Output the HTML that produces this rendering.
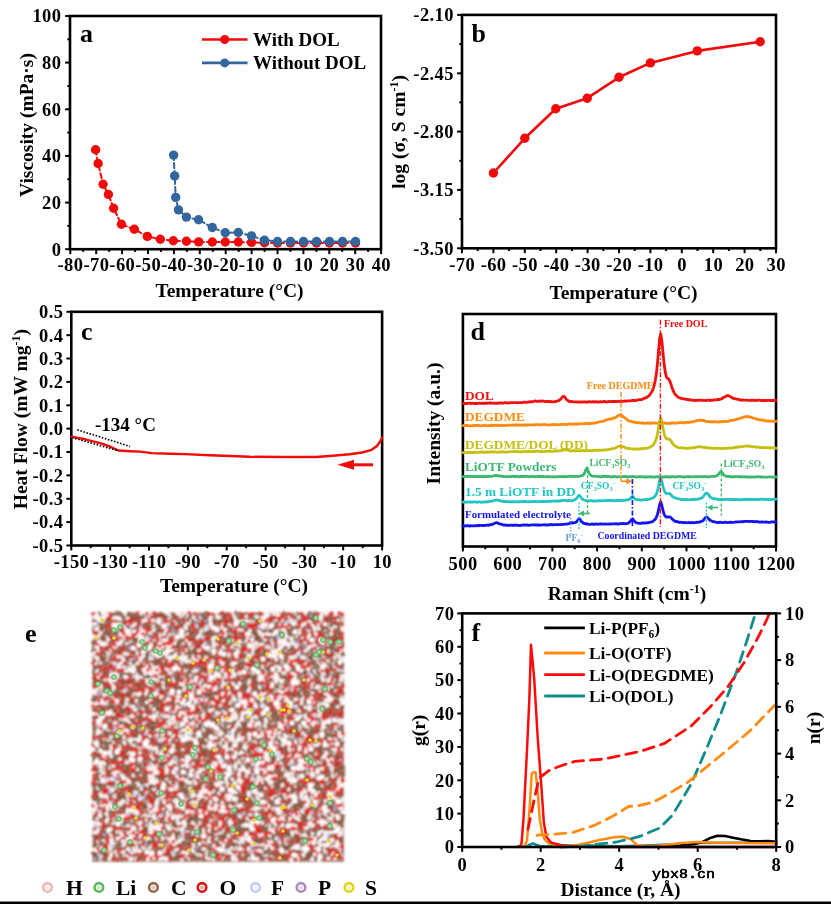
<!DOCTYPE html>
<html><head><meta charset="utf-8"><style>
html,body{margin:0;padding:0;background:#fff;}
svg{display:block;filter:blur(0.45px);}
svg text{font-family:"Liberation Serif",serif;font-weight:bold;}
</style></head><body>
<svg width="831" height="904" viewBox="0 0 831 904">
<defs><filter id="eblur" x="-5%" y="-5%" width="110%" height="110%"><feGaussianBlur stdDeviation="0.9"/></filter><radialGradient id="gsph"><stop offset="0" stop-color="#c0e8c0"/><stop offset="0.5" stop-color="#88cc88"/><stop offset="1" stop-color="#60b060"/></radialGradient><filter id="eblur2"><feGaussianBlur stdDeviation="0.4"/></filter></defs>
<rect width="831" height="904" fill="#fff"/>
<rect x="70" y="16" width="311" height="233.2" fill="none" stroke="#000" stroke-width="2.6"/>
<line x1="70.3" y1="249.2" x2="70.3" y2="254.1" stroke="#000" stroke-width="2" />
<line x1="83.2" y1="249.2" x2="83.2" y2="251.9" stroke="#000" stroke-width="2" />
<line x1="96.2" y1="249.2" x2="96.2" y2="254.1" stroke="#000" stroke-width="2" />
<line x1="109.2" y1="249.2" x2="109.2" y2="251.9" stroke="#000" stroke-width="2" />
<line x1="122.1" y1="249.2" x2="122.1" y2="254.1" stroke="#000" stroke-width="2" />
<line x1="135.1" y1="249.2" x2="135.1" y2="251.9" stroke="#000" stroke-width="2" />
<line x1="148" y1="249.2" x2="148" y2="254.1" stroke="#000" stroke-width="2" />
<line x1="160.9" y1="249.2" x2="160.9" y2="251.9" stroke="#000" stroke-width="2" />
<line x1="173.9" y1="249.2" x2="173.9" y2="254.1" stroke="#000" stroke-width="2" />
<line x1="186.9" y1="249.2" x2="186.9" y2="251.9" stroke="#000" stroke-width="2" />
<line x1="199.8" y1="249.2" x2="199.8" y2="254.1" stroke="#000" stroke-width="2" />
<line x1="212.8" y1="249.2" x2="212.8" y2="251.9" stroke="#000" stroke-width="2" />
<line x1="225.7" y1="249.2" x2="225.7" y2="254.1" stroke="#000" stroke-width="2" />
<line x1="238.7" y1="249.2" x2="238.7" y2="251.9" stroke="#000" stroke-width="2" />
<line x1="251.6" y1="249.2" x2="251.6" y2="254.1" stroke="#000" stroke-width="2" />
<line x1="264.6" y1="249.2" x2="264.6" y2="251.9" stroke="#000" stroke-width="2" />
<line x1="277.5" y1="249.2" x2="277.5" y2="254.1" stroke="#000" stroke-width="2" />
<line x1="290.4" y1="249.2" x2="290.4" y2="251.9" stroke="#000" stroke-width="2" />
<line x1="303.4" y1="249.2" x2="303.4" y2="254.1" stroke="#000" stroke-width="2" />
<line x1="316.4" y1="249.2" x2="316.4" y2="251.9" stroke="#000" stroke-width="2" />
<line x1="329.3" y1="249.2" x2="329.3" y2="254.1" stroke="#000" stroke-width="2" />
<line x1="342.2" y1="249.2" x2="342.2" y2="251.9" stroke="#000" stroke-width="2" />
<line x1="355.2" y1="249.2" x2="355.2" y2="254.1" stroke="#000" stroke-width="2" />
<line x1="368.1" y1="249.2" x2="368.1" y2="251.9" stroke="#000" stroke-width="2" />
<line x1="381.1" y1="249.2" x2="381.1" y2="254.1" stroke="#000" stroke-width="2" />
<text x="70.5" y="271.3" font-size="18.5" text-anchor="middle" fill="#000"  letter-spacing="0.4">-80</text>
<text x="96.4" y="271.3" font-size="18.5" text-anchor="middle" fill="#000"  letter-spacing="0.4">-70</text>
<text x="122.3" y="271.3" font-size="18.5" text-anchor="middle" fill="#000"  letter-spacing="0.4">-60</text>
<text x="148.2" y="271.3" font-size="18.5" text-anchor="middle" fill="#000"  letter-spacing="0.4">-50</text>
<text x="174.1" y="271.3" font-size="18.5" text-anchor="middle" fill="#000"  letter-spacing="0.4">-40</text>
<text x="200" y="271.3" font-size="18.5" text-anchor="middle" fill="#000"  letter-spacing="0.4">-30</text>
<text x="225.9" y="271.3" font-size="18.5" text-anchor="middle" fill="#000"  letter-spacing="0.4">-20</text>
<text x="251.8" y="271.3" font-size="18.5" text-anchor="middle" fill="#000"  letter-spacing="0.4">-10</text>
<text x="277.7" y="271.3" font-size="18.5" text-anchor="middle" fill="#000"  letter-spacing="0.4">0</text>
<text x="303.6" y="271.3" font-size="18.5" text-anchor="middle" fill="#000"  letter-spacing="0.4">10</text>
<text x="329.5" y="271.3" font-size="18.5" text-anchor="middle" fill="#000"  letter-spacing="0.4">20</text>
<text x="355.4" y="271.3" font-size="18.5" text-anchor="middle" fill="#000"  letter-spacing="0.4">30</text>
<text x="381.3" y="271.3" font-size="18.5" text-anchor="middle" fill="#000"  letter-spacing="0.4">40</text>
<line x1="65.1" y1="249.2" x2="70" y2="249.2" stroke="#000" stroke-width="2" />
<line x1="67.3" y1="225.9" x2="70" y2="225.9" stroke="#000" stroke-width="2" />
<line x1="65.1" y1="202.6" x2="70" y2="202.6" stroke="#000" stroke-width="2" />
<line x1="67.3" y1="179.2" x2="70" y2="179.2" stroke="#000" stroke-width="2" />
<line x1="65.1" y1="155.9" x2="70" y2="155.9" stroke="#000" stroke-width="2" />
<line x1="67.3" y1="132.6" x2="70" y2="132.6" stroke="#000" stroke-width="2" />
<line x1="65.1" y1="109.3" x2="70" y2="109.3" stroke="#000" stroke-width="2" />
<line x1="67.3" y1="86" x2="70" y2="86" stroke="#000" stroke-width="2" />
<line x1="65.1" y1="62.6" x2="70" y2="62.6" stroke="#000" stroke-width="2" />
<line x1="67.3" y1="39.3" x2="70" y2="39.3" stroke="#000" stroke-width="2" />
<line x1="65.1" y1="16" x2="70" y2="16" stroke="#000" stroke-width="2" />
<text x="61.4" y="255.5" font-size="18.5" text-anchor="end" fill="#000"  letter-spacing="0.4">0</text>
<text x="61.4" y="208.9" font-size="18.5" text-anchor="end" fill="#000"  letter-spacing="0.4">20</text>
<text x="61.4" y="162.2" font-size="18.5" text-anchor="end" fill="#000"  letter-spacing="0.4">40</text>
<text x="61.4" y="115.6" font-size="18.5" text-anchor="end" fill="#000"  letter-spacing="0.4">60</text>
<text x="61.4" y="68.9" font-size="18.5" text-anchor="end" fill="#000"  letter-spacing="0.4">80</text>
<text x="61.4" y="22.3" font-size="18.5" text-anchor="end" fill="#000"  letter-spacing="0.4">100</text>
<text transform="translate(33,125) rotate(-90)" font-size="19.5" text-anchor="middle" fill="#000">Viscosity (mPa·s)</text>
<text x="229.5" y="297" font-size="19.5" text-anchor="middle" fill="#000" >Temperature (°C)</text>
<text x="80" y="41.5" font-size="26" text-anchor="start" fill="#000" >a</text>
<path d="M95.6 149.8 L98.1 163.5 L103.1 184.2 L108.4 194.5 L113.6 208.3 L121.4 224.2 L134.3 229.3 L147.3 236.4 L160.3 239.3 L173.3 240.8 L186.4 241.3 L198.7 241.9 L212.3 242 L225.3 242 L238.3 242 L251.5 242.4 L264.5 242.8 L277.5 243 L290.5 243 L303.5 243 L316.5 243 L329.5 243 L342.5 243 L355.5 243" fill="none" stroke="#f00a0a" stroke-width="2" stroke-linejoin="round" stroke-linecap="round" stroke-dasharray="5 3"/>
<circle cx="95.6" cy="149.8" r="4.7" fill="#f00a0a"/>
<circle cx="98.1" cy="163.5" r="4.7" fill="#f00a0a"/>
<circle cx="103.1" cy="184.2" r="4.7" fill="#f00a0a"/>
<circle cx="108.4" cy="194.5" r="4.7" fill="#f00a0a"/>
<circle cx="113.6" cy="208.3" r="4.7" fill="#f00a0a"/>
<circle cx="121.4" cy="224.2" r="4.7" fill="#f00a0a"/>
<circle cx="134.3" cy="229.3" r="4.7" fill="#f00a0a"/>
<circle cx="147.3" cy="236.4" r="4.7" fill="#f00a0a"/>
<circle cx="160.3" cy="239.3" r="4.7" fill="#f00a0a"/>
<circle cx="173.3" cy="240.8" r="4.7" fill="#f00a0a"/>
<circle cx="186.4" cy="241.3" r="4.7" fill="#f00a0a"/>
<circle cx="198.7" cy="241.9" r="4.7" fill="#f00a0a"/>
<circle cx="212.3" cy="242" r="4.7" fill="#f00a0a"/>
<circle cx="225.3" cy="242" r="4.7" fill="#f00a0a"/>
<circle cx="238.3" cy="242" r="4.7" fill="#f00a0a"/>
<circle cx="251.5" cy="242.4" r="4.7" fill="#f00a0a"/>
<circle cx="264.5" cy="242.8" r="4.7" fill="#f00a0a"/>
<circle cx="277.5" cy="243" r="4.7" fill="#f00a0a"/>
<circle cx="290.5" cy="243" r="4.7" fill="#f00a0a"/>
<circle cx="303.5" cy="243" r="4.7" fill="#f00a0a"/>
<circle cx="316.5" cy="243" r="4.7" fill="#f00a0a"/>
<circle cx="329.5" cy="243" r="4.7" fill="#f00a0a"/>
<circle cx="342.5" cy="243" r="4.7" fill="#f00a0a"/>
<circle cx="355.5" cy="243" r="4.7" fill="#f00a0a"/>
<path d="M173.6 155.1 L174.7 175.9 L175.7 197.4 L178.5 209.9 L186.4 217.1 L198.6 219.8 L212.3 227.5 L225.3 232.7 L238.3 232.5 L251.5 235.9 L264.5 240.2 L277.5 241.5 L290.5 241.5 L303.5 241.5 L316.5 241.5 L329.5 241.5 L342.5 241.5 L355.5 241.5" fill="none" stroke="#33659e" stroke-width="2" stroke-linejoin="round" stroke-linecap="round" stroke-dasharray="5 3"/>
<circle cx="173.6" cy="155.1" r="4.7" fill="#33659e"/>
<circle cx="174.7" cy="175.9" r="4.7" fill="#33659e"/>
<circle cx="175.7" cy="197.4" r="4.7" fill="#33659e"/>
<circle cx="178.5" cy="209.9" r="4.7" fill="#33659e"/>
<circle cx="186.4" cy="217.1" r="4.7" fill="#33659e"/>
<circle cx="198.6" cy="219.8" r="4.7" fill="#33659e"/>
<circle cx="212.3" cy="227.5" r="4.7" fill="#33659e"/>
<circle cx="225.3" cy="232.7" r="4.7" fill="#33659e"/>
<circle cx="238.3" cy="232.5" r="4.7" fill="#33659e"/>
<circle cx="251.5" cy="235.9" r="4.7" fill="#33659e"/>
<circle cx="264.5" cy="240.2" r="4.7" fill="#33659e"/>
<circle cx="277.5" cy="241.5" r="4.7" fill="#33659e"/>
<circle cx="290.5" cy="241.5" r="4.7" fill="#33659e"/>
<circle cx="303.5" cy="241.5" r="4.7" fill="#33659e"/>
<circle cx="316.5" cy="241.5" r="4.7" fill="#33659e"/>
<circle cx="329.5" cy="241.5" r="4.7" fill="#33659e"/>
<circle cx="342.5" cy="241.5" r="4.7" fill="#33659e"/>
<circle cx="355.5" cy="241.5" r="4.7" fill="#33659e"/>
<line x1="202" y1="39.5" x2="247.5" y2="39.5" stroke="#f00a0a" stroke-width="2.6" />
<circle cx="224.7" cy="39.5" r="4.5" fill="#f00a0a"/>
<line x1="202" y1="62.9" x2="247.5" y2="62.9" stroke="#33659e" stroke-width="2.6" />
<circle cx="224.7" cy="62.9" r="4.5" fill="#33659e"/>
<text x="253" y="45.6" font-size="19" text-anchor="start" fill="#000" >With DOL</text>
<text x="253" y="69" font-size="19" text-anchor="start" fill="#000" >Without DOL</text>
<rect x="462" y="14.9" width="314" height="233.4" fill="none" stroke="#000" stroke-width="2.6"/>
<line x1="462" y1="248.3" x2="462" y2="253.2" stroke="#000" stroke-width="2" />
<line x1="477.7" y1="248.3" x2="477.7" y2="251" stroke="#000" stroke-width="2" />
<line x1="493.4" y1="248.3" x2="493.4" y2="253.2" stroke="#000" stroke-width="2" />
<line x1="509.1" y1="248.3" x2="509.1" y2="251" stroke="#000" stroke-width="2" />
<line x1="524.8" y1="248.3" x2="524.8" y2="253.2" stroke="#000" stroke-width="2" />
<line x1="540.5" y1="248.3" x2="540.5" y2="251" stroke="#000" stroke-width="2" />
<line x1="556.2" y1="248.3" x2="556.2" y2="253.2" stroke="#000" stroke-width="2" />
<line x1="571.9" y1="248.3" x2="571.9" y2="251" stroke="#000" stroke-width="2" />
<line x1="587.6" y1="248.3" x2="587.6" y2="253.2" stroke="#000" stroke-width="2" />
<line x1="603.3" y1="248.3" x2="603.3" y2="251" stroke="#000" stroke-width="2" />
<line x1="619" y1="248.3" x2="619" y2="253.2" stroke="#000" stroke-width="2" />
<line x1="634.7" y1="248.3" x2="634.7" y2="251" stroke="#000" stroke-width="2" />
<line x1="650.4" y1="248.3" x2="650.4" y2="253.2" stroke="#000" stroke-width="2" />
<line x1="666.1" y1="248.3" x2="666.1" y2="251" stroke="#000" stroke-width="2" />
<line x1="681.8" y1="248.3" x2="681.8" y2="253.2" stroke="#000" stroke-width="2" />
<line x1="697.5" y1="248.3" x2="697.5" y2="251" stroke="#000" stroke-width="2" />
<line x1="713.2" y1="248.3" x2="713.2" y2="253.2" stroke="#000" stroke-width="2" />
<line x1="728.9" y1="248.3" x2="728.9" y2="251" stroke="#000" stroke-width="2" />
<line x1="744.6" y1="248.3" x2="744.6" y2="253.2" stroke="#000" stroke-width="2" />
<line x1="760.3" y1="248.3" x2="760.3" y2="251" stroke="#000" stroke-width="2" />
<line x1="776" y1="248.3" x2="776" y2="253.2" stroke="#000" stroke-width="2" />
<text x="462.2" y="271.3" font-size="18.5" text-anchor="middle" fill="#000"  letter-spacing="0.4">-70</text>
<text x="493.6" y="271.3" font-size="18.5" text-anchor="middle" fill="#000"  letter-spacing="0.4">-60</text>
<text x="525" y="271.3" font-size="18.5" text-anchor="middle" fill="#000"  letter-spacing="0.4">-50</text>
<text x="556.4" y="271.3" font-size="18.5" text-anchor="middle" fill="#000"  letter-spacing="0.4">-40</text>
<text x="587.8" y="271.3" font-size="18.5" text-anchor="middle" fill="#000"  letter-spacing="0.4">-30</text>
<text x="619.2" y="271.3" font-size="18.5" text-anchor="middle" fill="#000"  letter-spacing="0.4">-20</text>
<text x="650.6" y="271.3" font-size="18.5" text-anchor="middle" fill="#000"  letter-spacing="0.4">-10</text>
<text x="682" y="271.3" font-size="18.5" text-anchor="middle" fill="#000"  letter-spacing="0.4">0</text>
<text x="713.4" y="271.3" font-size="18.5" text-anchor="middle" fill="#000"  letter-spacing="0.4">10</text>
<text x="744.8" y="271.3" font-size="18.5" text-anchor="middle" fill="#000"  letter-spacing="0.4">20</text>
<text x="776.2" y="271.3" font-size="18.5" text-anchor="middle" fill="#000"  letter-spacing="0.4">30</text>
<line x1="457.1" y1="14.9" x2="462" y2="14.9" stroke="#000" stroke-width="2" />
<line x1="459.3" y1="44.1" x2="462" y2="44.1" stroke="#000" stroke-width="2" />
<line x1="457.1" y1="73.3" x2="462" y2="73.3" stroke="#000" stroke-width="2" />
<line x1="459.3" y1="102.4" x2="462" y2="102.4" stroke="#000" stroke-width="2" />
<line x1="457.1" y1="131.6" x2="462" y2="131.6" stroke="#000" stroke-width="2" />
<line x1="459.3" y1="160.8" x2="462" y2="160.8" stroke="#000" stroke-width="2" />
<line x1="457.1" y1="189.9" x2="462" y2="189.9" stroke="#000" stroke-width="2" />
<line x1="459.3" y1="219.1" x2="462" y2="219.1" stroke="#000" stroke-width="2" />
<line x1="457.1" y1="248.3" x2="462" y2="248.3" stroke="#000" stroke-width="2" />
<text x="453.9" y="21.2" font-size="18.5" text-anchor="end" fill="#000"  letter-spacing="0.4">-2.10</text>
<text x="453.9" y="79.6" font-size="18.5" text-anchor="end" fill="#000"  letter-spacing="0.4">-2.45</text>
<text x="453.9" y="137.9" font-size="18.5" text-anchor="end" fill="#000"  letter-spacing="0.4">-2.80</text>
<text x="453.9" y="196.2" font-size="18.5" text-anchor="end" fill="#000"  letter-spacing="0.4">-3.15</text>
<text x="453.9" y="254.6" font-size="18.5" text-anchor="end" fill="#000"  letter-spacing="0.4">-3.50</text>
<text transform="translate(405.2,188.8) rotate(-90)" font-size="19.5" text-anchor="start">log (σ, S cm<tspan font-size="12" dy="-7">-1</tspan><tspan dy="7">)</tspan></text>
<text x="623.5" y="299" font-size="19.5" text-anchor="middle" fill="#000" >Temperature (°C)</text>
<text x="471.5" y="42.2" font-size="26" text-anchor="start" fill="#000" >b</text>
<path d="M493.4 173 L524.8 138.3 L555.8 108.7 L587.2 98.2 L619 77.3 L650.4 62.9 L697.3 50.9 L760.2 41.8" fill="none" stroke="#f00a0a" stroke-width="2.6" stroke-linejoin="round" stroke-linecap="round" />
<circle cx="493.4" cy="173" r="4.7" fill="#f00a0a"/>
<circle cx="524.8" cy="138.3" r="4.7" fill="#f00a0a"/>
<circle cx="555.8" cy="108.7" r="4.7" fill="#f00a0a"/>
<circle cx="587.2" cy="98.2" r="4.7" fill="#f00a0a"/>
<circle cx="619" cy="77.3" r="4.7" fill="#f00a0a"/>
<circle cx="650.4" cy="62.9" r="4.7" fill="#f00a0a"/>
<circle cx="697.3" cy="50.9" r="4.7" fill="#f00a0a"/>
<circle cx="760.2" cy="41.8" r="4.7" fill="#f00a0a"/>
<rect x="71.3" y="311.8" width="310.8" height="233.7" fill="none" stroke="#000" stroke-width="2.6"/>
<line x1="71.3" y1="545.5" x2="71.3" y2="550.4" stroke="#000" stroke-width="2" />
<line x1="90.7" y1="545.5" x2="90.7" y2="548.2" stroke="#000" stroke-width="2" />
<line x1="110.2" y1="545.5" x2="110.2" y2="550.4" stroke="#000" stroke-width="2" />
<line x1="129.6" y1="545.5" x2="129.6" y2="548.2" stroke="#000" stroke-width="2" />
<line x1="149" y1="545.5" x2="149" y2="550.4" stroke="#000" stroke-width="2" />
<line x1="168.4" y1="545.5" x2="168.4" y2="548.2" stroke="#000" stroke-width="2" />
<line x1="187.8" y1="545.5" x2="187.8" y2="550.4" stroke="#000" stroke-width="2" />
<line x1="207.3" y1="545.5" x2="207.3" y2="548.2" stroke="#000" stroke-width="2" />
<line x1="226.7" y1="545.5" x2="226.7" y2="550.4" stroke="#000" stroke-width="2" />
<line x1="246.1" y1="545.5" x2="246.1" y2="548.2" stroke="#000" stroke-width="2" />
<line x1="265.6" y1="545.5" x2="265.6" y2="550.4" stroke="#000" stroke-width="2" />
<line x1="285" y1="545.5" x2="285" y2="548.2" stroke="#000" stroke-width="2" />
<line x1="304.4" y1="545.5" x2="304.4" y2="550.4" stroke="#000" stroke-width="2" />
<line x1="323.8" y1="545.5" x2="323.8" y2="548.2" stroke="#000" stroke-width="2" />
<line x1="343.2" y1="545.5" x2="343.2" y2="550.4" stroke="#000" stroke-width="2" />
<line x1="362.7" y1="545.5" x2="362.7" y2="548.2" stroke="#000" stroke-width="2" />
<line x1="382.1" y1="545.5" x2="382.1" y2="550.4" stroke="#000" stroke-width="2" />
<text x="71.5" y="567.6" font-size="18.5" text-anchor="middle" fill="#000"  letter-spacing="0.4">-150</text>
<text x="110.4" y="567.6" font-size="18.5" text-anchor="middle" fill="#000"  letter-spacing="0.4">-130</text>
<text x="149.2" y="567.6" font-size="18.5" text-anchor="middle" fill="#000"  letter-spacing="0.4">-110</text>
<text x="188" y="567.6" font-size="18.5" text-anchor="middle" fill="#000"  letter-spacing="0.4">-90</text>
<text x="226.9" y="567.6" font-size="18.5" text-anchor="middle" fill="#000"  letter-spacing="0.4">-70</text>
<text x="265.8" y="567.6" font-size="18.5" text-anchor="middle" fill="#000"  letter-spacing="0.4">-50</text>
<text x="304.6" y="567.6" font-size="18.5" text-anchor="middle" fill="#000"  letter-spacing="0.4">-30</text>
<text x="343.4" y="567.6" font-size="18.5" text-anchor="middle" fill="#000"  letter-spacing="0.4">-10</text>
<text x="382.3" y="567.6" font-size="18.5" text-anchor="middle" fill="#000"  letter-spacing="0.4">10</text>
<line x1="66.4" y1="311.8" x2="71.3" y2="311.8" stroke="#000" stroke-width="2" />
<text x="63.4" y="318.1" font-size="18.5" text-anchor="end" fill="#000"  letter-spacing="0.4">0.5</text>
<line x1="66.4" y1="335.2" x2="71.3" y2="335.2" stroke="#000" stroke-width="2" />
<text x="63.4" y="341.5" font-size="18.5" text-anchor="end" fill="#000"  letter-spacing="0.4">0.4</text>
<line x1="66.4" y1="358.5" x2="71.3" y2="358.5" stroke="#000" stroke-width="2" />
<text x="63.4" y="364.8" font-size="18.5" text-anchor="end" fill="#000"  letter-spacing="0.4">0.3</text>
<line x1="66.4" y1="381.9" x2="71.3" y2="381.9" stroke="#000" stroke-width="2" />
<text x="63.4" y="388.2" font-size="18.5" text-anchor="end" fill="#000"  letter-spacing="0.4">0.2</text>
<line x1="66.4" y1="405.3" x2="71.3" y2="405.3" stroke="#000" stroke-width="2" />
<text x="63.4" y="411.6" font-size="18.5" text-anchor="end" fill="#000"  letter-spacing="0.4">0.1</text>
<line x1="66.4" y1="428.6" x2="71.3" y2="428.6" stroke="#000" stroke-width="2" />
<text x="63.4" y="434.9" font-size="18.5" text-anchor="end" fill="#000"  letter-spacing="0.4">0.0</text>
<line x1="66.4" y1="452" x2="71.3" y2="452" stroke="#000" stroke-width="2" />
<text x="63.4" y="458.3" font-size="18.5" text-anchor="end" fill="#000"  letter-spacing="0.4">-0.1</text>
<line x1="66.4" y1="475.4" x2="71.3" y2="475.4" stroke="#000" stroke-width="2" />
<text x="63.4" y="481.7" font-size="18.5" text-anchor="end" fill="#000"  letter-spacing="0.4">-0.2</text>
<line x1="66.4" y1="498.8" x2="71.3" y2="498.8" stroke="#000" stroke-width="2" />
<text x="63.4" y="505.1" font-size="18.5" text-anchor="end" fill="#000"  letter-spacing="0.4">-0.3</text>
<line x1="66.4" y1="522.1" x2="71.3" y2="522.1" stroke="#000" stroke-width="2" />
<text x="63.4" y="528.4" font-size="18.5" text-anchor="end" fill="#000"  letter-spacing="0.4">-0.4</text>
<line x1="66.4" y1="545.5" x2="71.3" y2="545.5" stroke="#000" stroke-width="2" />
<text x="63.4" y="551.8" font-size="18.5" text-anchor="end" fill="#000"  letter-spacing="0.4">-0.5</text>
<text transform="translate(26.5,509.2) rotate(-90)" font-size="19.5" text-anchor="start">Heat Flow (mW mg<tspan font-size="12" dy="-7">-1</tspan><tspan dy="7">)</tspan></text>
<text x="234" y="592" font-size="19.5" text-anchor="middle" fill="#000" >Temperature (°C)</text>
<text x="81" y="340" font-size="26" text-anchor="start" fill="#000" >c</text>
<path d="M71.3 436.6 L85 439.3 L101.1 443.3 L110 446.5 L118.4 450.5 L130 451.2 L140 451.6 L151.6 453.1 L170 453.8 L185 454.1 L210 455.3 L250 456.8 L283 457 L316 457 L330 456 L349.6 454.2 L362 452.5 L371.7 449.8 L377 446 L380.5 441 L382 437.5" fill="none" stroke="#f00a0a" stroke-width="2.4" stroke-linejoin="round" stroke-linecap="round" />
<line x1="77.3" y1="429.8" x2="130" y2="446.4" stroke="#000" stroke-width="1.6" stroke-dasharray="1.6 1.6"/>
<line x1="72" y1="437.6" x2="118.4" y2="450.8" stroke="#000" stroke-width="1.6" stroke-dasharray="1.6 1.6"/>
<text x="95" y="431" font-size="19" text-anchor="start" fill="#000" >-134 °C</text>
<line x1="352" y1="464.8" x2="373" y2="464.8" stroke="#f00a0a" stroke-width="3" />
<path d="M337.4 464.8 L354 459.8 L354 469.8 Z" fill="#f00a0a"/>
<rect x="462.9" y="314" width="313.1" height="232.5" fill="none" stroke="#000" stroke-width="2.6"/>
<line x1="462.9" y1="546.5" x2="462.9" y2="551.4" stroke="#000" stroke-width="2" />
<line x1="485.3" y1="546.5" x2="485.3" y2="549.2" stroke="#000" stroke-width="2" />
<line x1="507.6" y1="546.5" x2="507.6" y2="551.4" stroke="#000" stroke-width="2" />
<line x1="530" y1="546.5" x2="530" y2="549.2" stroke="#000" stroke-width="2" />
<line x1="552.4" y1="546.5" x2="552.4" y2="551.4" stroke="#000" stroke-width="2" />
<line x1="574.7" y1="546.5" x2="574.7" y2="549.2" stroke="#000" stroke-width="2" />
<line x1="597.1" y1="546.5" x2="597.1" y2="551.4" stroke="#000" stroke-width="2" />
<line x1="619.5" y1="546.5" x2="619.5" y2="549.2" stroke="#000" stroke-width="2" />
<line x1="641.8" y1="546.5" x2="641.8" y2="551.4" stroke="#000" stroke-width="2" />
<line x1="664.2" y1="546.5" x2="664.2" y2="549.2" stroke="#000" stroke-width="2" />
<line x1="686.5" y1="546.5" x2="686.5" y2="551.4" stroke="#000" stroke-width="2" />
<line x1="708.9" y1="546.5" x2="708.9" y2="549.2" stroke="#000" stroke-width="2" />
<line x1="731.3" y1="546.5" x2="731.3" y2="551.4" stroke="#000" stroke-width="2" />
<line x1="753.6" y1="546.5" x2="753.6" y2="549.2" stroke="#000" stroke-width="2" />
<line x1="776" y1="546.5" x2="776" y2="551.4" stroke="#000" stroke-width="2" />
<text x="463.1" y="569.8" font-size="18.5" text-anchor="middle" fill="#000"  letter-spacing="0.4">500</text>
<text x="507.8" y="569.8" font-size="18.5" text-anchor="middle" fill="#000"  letter-spacing="0.4">600</text>
<text x="552.6" y="569.8" font-size="18.5" text-anchor="middle" fill="#000"  letter-spacing="0.4">700</text>
<text x="597.3" y="569.8" font-size="18.5" text-anchor="middle" fill="#000"  letter-spacing="0.4">800</text>
<text x="642" y="569.8" font-size="18.5" text-anchor="middle" fill="#000"  letter-spacing="0.4">900</text>
<text x="686.7" y="569.8" font-size="18.5" text-anchor="middle" fill="#000"  letter-spacing="0.4">1000</text>
<text x="731.5" y="569.8" font-size="18.5" text-anchor="middle" fill="#000"  letter-spacing="0.4">1100</text>
<text x="776.2" y="569.8" font-size="18.5" text-anchor="middle" fill="#000"  letter-spacing="0.4">1200</text>
<text transform="translate(440,423.5) rotate(-90)" font-size="19.5" text-anchor="middle" fill="#000">Intensity (a.u.)</text>
<text x="627" y="599.5" font-size="19.5" text-anchor="middle">Raman Shift (cm<tspan font-size="12" dy="-7">-1</tspan><tspan dy="7">)</tspan></text>
<text x="470.5" y="340.2" font-size="26" text-anchor="start" fill="#000" >d</text>
<path d="M462.9 403.3 L464 403.5 L465.1 403.3 L466.3 403.5 L467.4 403.5 L468.5 403.1 L469.6 403.1 L470.7 403.6 L471.8 403.2 L473 403.2 L474.1 403.6 L475.2 403.3 L476.3 403.5 L477.4 403.3 L478.6 403.3 L479.7 403 L480.8 403.3 L481.9 403.4 L483 403.2 L484.1 403.3 L485.3 403.3 L486.4 402.9 L487.5 403.3 L488.6 403.2 L489.7 403 L490.9 402.8 L492 403.3 L493.1 403.1 L494.2 403.2 L495.3 403.3 L496.4 403.2 L497.6 403.3 L498.7 402.9 L499.8 403.2 L500.9 402.9 L502 403.2 L503.2 403.2 L504.3 402.7 L505.4 402.7 L506.5 402.7 L507.6 403.1 L508.7 402.8 L509.9 402.9 L511 402.6 L512.1 402.7 L513.2 402.6 L514.3 402.6 L515.5 402.7 L516.6 402.7 L517.7 402.8 L518.8 402.6 L519.9 402.7 L521 402.6 L522.2 402.7 L523.3 402.4 L524.4 402 L525.5 402.4 L526.6 402.4 L527.8 402.2 L528.9 402 L530 401.9 L531.1 401.5 L532.2 401.8 L533.3 401.5 L534.5 401.2 L535.6 401 L536.7 401.4 L537.8 401.4 L538.9 400.9 L540.1 401.3 L541.2 401.1 L542.3 401 L543.4 401.2 L544.5 401.5 L545.6 401.7 L546.8 401.2 L547.9 401.6 L549 401.3 L550.1 401.8 L551.2 401.5 L552.4 401.9 L553.5 401.9 L554.6 401.5 L555.7 401.7 L556.8 401.2 L557.9 400.7 L559.1 400.6 L560.2 399.5 L561.3 398.4 L562.4 397 L563.5 396.2 L564.7 396.9 L565.8 398.4 L566.9 400.1 L568 400.5 L569.1 401.3 L570.2 401.6 L571.4 401.5 L572.5 401.7 L573.6 401.8 L574.7 401.9 L575.8 401.9 L577 402 L578.1 402 L579.2 402.2 L580.3 402 L581.4 401.9 L582.5 402.1 L583.7 401.8 L584.8 401.9 L585.9 402.3 L587 402 L588.1 402 L589.3 401.7 L590.4 401.9 L591.5 402 L592.6 401.6 L593.7 402 L594.8 402 L596 401.6 L597.1 402 L598.2 401.8 L599.3 402 L600.4 401.7 L601.6 401.9 L602.7 401.9 L603.8 401.5 L604.9 401.5 L606 401.8 L607.1 402 L608.3 401.5 L609.4 401.6 L610.5 401.7 L611.6 401.5 L612.7 401.5 L613.9 401.4 L615 401.5 L616.1 401.6 L617.2 401.3 L618.3 401.4 L619.5 401.6 L620.6 401.1 L621.7 401.3 L622.8 401.4 L623.9 401.1 L625 401 L626.2 401.3 L627.3 400.9 L628.4 400.8 L629.5 400.9 L630.6 400.9 L631.8 400.5 L632.9 400.5 L634 400.4 L635.1 400.6 L636.2 400.2 L637.3 400.3 L638.5 399.7 L639.6 399.6 L640.7 399.6 L641.8 399.5 L642.9 398.9 L644.1 398.4 L645.2 397.9 L646.3 397.6 L647.4 396.7 L648.5 396.2 L649.6 395.1 L650.8 393.3 L651.9 391.5 L653 389.3 L654.1 385.7 L655.2 380.8 L656.4 373.3 L657.5 363 L658.6 350.2 L659.7 338.2 L660.8 333.9 L661.9 341.4 L663.1 353.9 L664.2 364.8 L665.3 372.2 L666.4 376.8 L667.5 378.3 L668.7 379 L669.8 381.1 L670.9 384 L672 387.7 L673.1 390.4 L674.2 393 L675.4 394.7 L676.5 395.5 L677.6 396.7 L678.7 397.5 L679.8 397.9 L681 398.3 L682.1 398.5 L683.2 398.8 L684.3 399 L685.4 399.1 L686.5 399.6 L687.7 399.5 L688.8 400 L689.9 399.6 L691 400.2 L692.1 400.2 L693.3 400.4 L694.4 400.4 L695.5 400.5 L696.6 400.3 L697.7 400 L698.8 400.5 L700 400.1 L701.1 400.2 L702.2 400.5 L703.3 400.4 L704.4 400.3 L705.6 400.6 L706.7 400.4 L707.8 400.2 L708.9 400.1 L710 400.5 L711.1 400.2 L712.3 400.3 L713.4 400 L714.5 399.8 L715.6 399.9 L716.7 399.9 L717.9 399.4 L719 399.5 L720.1 399.3 L721.2 398.9 L722.3 398.4 L723.4 397.4 L724.6 397.1 L725.7 396.6 L726.8 395.6 L727.9 395.6 L729 395.9 L730.2 396.6 L731.3 397.2 L732.4 397.9 L733.5 398.6 L734.6 398.5 L735.7 398.9 L736.9 399.2 L738 399.4 L739.1 399.5 L740.2 400.2 L741.3 400.2 L742.5 399.8 L743.6 400.1 L744.7 400.1 L745.8 400.1 L746.9 400.2 L748 400.4 L749.2 400.4 L750.3 400.3 L751.4 400.2 L752.5 400.3 L753.6 400.2 L754.8 400.4 L755.9 400.5 L757 400.3 L758.1 400.2 L759.2 400.2 L760.3 400.3 L761.5 400.5 L762.6 400.6 L763.7 400.3 L764.8 400.6 L765.9 400.5 L767.1 400.4 L768.2 400.3 L769.3 400.4 L770.4 400.5 L771.5 400.3 L772.6 400.5 L773.8 400.3 L774.9 400.2 L776 400.4" fill="none" stroke="#f01010" stroke-width="2.8" stroke-linejoin="round" stroke-linecap="round" />
<path d="M462.9 425.6 L464 425.5 L465.1 425.7 L466.3 425.5 L467.4 425.5 L468.5 425.6 L469.6 425.9 L470.7 425.9 L471.8 425.8 L473 425.5 L474.1 425.7 L475.2 425.5 L476.3 425.4 L477.4 425.4 L478.6 425.4 L479.7 425.8 L480.8 425.8 L481.9 425.7 L483 425.7 L484.1 425.3 L485.3 425.4 L486.4 425.6 L487.5 425.6 L488.6 425.7 L489.7 425.7 L490.9 425.2 L492 425.5 L493.1 425.5 L494.2 425.4 L495.3 425.2 L496.4 425.4 L497.6 425.1 L498.7 425.6 L499.8 425.5 L500.9 425.3 L502 425.2 L503.2 425.5 L504.3 425.3 L505.4 425.5 L506.5 425.5 L507.6 425.2 L508.7 425.2 L509.9 425.3 L511 425.2 L512.1 425 L513.2 425.1 L514.3 425.3 L515.5 424.9 L516.6 424.9 L517.7 425.2 L518.8 425 L519.9 425.1 L521 425.1 L522.2 425 L523.3 425.3 L524.4 424.8 L525.5 425 L526.6 424.8 L527.8 425.1 L528.9 424.8 L530 424.9 L531.1 425.1 L532.2 424.8 L533.3 424.9 L534.5 425.1 L535.6 424.6 L536.7 424.6 L537.8 424.7 L538.9 425 L540.1 424.9 L541.2 424.6 L542.3 424.7 L543.4 424.6 L544.5 424.7 L545.6 424.5 L546.8 424.8 L547.9 424.9 L549 425 L550.1 424.8 L551.2 424.9 L552.4 424.3 L553.5 424.5 L554.6 424.9 L555.7 424.7 L556.8 424.5 L557.9 424.8 L559.1 424.6 L560.2 424.7 L561.3 424.4 L562.4 424.3 L563.5 424.4 L564.7 424.2 L565.8 424.3 L566.9 424.6 L568 424.2 L569.1 424 L570.2 424 L571.4 424.1 L572.5 424.4 L573.6 424.1 L574.7 424 L575.8 423.9 L577 424.4 L578.1 424 L579.2 423.8 L580.3 423.7 L581.4 423.7 L582.5 423.7 L583.7 423.9 L584.8 423.6 L585.9 423.4 L587 423.6 L588.1 423.4 L589.3 423.8 L590.4 423.2 L591.5 423.3 L592.6 423.3 L593.7 423 L594.8 423.2 L596 422.7 L597.1 422.4 L598.2 422.3 L599.3 421.8 L600.4 421.7 L601.6 421.3 L602.7 421.4 L603.8 421 L604.9 420.4 L606 419.8 L607.1 419.6 L608.3 419.3 L609.4 419 L610.5 418.8 L611.6 419 L612.7 418.2 L613.9 417.8 L615 417.8 L616.1 416.9 L617.2 416.4 L618.3 415.4 L619.5 415.2 L620.6 415 L621.7 415.6 L622.8 416.3 L623.9 417.2 L625 417.9 L626.2 418.8 L627.3 420 L628.4 420.6 L629.5 421.1 L630.6 421.2 L631.8 421.7 L632.9 422 L634 422.2 L635.1 422.5 L636.2 422.4 L637.3 422.6 L638.5 422.8 L639.6 422.6 L640.7 423.1 L641.8 423.1 L642.9 422.7 L644.1 423.3 L645.2 423.3 L646.3 423.1 L647.4 422.8 L648.5 423.3 L649.6 422.9 L650.8 423.4 L651.9 423.2 L653 422.9 L654.1 422.9 L655.2 423.2 L656.4 423.2 L657.5 423.3 L658.6 423.4 L659.7 423 L660.8 422.8 L661.9 423.4 L663.1 422.8 L664.2 423.3 L665.3 422.9 L666.4 423.3 L667.5 423.3 L668.7 423.3 L669.8 423.1 L670.9 423.3 L672 422.8 L673.1 423.1 L674.2 422.9 L675.4 423.2 L676.5 423.1 L677.6 422.9 L678.7 422.9 L679.8 422.5 L681 422.5 L682.1 422.8 L683.2 422.7 L684.3 422.9 L685.4 422.6 L686.5 422.3 L687.7 422.3 L688.8 422.5 L689.9 422.2 L691 421.7 L692.1 422 L693.3 421.8 L694.4 421.1 L695.5 421.1 L696.6 420.7 L697.7 420.7 L698.8 420.2 L700 420.1 L701.1 420.3 L702.2 420.7 L703.3 420.4 L704.4 420.7 L705.6 421.2 L706.7 421.6 L707.8 421.5 L708.9 421.6 L710 421.9 L711.1 421.9 L712.3 421.6 L713.4 422.1 L714.5 421.7 L715.6 421.7 L716.7 422 L717.9 421.8 L719 422 L720.1 421.5 L721.2 421.9 L722.3 421.4 L723.4 421.3 L724.6 421.5 L725.7 421.3 L726.8 421.3 L727.9 421.4 L729 421.1 L730.2 420.5 L731.3 420.5 L732.4 420.4 L733.5 420.2 L734.6 420 L735.7 419.6 L736.9 419.1 L738 418.8 L739.1 418.8 L740.2 418.1 L741.3 417.9 L742.5 417.7 L743.6 417.1 L744.7 416.9 L745.8 416.7 L746.9 416.4 L748 416.8 L749.2 416.7 L750.3 417.3 L751.4 417.2 L752.5 417.9 L753.6 418.2 L754.8 418.5 L755.9 418.8 L757 418.9 L758.1 419.6 L759.2 419.6 L760.3 420.1 L761.5 420 L762.6 420.1 L763.7 420.3 L764.8 420.9 L765.9 420.6 L767.1 421.2 L768.2 421 L769.3 421.2 L770.4 421.1 L771.5 421.4 L772.6 421.1 L773.8 421.3 L774.9 421.7 L776 421.3" fill="none" stroke="#ff8a10" stroke-width="2.8" stroke-linejoin="round" stroke-linecap="round" />
<path d="M462.9 452.6 L464 452.6 L465.1 452.6 L466.3 452.7 L467.4 452.6 L468.5 452.7 L469.6 452.1 L470.7 452.3 L471.8 452.6 L473 452.4 L474.1 452.6 L475.2 452.1 L476.3 452.3 L477.4 452.1 L478.6 452.3 L479.7 452.3 L480.8 451.9 L481.9 452 L483 452.1 L484.1 452.4 L485.3 452.3 L486.4 452 L487.5 452.3 L488.6 451.9 L489.7 452.2 L490.9 451.9 L492 451.8 L493.1 452.3 L494.2 451.9 L495.3 451.9 L496.4 452.3 L497.6 452.2 L498.7 451.9 L499.8 452.2 L500.9 452 L502 452 L503.2 451.7 L504.3 452.2 L505.4 452 L506.5 452.2 L507.6 452.1 L508.7 451.7 L509.9 451.7 L511 451.6 L512.1 451.6 L513.2 451.5 L514.3 451.6 L515.5 451.8 L516.6 451.4 L517.7 451.8 L518.8 451.6 L519.9 451.6 L521 451.9 L522.2 451.6 L523.3 451.5 L524.4 451.6 L525.5 451.7 L526.6 451.3 L527.8 451.9 L528.9 451.3 L530 451.7 L531.1 451.7 L532.2 451.2 L533.3 451.7 L534.5 451.4 L535.6 451.5 L536.7 451.1 L537.8 451.1 L538.9 451.2 L540.1 451.7 L541.2 451.2 L542.3 451.5 L543.4 451.6 L544.5 451.6 L545.6 451.2 L546.8 451.2 L547.9 451.3 L549 451.4 L550.1 451 L551.2 451.3 L552.4 451.3 L553.5 451.3 L554.6 450.8 L555.7 451.3 L556.8 450.7 L557.9 450.8 L559.1 450.9 L560.2 450.9 L561.3 450.4 L562.4 450.4 L563.5 449.7 L564.7 449.4 L565.8 449.7 L566.9 450 L568 450.2 L569.1 450.4 L570.2 450.8 L571.4 451 L572.5 450.5 L573.6 450.5 L574.7 451.1 L575.8 450.8 L577 450.7 L578.1 450.6 L579.2 450.8 L580.3 450.9 L581.4 450.7 L582.5 450.6 L583.7 450.4 L584.8 450.9 L585.9 450.3 L587 450.6 L588.1 450.8 L589.3 450.3 L590.4 450.6 L591.5 450.8 L592.6 450.5 L593.7 450.6 L594.8 450.1 L596 450.3 L597.1 450.1 L598.2 450.5 L599.3 450.1 L600.4 450.1 L601.6 450.4 L602.7 450.2 L603.8 450.2 L604.9 449.9 L606 449.8 L607.1 449.8 L608.3 449.5 L609.4 449.3 L610.5 449.1 L611.6 448.7 L612.7 448.6 L613.9 448.6 L615 448.2 L616.1 447.6 L617.2 447 L618.3 446.5 L619.5 446 L620.6 446 L621.7 446.4 L622.8 446.8 L623.9 446.9 L625 447.6 L626.2 448 L627.3 448.3 L628.4 448.5 L629.5 448.7 L630.6 448.6 L631.8 449 L632.9 448.8 L634 449 L635.1 449.2 L636.2 449.1 L637.3 448.9 L638.5 449.2 L639.6 449 L640.7 448.9 L641.8 448.5 L642.9 448.7 L644.1 448.4 L645.2 448.5 L646.3 448.2 L647.4 448.1 L648.5 447.7 L649.6 447.4 L650.8 446.6 L651.9 446 L653 445.1 L654.1 443.7 L655.2 441.3 L656.4 438.5 L657.5 433.8 L658.6 427.2 L659.7 420.5 L660.8 418.1 L661.9 422.2 L663.1 428.8 L664.2 433.8 L665.3 437.3 L666.4 438.9 L667.5 439 L668.7 439 L669.8 439.4 L670.9 440.9 L672 442.4 L673.1 444.3 L674.2 445.4 L675.4 446.2 L676.5 446.7 L677.6 447.2 L678.7 447.7 L679.8 447.8 L681 448 L682.1 447.7 L683.2 447.9 L684.3 448.1 L685.4 448.3 L686.5 448.1 L687.7 448.3 L688.8 448.3 L689.9 447.9 L691 448.1 L692.1 447.8 L693.3 447.6 L694.4 447.5 L695.5 447.4 L696.6 447.1 L697.7 446.9 L698.8 446.6 L700 446.8 L701.1 446.8 L702.2 447.1 L703.3 447.3 L704.4 447.3 L705.6 447.9 L706.7 447.5 L707.8 447.9 L708.9 447.9 L710 448.1 L711.1 448 L712.3 448.5 L713.4 448.2 L714.5 448.1 L715.6 448.4 L716.7 448.1 L717.9 448.4 L719 448.3 L720.1 448.4 L721.2 448.6 L722.3 448.5 L723.4 448.2 L724.6 448.4 L725.7 448.3 L726.8 448.1 L727.9 447.9 L729 448.1 L730.2 448 L731.3 448.1 L732.4 448.1 L733.5 447.7 L734.6 447.5 L735.7 447.7 L736.9 447 L738 446.9 L739.1 447 L740.2 446.9 L741.3 446.4 L742.5 446.6 L743.6 446.6 L744.7 446.1 L745.8 446.1 L746.9 445.9 L748 446 L749.2 446.4 L750.3 446.2 L751.4 446.7 L752.5 446.8 L753.6 446.7 L754.8 446.7 L755.9 447.3 L757 447.1 L758.1 447.2 L759.2 447.2 L760.3 447.7 L761.5 447.5 L762.6 447.4 L763.7 447.6 L764.8 447.5 L765.9 447.8 L767.1 447.7 L768.2 447.7 L769.3 448 L770.4 448 L771.5 447.6 L772.6 447.9 L773.8 447.8 L774.9 448.2 L776 448.1" fill="none" stroke="#c4c010" stroke-width="2.8" stroke-linejoin="round" stroke-linecap="round" />
<path d="M462.9 476.7 L464 476.7 L465.1 476.5 L466.3 476.3 L467.4 476.2 L468.5 476.6 L469.6 476.5 L470.7 476.6 L471.8 476.4 L473 476.7 L474.1 476.4 L475.2 476.7 L476.3 476.6 L477.4 476.4 L478.6 476.5 L479.7 476.6 L480.8 476.3 L481.9 476.5 L483 476.6 L484.1 476.3 L485.3 476.6 L486.4 476.5 L487.5 476.6 L488.6 476.3 L489.7 476.1 L490.9 476.4 L492 476.3 L493.1 476 L494.2 475.6 L495.3 475.5 L496.4 475.6 L497.6 475.5 L498.7 476.1 L499.8 476.1 L500.9 476 L502 476.4 L503.2 476.3 L504.3 476.6 L505.4 476.7 L506.5 476.5 L507.6 476.6 L508.7 476.6 L509.9 476.7 L511 476.8 L512.1 476.2 L513.2 476.4 L514.3 476.6 L515.5 476.4 L516.6 476.6 L517.7 476.3 L518.8 476.8 L519.9 476.6 L521 476.3 L522.2 476.7 L523.3 476.5 L524.4 476.4 L525.5 476.6 L526.6 476.4 L527.8 476.4 L528.9 476.8 L530 476.7 L531.1 476.3 L532.2 476.8 L533.3 476.3 L534.5 476.5 L535.6 476.8 L536.7 476.7 L537.8 476.5 L538.9 476.5 L540.1 476.5 L541.2 476.4 L542.3 476.9 L543.4 476.3 L544.5 476.6 L545.6 476.8 L546.8 476.5 L547.9 476.9 L549 476.5 L550.1 476.9 L551.2 476.8 L552.4 476.7 L553.5 476.8 L554.6 476.6 L555.7 476.8 L556.8 476.8 L557.9 476.6 L559.1 476.6 L560.2 476.7 L561.3 476.6 L562.4 476.4 L563.5 476.8 L564.7 476.5 L565.8 476.6 L566.9 476.8 L568 476.4 L569.1 476.3 L570.2 476.3 L571.4 476.6 L572.5 476.4 L573.6 476.4 L574.7 476.5 L575.8 476.7 L577 476.2 L578.1 476.3 L579.2 476.4 L580.3 476.1 L581.4 475.6 L582.5 475.3 L583.7 474.5 L584.8 472.5 L585.9 469.4 L587 467.7 L588.1 471.1 L589.3 473.5 L590.4 475 L591.5 475.8 L592.6 476.2 L593.7 476.1 L594.8 476.3 L596 476.3 L597.1 476.4 L598.2 476.5 L599.3 476.7 L600.4 476.8 L601.6 476.5 L602.7 476.3 L603.8 476.6 L604.9 476.4 L606 476.4 L607.1 476.8 L608.3 476.4 L609.4 476.8 L610.5 476.6 L611.6 477 L612.7 476.9 L613.9 476.4 L615 476.5 L616.1 477 L617.2 476.8 L618.3 476.7 L619.5 476.9 L620.6 476.9 L621.7 476.7 L622.8 476.7 L623.9 476.5 L625 476.7 L626.2 476.5 L627.3 476.8 L628.4 476.8 L629.5 476.5 L630.6 476.8 L631.8 476.5 L632.9 476.5 L634 476.8 L635.1 476.7 L636.2 477 L637.3 476.8 L638.5 476.9 L639.6 476.5 L640.7 477 L641.8 476.5 L642.9 476.8 L644.1 477 L645.2 477 L646.3 477 L647.4 476.8 L648.5 476.9 L649.6 477 L650.8 476.6 L651.9 477.1 L653 477 L654.1 476.8 L655.2 477 L656.4 476.8 L657.5 476.7 L658.6 476.9 L659.7 476.5 L660.8 477 L661.9 477.1 L663.1 476.7 L664.2 477.1 L665.3 476.6 L666.4 477 L667.5 476.7 L668.7 477.1 L669.8 476.8 L670.9 477.1 L672 476.5 L673.1 476.6 L674.2 477 L675.4 476.9 L676.5 476.8 L677.6 476.5 L678.7 476.6 L679.8 476.7 L681 476.6 L682.1 477.1 L683.2 477 L684.3 477.1 L685.4 477 L686.5 476.7 L687.7 476.6 L688.8 477 L689.9 476.6 L691 476.9 L692.1 476.8 L693.3 476.8 L694.4 476.6 L695.5 476.6 L696.6 476.8 L697.7 476.5 L698.8 476.8 L700 476.6 L701.1 476.7 L702.2 476.6 L703.3 476.8 L704.4 476.7 L705.6 476.6 L706.7 476.6 L707.8 476.8 L708.9 477 L710 476.6 L711.1 476.4 L712.3 476.4 L713.4 476.3 L714.5 476.4 L715.6 476.3 L716.7 475.8 L717.9 474.9 L719 473.8 L720.1 472.1 L721.2 471.4 L722.3 472.8 L723.4 474.7 L724.6 475.4 L725.7 476 L726.8 476.3 L727.9 476.5 L729 476.7 L730.2 476.5 L731.3 476.8 L732.4 477 L733.5 476.6 L734.6 476.9 L735.7 476.7 L736.9 476.6 L738 476.6 L739.1 477 L740.2 476.6 L741.3 477 L742.5 476.6 L743.6 476.8 L744.7 476.6 L745.8 476.9 L746.9 477.1 L748 476.8 L749.2 477 L750.3 477.2 L751.4 476.8 L752.5 476.9 L753.6 477.1 L754.8 477.2 L755.9 476.7 L757 477 L758.1 476.7 L759.2 476.7 L760.3 477.2 L761.5 476.7 L762.6 477.2 L763.7 477.1 L764.8 477.1 L765.9 477.1 L767.1 477.1 L768.2 476.8 L769.3 476.9 L770.4 476.8 L771.5 477.2 L772.6 477.2 L773.8 477.2 L774.9 476.8 L776 477" fill="none" stroke="#3cb870" stroke-width="2.8" stroke-linejoin="round" stroke-linecap="round" />
<path d="M462.9 502.2 L464 502 L465.1 502.3 L466.3 502 L467.4 502.2 L468.5 502.1 L469.6 501.9 L470.7 502.2 L471.8 501.9 L473 502.1 L474.1 501.9 L475.2 501.9 L476.3 502.1 L477.4 502.3 L478.6 501.8 L479.7 501.9 L480.8 502.1 L481.9 502.3 L483 502 L484.1 501.9 L485.3 502.2 L486.4 501.6 L487.5 502 L488.6 501.6 L489.7 501.4 L490.9 501.2 L492 501.1 L493.1 501.1 L494.2 500.4 L495.3 500.2 L496.4 500 L497.6 500.1 L498.7 500.5 L499.8 500.6 L500.9 500.9 L502 501.1 L503.2 501.6 L504.3 501.5 L505.4 501.5 L506.5 501.7 L507.6 501.6 L508.7 501.6 L509.9 501.9 L511 501.8 L512.1 501.6 L513.2 501.8 L514.3 501.7 L515.5 501.9 L516.6 501.8 L517.7 501.6 L518.8 502 L519.9 501.5 L521 501.6 L522.2 501.8 L523.3 501.4 L524.4 501.6 L525.5 501.4 L526.6 501.7 L527.8 501.8 L528.9 501.7 L530 501.8 L531.1 501.5 L532.2 501.7 L533.3 501.6 L534.5 501.6 L535.6 501.5 L536.7 501.7 L537.8 501.8 L538.9 501.5 L540.1 501.6 L541.2 501.2 L542.3 501.6 L543.4 501.5 L544.5 501.7 L545.6 501.6 L546.8 501.3 L547.9 501.3 L549 501.5 L550.1 501.1 L551.2 501.3 L552.4 501.1 L553.5 501.1 L554.6 501 L555.7 501.4 L556.8 501 L557.9 501 L559.1 501 L560.2 501.2 L561.3 500.6 L562.4 500.5 L563.5 500.3 L564.7 500.4 L565.8 500.5 L566.9 500.8 L568 500.5 L569.1 500.7 L570.2 500.6 L571.4 500.9 L572.5 500.8 L573.6 500.1 L574.7 499.7 L575.8 499.1 L577 498 L578.1 496.3 L579.2 495.2 L580.3 496.2 L581.4 497.8 L582.5 499.2 L583.7 499.8 L584.8 500.3 L585.9 500.7 L587 500.7 L588.1 500.7 L589.3 500.8 L590.4 500.9 L591.5 500.5 L592.6 501.1 L593.7 501 L594.8 501.1 L596 501 L597.1 500.8 L598.2 500.8 L599.3 500.6 L600.4 500.9 L601.6 500.6 L602.7 500.6 L603.8 500.6 L604.9 500.6 L606 500.7 L607.1 500.5 L608.3 500.5 L609.4 500.5 L610.5 500.5 L611.6 500.6 L612.7 500.4 L613.9 500.9 L615 500.7 L616.1 500.4 L617.2 500.5 L618.3 500.5 L619.5 500.5 L620.6 500.3 L621.7 500.7 L622.8 500.8 L623.9 500.4 L625 500.3 L626.2 500 L627.3 499.9 L628.4 499.7 L629.5 499.2 L630.6 498.6 L631.8 496.7 L632.9 496.3 L634 498.4 L635.1 499.1 L636.2 499.4 L637.3 499.8 L638.5 499.6 L639.6 499.9 L640.7 500.2 L641.8 500.1 L642.9 500 L644.1 499.6 L645.2 499.6 L646.3 499.4 L647.4 499.6 L648.5 499.3 L649.6 499.2 L650.8 498.6 L651.9 498.2 L653 497.9 L654.1 497.2 L655.2 495.9 L656.4 494 L657.5 490.9 L658.6 486 L659.7 479.8 L660.8 477.8 L661.9 481.7 L663.1 486.9 L664.2 490.6 L665.3 492.7 L666.4 493.5 L667.5 493.7 L668.7 493.6 L669.8 493.5 L670.9 494.7 L672 496 L673.1 497 L674.2 497.5 L675.4 497.9 L676.5 498.3 L677.6 498.6 L678.7 498.8 L679.8 499.2 L681 499.5 L682.1 499.6 L683.2 499.4 L684.3 499.6 L685.4 499.7 L686.5 499.3 L687.7 499.6 L688.8 499.8 L689.9 499.7 L691 499.7 L692.1 499.5 L693.3 499.3 L694.4 499.6 L695.5 499.2 L696.6 499.4 L697.7 499.4 L698.8 498.8 L700 498.5 L701.1 498.4 L702.2 497.7 L703.3 496.4 L704.4 495 L705.6 493.4 L706.7 493.1 L707.8 493.8 L708.9 495 L710 496.8 L711.1 497.8 L712.3 498.2 L713.4 498.5 L714.5 498.9 L715.6 498.8 L716.7 498.9 L717.9 499.6 L719 499.4 L720.1 499.4 L721.2 499.7 L722.3 499.4 L723.4 499.7 L724.6 499.7 L725.7 499.4 L726.8 499.4 L727.9 499.4 L729 499.4 L730.2 499.6 L731.3 499.4 L732.4 499.5 L733.5 499.3 L734.6 499.8 L735.7 499.5 L736.9 499.5 L738 499.6 L739.1 499.8 L740.2 499.5 L741.3 499.8 L742.5 499.5 L743.6 499.5 L744.7 499.5 L745.8 499.2 L746.9 499.5 L748 499.3 L749.2 499.2 L750.3 499.7 L751.4 499.3 L752.5 499.4 L753.6 499.6 L754.8 499.5 L755.9 499.3 L757 499.4 L758.1 499.5 L759.2 499.6 L760.3 499.2 L761.5 499.4 L762.6 499.2 L763.7 499.2 L764.8 499.5 L765.9 499.4 L767.1 499.4 L768.2 499.5 L769.3 499.6 L770.4 499.3 L771.5 499.4 L772.6 499.3 L773.8 499.3 L774.9 499.4 L776 499.2" fill="none" stroke="#22c4c4" stroke-width="2.8" stroke-linejoin="round" stroke-linecap="round" />
<path d="M462.9 525.8 L464 526.2 L465.1 525.7 L466.3 526 L467.4 525.6 L468.5 525.7 L469.6 526.2 L470.7 525.7 L471.8 525.9 L473 525.8 L474.1 525.7 L475.2 525.8 L476.3 525.5 L477.4 525.9 L478.6 525.4 L479.7 525.5 L480.8 525.3 L481.9 525.4 L483 525.5 L484.1 525.7 L485.3 525.4 L486.4 525.1 L487.5 525.1 L488.6 525.4 L489.7 524.7 L490.9 524.8 L492 524.4 L493.1 524.1 L494.2 523.3 L495.3 523 L496.4 522.6 L497.6 522.9 L498.7 523.6 L499.8 524 L500.9 524.1 L502 524.4 L503.2 525.1 L504.3 525 L505.4 524.9 L506.5 525.4 L507.6 525.2 L508.7 525.3 L509.9 525.4 L511 525.1 L512.1 525.1 L513.2 525.5 L514.3 525 L515.5 525.4 L516.6 525 L517.7 525.3 L518.8 525.3 L519.9 525.5 L521 525.4 L522.2 525.2 L523.3 525 L524.4 525 L525.5 525.2 L526.6 525.2 L527.8 524.9 L528.9 525.4 L530 525.1 L531.1 525.2 L532.2 524.9 L533.3 524.9 L534.5 524.8 L535.6 525 L536.7 524.9 L537.8 525 L538.9 524.9 L540.1 525.2 L541.2 525.2 L542.3 524.8 L543.4 524.9 L544.5 524.7 L545.6 525 L546.8 525.2 L547.9 524.7 L549 525 L550.1 524.7 L551.2 524.5 L552.4 525 L553.5 524.7 L554.6 524.6 L555.7 524.7 L556.8 524.6 L557.9 524.7 L559.1 524.6 L560.2 524.6 L561.3 524.7 L562.4 524.4 L563.5 524.3 L564.7 524.2 L565.8 524.1 L566.9 524.2 L568 523.9 L569.1 523.7 L570.2 522.7 L571.4 522.3 L572.5 523 L573.6 522.8 L574.7 522.7 L575.8 522.3 L577 521.3 L578.1 519.7 L579.2 518.6 L580.3 519.6 L581.4 521.7 L582.5 522.3 L583.7 523.4 L584.8 523.4 L585.9 524 L587 523.7 L588.1 524.3 L589.3 524.3 L590.4 524.4 L591.5 524.2 L592.6 524 L593.7 524.5 L594.8 524.2 L596 523.9 L597.1 524.3 L598.2 524.2 L599.3 524.2 L600.4 524 L601.6 523.9 L602.7 524.2 L603.8 524.1 L604.9 523.9 L606 524.1 L607.1 524.2 L608.3 524.2 L609.4 524 L610.5 524 L611.6 523.9 L612.7 523.8 L613.9 523.8 L615 523.9 L616.1 523.7 L617.2 524 L618.3 524 L619.5 523.9 L620.6 523.5 L621.7 523.7 L622.8 523.7 L623.9 523.4 L625 523.8 L626.2 523.6 L627.3 523.3 L628.4 523.1 L629.5 522.2 L630.6 521.1 L631.8 519.3 L632.9 519.1 L634 520.9 L635.1 521.8 L636.2 522.7 L637.3 523.2 L638.5 523.2 L639.6 523.4 L640.7 523.4 L641.8 522.9 L642.9 523 L644.1 523 L645.2 523.2 L646.3 522.7 L647.4 523 L648.5 522.7 L649.6 522.3 L650.8 522.1 L651.9 521.9 L653 521.2 L654.1 520.2 L655.2 519.3 L656.4 517.1 L657.5 514.2 L658.6 509.9 L659.7 504.3 L660.8 501.8 L661.9 505.7 L663.1 511 L664.2 514.6 L665.3 516.3 L666.4 517.2 L667.5 517 L668.7 516.8 L669.8 516.8 L670.9 517.6 L672 518.8 L673.1 519.9 L674.2 520.7 L675.4 521.5 L676.5 521.5 L677.6 521.7 L678.7 522.3 L679.8 522.2 L681 522.4 L682.1 522.3 L683.2 522.8 L684.3 522.5 L685.4 522.5 L686.5 522.8 L687.7 522.7 L688.8 522.5 L689.9 522.9 L691 522.6 L692.1 522.5 L693.3 522.9 L694.4 522.7 L695.5 522.6 L696.6 522.2 L697.7 522.4 L698.8 522.1 L700 522 L701.1 521.4 L702.2 521.1 L703.3 520.3 L704.4 518.8 L705.6 517.6 L706.7 517 L707.8 517.8 L708.9 519.1 L710 520.2 L711.1 520.6 L712.3 521.4 L713.4 521.8 L714.5 521.7 L715.6 522.1 L716.7 522.4 L717.9 522.5 L719 522.6 L720.1 522.1 L721.2 522.4 L722.3 522.6 L723.4 522.5 L724.6 522.3 L725.7 522.1 L726.8 522.6 L727.9 522.6 L729 522.4 L730.2 522.2 L731.3 522.5 L732.4 522.4 L733.5 522.3 L734.6 522.2 L735.7 522 L736.9 521.9 L738 521.9 L739.1 521.8 L740.2 521.8 L741.3 521.5 L742.5 521.8 L743.6 521.5 L744.7 521.3 L745.8 521.4 L746.9 521.4 L748 521.4 L749.2 521.7 L750.3 521.3 L751.4 521.4 L752.5 521.5 L753.6 521.5 L754.8 521.9 L755.9 521.5 L757 521.6 L758.1 521.9 L759.2 522 L760.3 522.1 L761.5 522 L762.6 521.9 L763.7 522.2 L764.8 522.2 L765.9 522 L767.1 522.1 L768.2 522.3 L769.3 522.3 L770.4 522.3 L771.5 521.8 L772.6 521.9 L773.8 522 L774.9 521.8 L776 522.2" fill="none" stroke="#1414f0" stroke-width="2.8" stroke-linejoin="round" stroke-linecap="round" />
<line x1="660.4" y1="319.7" x2="660.4" y2="527" stroke="#f01010" stroke-width="1.4" stroke-dasharray="5 2 1.5 2"/>
<text x="663.9" y="327.3" font-size="10" text-anchor="start" fill="#f01010" >Free DOL</text>
<line x1="621" y1="392" x2="621" y2="481.3" stroke="#ff8a10" stroke-width="1.4" stroke-dasharray="5 2 1.5 2"/>
<line x1="621" y1="481.3" x2="628" y2="481.3" stroke="#ff8a10" stroke-width="1.6" />
<path d="M632 481.3 L626.5 478 L626.5 484.6 Z" fill="#ff8a10"/>
<text x="586.8" y="388.5" font-size="10" text-anchor="start" fill="#ff8a10" >Free DEGDME</text>
<line x1="632.4" y1="479" x2="632.4" y2="528" stroke="#1414f0" stroke-width="1.6" stroke-dasharray="5 2 1.5 2"/>
<line x1="587.5" y1="470" x2="587.5" y2="514.6" stroke="#3cb870" stroke-width="1.3" stroke-dasharray="3 2"/>
<line x1="721.3" y1="463.4" x2="721.3" y2="515.8" stroke="#3cb870" stroke-width="1.3" stroke-dasharray="3 2"/>
<line x1="579" y1="502.4" x2="579" y2="530" stroke="#22c4c4" stroke-width="1.3" stroke-dasharray="2 1.5"/>
<line x1="706.4" y1="502.4" x2="706.4" y2="528" stroke="#22c4c4" stroke-width="1.3" stroke-dasharray="2 1.5"/>
<line x1="583" y1="513.5" x2="590" y2="513.5" stroke="#3cb870" stroke-width="1.6" />
<path d="M578.5 513.5 L584 510.5 L584 516.5 Z" fill="#3cb870"/>
<line x1="711" y1="507.5" x2="718" y2="507.5" stroke="#3cb870" stroke-width="1.6" />
<path d="M706.9 507.5 L712.5 504.5 L712.5 510.5 Z" fill="#3cb870"/>
<text x="589.5" y="466" font-size="9.5" fill="#3cb870">LiCF<tspan font-size="6.5" dy="2">3</tspan><tspan dy="-2">SO</tspan><tspan font-size="6.5" dy="2">3</tspan></text>
<text x="723.6" y="466.8" font-size="9.5" fill="#3cb870">LiCF<tspan font-size="6.5" dy="2">3</tspan><tspan dy="-2">SO</tspan><tspan font-size="6.5" dy="2">3</tspan></text>
<text x="580.8" y="489" font-size="9.5" fill="#22c4c4">CF<tspan font-size="6.5" dy="2">3</tspan><tspan dy="-2">SO</tspan><tspan font-size="6.5" dy="2">3</tspan><tspan font-size="6.5" dy="-6">-</tspan></text>
<text x="672.4" y="489" font-size="9.5" fill="#22c4c4">CF<tspan font-size="6.5" dy="2">3</tspan><tspan dy="-2">SO</tspan><tspan font-size="6.5" dy="2">3</tspan><tspan font-size="6.5" dy="-6">-</tspan></text>
<text x="565.6" y="541" font-size="9.5" fill="#6a98d8">PF<tspan font-size="6.5" dy="2">6</tspan><tspan font-size="6.5" dy="-6">-</tspan></text>
<line x1="570.8" y1="518" x2="570.8" y2="534" stroke="#6a98d8" stroke-width="1.2" stroke-dasharray="1.5 1.5"/>
<text x="597.5" y="538.5" font-size="9.8" text-anchor="start" fill="#1414f0" >Coordinated DEGDME</text>
<text x="465" y="399.6" font-size="13.3" text-anchor="start" fill="#f01010" >DOL</text>
<text x="465" y="421.1" font-size="13.3" text-anchor="start" fill="#ff8a10" >DEGDME</text>
<text x="465" y="448.5" font-size="13.3" text-anchor="start" fill="#c4c010" >DEGDME/DOL (DD)</text>
<text x="465" y="471.2" font-size="13.3" text-anchor="start" fill="#3cb870" >LiOTF Powders</text>
<text x="465" y="496.2" font-size="13.3" text-anchor="start" fill="#22c4c4" >1.5 m LiOTF in DD</text>
<text x="465" y="518" font-size="10.9" text-anchor="start" fill="#1414f0" >Formulated electrolyte</text>
<text x="25" y="642" font-size="26" text-anchor="start" fill="#000" >e</text>
<g filter="url(#eblur)">
<rect x="92.5" y="612.5" width="251.5" height="249.5" fill="#b08476"/>
<path d="M98 615h0M103 614h0M107 615h0M125 614h0M140 613h0M143 614h0M150 615h0M166 614h0M169 615h0M178 614h0M179 614h0M184 615h0M186 615h0M194 615h0M216 613h0M234 615h0M266 614h0M268 615h0M273 615h0M275 615h0M278 615h0M295 614h0M306 614h0M322 615h0M326 614h0M336 614h0M95 616h0M98 618h0M100 618h0M104 618h0M114 618h0M117 618h0M120 619h0M128 618h0M147 617h0M169 618h0M181 618h0M186 618h0M194 618h0M200 617h0M211 618h0M214 617h0M217 617h0M219 617h0M235 617h0M247 616h0M256 617h0M260 618h0M262 617h0M265 617h0M288 618h0M298 617h0M320 618h0M321 618h0M341 618h0M96 620h0M100 621h0M103 621h0M119 620h0M143 621h0M147 620h0M153 621h0M158 622h0M159 620h0M173 620h0M189 621h0M197 621h0M200 622h0M210 620h0M236 621h0M238 622h0M242 622h0M247 621h0M248 622h0M253 621h0M263 620h0M275 620h0M282 621h0M288 620h0M291 621h0M297 621h0M310 621h0M323 621h0M338 621h0M341 620h0M94 624h0M97 625h0M118 624h0M120 625h0M135 625h0M153 625h0M161 625h0M168 624h0M177 624h0M188 624h0M189 624h0M211 624h0M223 625h0M230 624h0M262 625h0M266 624h0M272 625h0M279 625h0M286 625h0M293 624h0M295 624h0M303 624h0M306 623h0M313 625h0M319 624h0M325 624h0M329 624h0M95 628h0M98 628h0M115 627h0M117 629h0M125 627h0M132 627h0M141 626h0M155 628h0M163 628h0M167 626h0M184 626h0M186 628h0M196 626h0M212 628h0M215 628h0M220 627h0M222 627h0M232 628h0M259 626h0M263 628h0M267 627h0M290 626h0M302 628h0M314 628h0M319 628h0M330 628h0M331 628h0M335 626h0M342 626h0M97 631h0M103 631h0M118 631h0M126 630h0M129 631h0M134 631h0M141 630h0M145 632h0M154 631h0M166 630h0M179 631h0M200 630h0M202 631h0M206 630h0M225 630h0M239 630h0M242 631h0M250 630h0M259 632h0M279 630h0M283 631h0M285 630h0M296 630h0M298 631h0M309 630h0M316 631h0M325 632h0M332 632h0M343 630h0M101 633h0M120 635h0M127 634h0M130 635h0M140 634h0M150 634h0M159 635h0M164 634h0M170 635h0M174 634h0M181 634h0M182 633h0M188 634h0M199 635h0M220 634h0M225 635h0M231 633h0M247 634h0M249 634h0M260 633h0M263 634h0M266 633h0M269 635h0M273 634h0M277 634h0M285 634h0M299 633h0M310 635h0M316 634h0M326 634h0M331 634h0M94 637h0M99 636h0M106 638h0M123 636h0M137 637h0M140 637h0M143 637h0M147 637h0M159 638h0M166 637h0M180 637h0M183 636h0M198 638h0M200 637h0M202 637h0M214 638h0M216 638h0M248 637h0M253 637h0M262 638h0M279 637h0M286 637h0M290 638h0M291 638h0M297 638h0M303 637h0M309 638h0M99 642h0M101 642h0M108 640h0M120 641h0M123 641h0M131 642h0M140 640h0M144 642h0M148 639h0M153 640h0M159 642h0M164 640h0M166 641h0M176 641h0M187 641h0M213 640h0M230 642h0M233 641h0M239 641h0M246 641h0M252 640h0M265 641h0M272 640h0M280 641h0M283 641h0M285 640h0M293 642h0M312 641h0M322 642h0M328 641h0M102 644h0M107 644h0M117 644h0M120 643h0M127 644h0M141 643h0M151 645h0M160 644h0M175 643h0M183 644h0M190 644h0M206 644h0M213 643h0M217 645h0M227 643h0M235 645h0M240 643h0M249 645h0M253 645h0M257 643h0M260 644h0M264 644h0M272 644h0M278 643h0M282 643h0M285 644h0M288 644h0M292 643h0M295 644h0M300 645h0M305 643h0M315 644h0M323 643h0M329 645h0M94 648h0M97 647h0M114 648h0M118 648h0M150 647h0M158 647h0M163 648h0M168 646h0M170 646h0M190 648h0M193 646h0M204 646h0M211 646h0M213 647h0M224 647h0M232 646h0M239 646h0M249 647h0M252 646h0M257 648h0M265 648h0M269 647h0M272 648h0M280 648h0M283 646h0M290 648h0M293 647h0M296 647h0M308 646h0M312 647h0M318 648h0M99 650h0M111 650h0M137 650h0M143 651h0M147 650h0M156 651h0M161 651h0M167 651h0M170 651h0M174 651h0M178 650h0M186 651h0M199 651h0M210 651h0M220 651h0M235 650h0M238 651h0M253 650h0M263 651h0M273 651h0M276 651h0M280 651h0M286 650h0M306 651h0M309 649h0M314 652h0M328 651h0M342 649h0M94 653h0M107 653h0M112 655h0M125 654h0M128 655h0M138 653h0M143 653h0M150 653h0M154 654h0M156 654h0M160 655h0M163 653h0M166 654h0M176 654h0M183 654h0M213 653h0M220 653h0M222 653h0M229 654h0M235 655h0M246 654h0M252 653h0M273 655h0M277 655h0M279 655h0M299 653h0M308 654h0M321 653h0M335 653h0M339 653h0M95 658h0M98 658h0M109 656h0M117 656h0M120 656h0M124 658h0M136 658h0M140 658h0M143 657h0M151 657h0M158 656h0M159 656h0M166 656h0M170 658h0M173 657h0M177 657h0M179 656h0M182 658h0M186 657h0M194 657h0M199 656h0M206 658h0M230 656h0M236 658h0M249 657h0M272 657h0M275 656h0M290 657h0M292 658h0M296 656h0M302 657h0M305 658h0M315 656h0M323 658h0M325 658h0M335 657h0M339 657h0M341 658h0M97 661h0M108 661h0M112 661h0M123 660h0M131 661h0M142 661h0M162 661h0M170 661h0M179 660h0M184 661h0M187 660h0M190 661h0M194 660h0M196 661h0M209 661h0M212 660h0M220 661h0M242 659h0M247 660h0M256 660h0M276 660h0M283 659h0M290 661h0M309 659h0M315 660h0M319 660h0M327 661h0M334 660h0M343 660h0M97 664h0M101 663h0M115 663h0M118 663h0M121 664h0M130 664h0M137 663h0M145 663h0M151 664h0M183 664h0M186 664h0M213 664h0M223 664h0M233 664h0M236 663h0M269 665h0M282 664h0M295 664h0M305 664h0M318 664h0M323 663h0M325 665h0M333 663h0M117 667h0M120 667h0M124 667h0M127 666h0M131 666h0M133 666h0M146 667h0M153 667h0M156 668h0M174 668h0M177 666h0M210 667h0M212 668h0M219 667h0M234 666h0M246 668h0M263 667h0M277 666h0M280 668h0M288 668h0M313 667h0M322 666h0M329 666h0M335 666h0M97 671h0M126 671h0M130 670h0M135 670h0M144 670h0M151 670h0M154 670h0M159 669h0M167 669h0M171 671h0M178 669h0M180 669h0M186 670h0M194 671h0M196 670h0M210 670h0M215 670h0M222 670h0M233 671h0M252 670h0M257 670h0M265 671h0M273 670h0M279 671h0M286 670h0M289 671h0M298 670h0M302 671h0M308 669h0M314 669h0M320 671h0M337 670h0M341 671h0M100 673h0M112 674h0M114 673h0M117 675h0M136 674h0M145 674h0M148 673h0M151 674h0M155 674h0M158 673h0M170 673h0M174 674h0M193 673h0M204 674h0M210 673h0M216 674h0M220 673h0M225 673h0M232 673h0M235 675h0M240 673h0M249 674h0M253 673h0M265 674h0M276 674h0M283 673h0M286 673h0M291 673h0M295 673h0M309 674h0M314 673h0M323 673h0M324 674h0M332 673h0M98 677h0M110 676h0M115 678h0M117 676h0M124 676h0M126 677h0M134 677h0M137 677h0M141 678h0M160 676h0M163 677h0M183 676h0M191 676h0M196 678h0M214 678h0M215 677h0M219 676h0M224 676h0M227 677h0M232 677h0M240 677h0M260 676h0M262 677h0M267 678h0M272 677h0M276 677h0M278 678h0M296 676h0M302 676h0M312 676h0M322 678h0M331 678h0M342 676h0M104 680h0M109 680h0M110 681h0M114 681h0M138 679h0M146 680h0M150 680h0M154 679h0M158 681h0M174 680h0M186 679h0M192 681h0M196 680h0M202 679h0M210 681h0M212 680h0M224 680h0M250 681h0M259 680h0M263 680h0M276 680h0M279 679h0M282 681h0M293 679h0M296 680h0M299 680h0M308 680h0M322 680h0M326 681h0M328 681h0M334 681h0M341 680h0M112 684h0M148 682h0M150 684h0M163 682h0M181 684h0M184 684h0M190 683h0M201 683h0M222 683h0M226 683h0M233 684h0M240 683h0M248 683h0M272 684h0M277 684h0M282 683h0M295 683h0M298 683h0M313 684h0M339 683h0M101 686h0M114 687h0M131 686h0M152 687h0M164 687h0M184 687h0M193 686h0M202 686h0M206 686h0M209 686h0M216 686h0M223 686h0M250 688h0M260 687h0M272 686h0M280 688h0M283 688h0M292 688h0M313 686h0M316 687h0M319 687h0M323 688h0M328 687h0M332 686h0M93 691h0M97 690h0M101 689h0M114 690h0M122 691h0M125 691h0M126 689h0M146 690h0M158 690h0M173 691h0M184 690h0M192 691h0M200 689h0M204 691h0M212 691h0M215 689h0M229 689h0M249 691h0M275 690h0M280 691h0M286 689h0M291 689h0M298 689h0M310 689h0M319 691h0M328 689h0M336 690h0M95 693h0M100 694h0M104 694h0M108 694h0M134 695h0M137 695h0M140 694h0M146 694h0M154 694h0M156 694h0M169 694h0M172 694h0M190 693h0M192 693h0M223 694h0M229 694h0M240 694h0M262 693h0M265 694h0M283 693h0M303 693h0M312 693h0M324 694h0M328 694h0M104 698h0M112 696h0M134 698h0M161 697h0M165 697h0M178 696h0M180 698h0M190 696h0M193 697h0M216 697h0M234 696h0M240 696h0M256 697h0M260 697h0M264 698h0M268 696h0M272 696h0M279 697h0M282 698h0M286 696h0M302 698h0M312 698h0M329 696h0M332 698h0M341 698h0M102 701h0M115 701h0M117 701h0M127 699h0M137 701h0M151 699h0M166 701h0M169 699h0M177 701h0M184 700h0M190 700h0M193 701h0M197 700h0M202 699h0M207 700h0M224 701h0M234 699h0M235 699h0M240 701h0M243 701h0M245 701h0M252 700h0M260 699h0M262 701h0M269 701h0M273 699h0M278 701h0M286 700h0M289 700h0M295 699h0M300 699h0M301 701h0M308 699h0M326 700h0M328 700h0M331 700h0M342 701h0M95 704h0M98 703h0M101 704h0M104 704h0M107 703h0M116 702h0M126 704h0M138 703h0M147 702h0M178 703h0M182 703h0M186 704h0M190 704h0M195 703h0M210 704h0M213 703h0M231 703h0M233 702h0M240 703h0M243 704h0M247 703h0M255 704h0M275 704h0M279 703h0M289 703h0M291 703h0M301 703h0M313 702h0M318 704h0M323 704h0M324 704h0M342 703h0M124 706h0M131 707h0M135 706h0M151 707h0M169 707h0M177 706h0M179 707h0M190 707h0M194 707h0M201 708h0M221 706h0M237 707h0M245 707h0M256 707h0M262 706h0M265 708h0M276 706h0M279 708h0M288 707h0M291 706h0M296 707h0M305 708h0M310 707h0M313 707h0M317 706h0M336 706h0M338 706h0M110 711h0M135 710h0M136 711h0M144 709h0M154 709h0M177 710h0M188 711h0M192 709h0M203 709h0M209 711h0M213 710h0M223 710h0M229 709h0M245 709h0M248 711h0M265 710h0M298 711h0M308 709h0M311 709h0M322 711h0M93 714h0M97 714h0M107 713h0M110 714h0M113 714h0M137 713h0M154 712h0M158 713h0M173 712h0M181 712h0M184 714h0M203 714h0M216 713h0M219 714h0M225 713h0M234 713h0M237 714h0M243 713h0M246 712h0M250 713h0M263 714h0M269 713h0M280 713h0M289 713h0M299 712h0M305 714h0M320 713h0M102 717h0M103 716h0M127 717h0M132 716h0M134 716h0M145 715h0M150 716h0M153 716h0M156 716h0M159 717h0M162 715h0M166 716h0M170 717h0M173 717h0M179 715h0M186 717h0M191 717h0M193 717h0M196 716h0M204 717h0M217 716h0M223 717h0M232 717h0M236 717h0M242 717h0M249 717h0M253 717h0M256 717h0M270 717h0M284 716h0M295 716h0M300 717h0M301 717h0M306 717h0M314 715h0M319 716h0M97 720h0M100 719h0M110 719h0M120 719h0M124 719h0M128 721h0M136 719h0M154 719h0M161 721h0M169 720h0M174 719h0M184 719h0M186 721h0M196 719h0M223 720h0M226 719h0M229 720h0M233 721h0M237 719h0M241 719h0M242 719h0M245 720h0M252 721h0M258 721h0M266 719h0M285 720h0M305 720h0M309 720h0M322 721h0M329 720h0M333 720h0M337 720h0M342 720h0M98 723h0M100 722h0M113 722h0M117 723h0M130 724h0M143 724h0M168 724h0M170 724h0M174 723h0M176 724h0M184 723h0M190 723h0M192 723h0M200 722h0M208 723h0M210 722h0M213 722h0M220 723h0M224 724h0M225 723h0M238 723h0M256 724h0M259 724h0M266 723h0M273 723h0M279 724h0M286 723h0M303 723h0M313 724h0M314 722h0M319 723h0M323 724h0M325 722h0M329 722h0M338 722h0M342 724h0M97 728h0M100 727h0M105 727h0M120 726h0M123 726h0M133 727h0M164 728h0M167 727h0M171 727h0M176 726h0M181 727h0M187 727h0M192 727h0M196 726h0M206 726h0M211 725h0M213 726h0M215 727h0M223 726h0M229 726h0M237 726h0M239 726h0M256 726h0M259 725h0M262 726h0M265 726h0M278 727h0M282 726h0M300 727h0M305 727h0M309 727h0M322 727h0M325 728h0M335 727h0M338 727h0M98 730h0M105 729h0M108 730h0M115 729h0M124 729h0M127 730h0M141 731h0M147 729h0M157 729h0M160 730h0M182 730h0M186 730h0M190 729h0M203 730h0M219 730h0M233 731h0M235 730h0M258 730h0M267 731h0M275 730h0M282 730h0M300 729h0M310 729h0M323 730h0M329 731h0M336 729h0M97 733h0M100 732h0M118 732h0M122 733h0M126 732h0M147 733h0M162 734h0M170 733h0M181 734h0M187 734h0M189 732h0M193 734h0M198 733h0M200 733h0M216 732h0M220 732h0M222 734h0M229 733h0M232 733h0M239 733h0M250 734h0M263 732h0M270 732h0M272 734h0M275 734h0M280 733h0M301 733h0M305 733h0M322 734h0M331 732h0M339 733h0M111 737h0M123 737h0M130 735h0M140 737h0M150 737h0M157 735h0M163 735h0M173 736h0M180 737h0M183 736h0M187 736h0M189 736h0M196 737h0M200 736h0M212 735h0M216 737h0M220 736h0M226 737h0M229 736h0M233 737h0M240 737h0M248 735h0M259 737h0M262 736h0M269 736h0M275 737h0M279 737h0M282 737h0M285 735h0M289 737h0M293 736h0M306 737h0M316 737h0M319 735h0M322 736h0M339 737h0M341 736h0M98 740h0M105 739h0M107 739h0M111 741h0M123 738h0M128 741h0M131 740h0M135 740h0M137 740h0M139 740h0M164 740h0M170 740h0M177 739h0M184 739h0M189 739h0M193 739h0M196 741h0M205 740h0M212 739h0M223 739h0M229 739h0M233 740h0M237 739h0M239 740h0M244 738h0M250 739h0M255 739h0M264 741h0M273 739h0M287 739h0M296 741h0M298 741h0M302 739h0M330 738h0M335 740h0M343 741h0M97 744h0M113 743h0M124 743h0M131 742h0M148 743h0M169 743h0M196 742h0M210 743h0M216 744h0M220 744h0M227 743h0M233 743h0M237 743h0M243 742h0M246 743h0M255 742h0M262 742h0M270 743h0M271 743h0M277 743h0M283 744h0M286 743h0M290 743h0M296 742h0M301 743h0M313 744h0M318 744h0M324 742h0M332 743h0M97 747h0M105 745h0M110 746h0M119 747h0M133 746h0M138 745h0M144 747h0M147 747h0M150 747h0M157 747h0M174 746h0M203 746h0M206 746h0M210 746h0M213 745h0M223 746h0M227 746h0M234 746h0M235 746h0M244 747h0M247 745h0M269 747h0M271 746h0M283 745h0M290 746h0M300 747h0M310 745h0M315 745h0M320 745h0M328 746h0M94 749h0M100 750h0M111 749h0M118 750h0M120 750h0M140 748h0M149 749h0M154 749h0M157 749h0M163 749h0M170 750h0M173 750h0M183 749h0M193 750h0M197 750h0M209 750h0M216 749h0M226 750h0M228 748h0M232 750h0M247 749h0M255 749h0M260 750h0M273 749h0M275 748h0M290 749h0M292 750h0M299 749h0M307 750h0M311 749h0M332 750h0M335 749h0M341 750h0M100 752h0M103 752h0M108 753h0M110 753h0M128 752h0M129 752h0M139 753h0M151 753h0M156 752h0M161 753h0M171 754h0M194 753h0M227 753h0M236 752h0M239 753h0M242 752h0M247 753h0M254 752h0M265 752h0M269 753h0M273 753h0M275 753h0M278 753h0M305 752h0M316 754h0M325 753h0M327 753h0M334 753h0M104 757h0M112 757h0M131 757h0M151 757h0M162 756h0M167 756h0M186 757h0M190 756h0M194 755h0M196 757h0M217 756h0M234 757h0M236 756h0M266 756h0M268 756h0M272 757h0M280 757h0M282 757h0M289 755h0M295 756h0M299 755h0M310 757h0M325 756h0M97 760h0M120 759h0M130 760h0M153 759h0M160 760h0M165 760h0M174 758h0M177 759h0M183 759h0M186 759h0M189 760h0M201 759h0M205 759h0M220 760h0M222 760h0M240 759h0M242 759h0M254 759h0M260 759h0M266 758h0M268 760h0M278 760h0M292 760h0M298 760h0M302 760h0M308 760h0M323 758h0M327 760h0M332 760h0M95 762h0M97 763h0M101 763h0M103 763h0M127 762h0M141 764h0M151 764h0M170 764h0M173 762h0M177 764h0M186 763h0M193 763h0M202 763h0M212 762h0M216 764h0M221 764h0M225 764h0M237 762h0M240 763h0M245 763h0M253 764h0M260 763h0M263 762h0M277 763h0M281 762h0M290 763h0M291 764h0M298 763h0M301 763h0M305 763h0M312 762h0M315 763h0M318 763h0M321 764h0M329 762h0M98 765h0M101 766h0M105 765h0M110 766h0M113 766h0M133 766h0M148 765h0M150 765h0M153 767h0M156 765h0M167 767h0M180 766h0M183 765h0M187 766h0M189 767h0M210 766h0M214 767h0M216 767h0M229 766h0M232 766h0M235 766h0M243 766h0M256 765h0M269 766h0M273 766h0M283 767h0M298 767h0M301 766h0M329 765h0M331 767h0M100 770h0M105 768h0M111 768h0M137 769h0M146 770h0M150 769h0M153 768h0M156 770h0M167 770h0M192 769h0M201 770h0M204 770h0M229 769h0M235 770h0M240 770h0M245 770h0M250 770h0M255 770h0M258 769h0M262 770h0M265 770h0M269 769h0M273 769h0M283 769h0M295 768h0M299 769h0M302 769h0M306 768h0M312 769h0M319 769h0M323 769h0M332 769h0M94 774h0M102 773h0M104 774h0M113 774h0M116 772h0M120 772h0M154 773h0M157 773h0M167 772h0M174 771h0M184 772h0M190 772h0M197 772h0M200 773h0M210 774h0M216 774h0M225 773h0M230 773h0M232 772h0M238 772h0M247 772h0M248 773h0M265 774h0M285 772h0M289 773h0M293 772h0M308 772h0M312 774h0M315 771h0M318 772h0M332 773h0M101 775h0M115 775h0M122 776h0M123 777h0M133 775h0M140 776h0M150 776h0M154 775h0M177 777h0M197 777h0M203 775h0M220 775h0M226 776h0M229 777h0M239 775h0M246 776h0M253 775h0M259 776h0M268 776h0M272 777h0M276 776h0M286 775h0M288 776h0M293 776h0M298 775h0M313 776h0M315 775h0M322 777h0M332 776h0M335 775h0M101 779h0M104 779h0M107 780h0M112 779h0M113 779h0M123 778h0M127 779h0M147 779h0M153 779h0M157 780h0M167 779h0M180 778h0M184 779h0M186 780h0M194 780h0M201 779h0M206 780h0M226 779h0M232 779h0M239 780h0M252 780h0M256 780h0M258 780h0M263 779h0M265 779h0M268 779h0M289 779h0M293 780h0M296 778h0M299 779h0M326 779h0M339 779h0M98 781h0M101 782h0M105 782h0M117 781h0M127 782h0M130 782h0M138 782h0M151 782h0M155 783h0M158 782h0M163 784h0M170 781h0M178 783h0M187 784h0M190 782h0M193 783h0M196 783h0M215 782h0M220 783h0M222 783h0M227 781h0M233 783h0M235 783h0M241 782h0M256 783h0M262 782h0M269 783h0M272 782h0M291 782h0M295 781h0M328 783h0M339 782h0M108 786h0M116 786h0M125 786h0M138 785h0M141 785h0M147 785h0M164 785h0M172 785h0M177 786h0M191 786h0M204 786h0M217 785h0M220 786h0M227 785h0M233 786h0M273 787h0M282 785h0M296 787h0M312 785h0M321 786h0M339 786h0M343 785h0M98 788h0M110 789h0M113 788h0M118 790h0M141 788h0M154 789h0M170 789h0M173 790h0M177 788h0M190 789h0M203 790h0M205 790h0M224 789h0M232 790h0M239 790h0M254 789h0M256 788h0M265 789h0M288 789h0M305 788h0M313 790h0M337 789h0M101 793h0M112 791h0M126 792h0M134 793h0M136 793h0M146 792h0M158 793h0M161 792h0M190 791h0M194 793h0M201 792h0M202 793h0M207 793h0M210 792h0M213 791h0M219 793h0M232 792h0M236 792h0M249 793h0M254 792h0M255 792h0M259 793h0M296 792h0M302 793h0M306 792h0M312 792h0M316 792h0M318 792h0M329 792h0M331 793h0M336 793h0M101 796h0M104 796h0M107 796h0M115 796h0M128 795h0M130 797h0M135 796h0M139 796h0M163 795h0M179 795h0M182 797h0M190 797h0M193 796h0M197 796h0M201 795h0M203 797h0M209 796h0M227 795h0M230 796h0M234 797h0M249 795h0M256 795h0M261 796h0M276 795h0M285 795h0M289 796h0M293 796h0M295 796h0M301 795h0M306 797h0M312 797h0M316 796h0M329 795h0M331 796h0M109 798h0M127 800h0M140 799h0M143 799h0M158 798h0M160 798h0M165 800h0M170 799h0M177 800h0M183 799h0M186 798h0M199 799h0M207 799h0M214 799h0M216 799h0M225 800h0M229 799h0M234 799h0M236 799h0M253 799h0M258 799h0M272 798h0M280 798h0M286 799h0M293 798h0M296 799h0M301 798h0M305 800h0M309 800h0M312 800h0M326 798h0M329 799h0M333 798h0M334 798h0M339 799h0M342 799h0M95 802h0M101 802h0M110 802h0M121 802h0M123 801h0M126 803h0M133 803h0M146 803h0M157 802h0M164 803h0M172 801h0M176 802h0M180 803h0M189 803h0M192 801h0M196 803h0M210 802h0M216 801h0M222 802h0M236 803h0M257 802h0M260 803h0M266 802h0M277 801h0M278 803h0M293 803h0M309 803h0M320 802h0M326 801h0M337 803h0M341 803h0M96 805h0M101 805h0M105 805h0M107 806h0M110 805h0M120 804h0M150 806h0M156 806h0M168 806h0M170 806h0M176 805h0M179 806h0M183 804h0M194 806h0M196 806h0M210 806h0M216 805h0M219 807h0M223 807h0M230 806h0M235 806h0M239 806h0M242 805h0M257 806h0M268 806h0M282 805h0M289 807h0M292 806h0M306 805h0M308 805h0M315 806h0M94 809h0M98 810h0M107 809h0M117 808h0M128 810h0M131 809h0M134 808h0M148 810h0M154 808h0M157 810h0M163 809h0M170 808h0M178 809h0M180 809h0M183 808h0M210 808h0M212 808h0M216 809h0M222 809h0M234 809h0M252 808h0M256 809h0M260 808h0M265 809h0M272 808h0M277 809h0M280 809h0M290 808h0M302 809h0M304 808h0M321 810h0M324 809h0M338 808h0M341 808h0M95 813h0M100 812h0M106 812h0M131 812h0M134 812h0M137 812h0M139 812h0M150 811h0M153 812h0M166 812h0M170 812h0M187 812h0M189 812h0M193 813h0M200 811h0M207 813h0M221 811h0M223 811h0M227 811h0M233 812h0M243 813h0M256 813h0M277 813h0M279 813h0M283 812h0M299 813h0M302 813h0M311 813h0M319 812h0M325 811h0M329 811h0M343 812h0M100 816h0M107 815h0M116 816h0M121 816h0M124 816h0M128 816h0M138 815h0M143 815h0M147 815h0M150 815h0M154 816h0M161 817h0M167 814h0M169 814h0M174 815h0M177 816h0M181 815h0M183 817h0M213 816h0M240 816h0M250 815h0M253 814h0M257 815h0M259 814h0M270 816h0M283 815h0M285 817h0M293 814h0M299 815h0M310 815h0M318 816h0M325 815h0M332 815h0M336 815h0M338 817h0M97 819h0M108 818h0M114 819h0M121 820h0M147 820h0M154 818h0M158 818h0M166 818h0M173 818h0M178 818h0M186 818h0M215 820h0M226 819h0M246 818h0M259 819h0M272 818h0M275 819h0M279 818h0M283 819h0M290 819h0M295 818h0M299 819h0M309 818h0M313 820h0M323 820h0M328 818h0M332 819h0M338 818h0M94 822h0M98 822h0M102 822h0M107 821h0M113 823h0M118 822h0M122 823h0M132 822h0M136 821h0M141 822h0M150 822h0M158 822h0M168 821h0M177 821h0M179 823h0M184 822h0M193 823h0M199 823h0M210 821h0M220 823h0M230 821h0M232 822h0M249 821h0M253 822h0M255 821h0M263 823h0M272 823h0M288 823h0M310 823h0M311 823h0M319 821h0M322 823h0M325 823h0M329 823h0M331 822h0M93 826h0M98 824h0M101 826h0M123 826h0M128 825h0M131 826h0M135 825h0M140 824h0M147 825h0M150 825h0M154 825h0M156 825h0M161 825h0M167 826h0M169 825h0M182 825h0M186 825h0M197 825h0M209 826h0M219 825h0M230 824h0M242 825h0M250 826h0M252 825h0M266 825h0M270 825h0M276 824h0M283 825h0M288 826h0M292 825h0M295 826h0M308 825h0M313 826h0M322 825h0M333 827h0M334 826h0M338 826h0M99 828h0M110 828h0M134 828h0M140 828h0M150 829h0M154 828h0M158 828h0M159 830h0M169 829h0M174 828h0M176 830h0M181 829h0M183 829h0M196 829h0M202 830h0M209 829h0M217 828h0M233 829h0M253 829h0M270 829h0M273 829h0M279 828h0M306 828h0M308 828h0M341 830h0M95 833h0M97 832h0M108 831h0M118 832h0M120 831h0M128 832h0M131 831h0M137 831h0M150 832h0M153 833h0M164 831h0M183 831h0M188 832h0M193 833h0M203 831h0M210 832h0M220 833h0M223 831h0M233 832h0M247 832h0M273 832h0M275 833h0M292 833h0M296 832h0M299 831h0M305 833h0M313 833h0M319 833h0M322 832h0M325 832h0M329 833h0M332 832h0M335 831h0M339 831h0M341 832h0M111 835h0M122 835h0M123 836h0M131 836h0M134 836h0M141 836h0M161 836h0M167 835h0M174 835h0M180 835h0M182 836h0M198 835h0M203 836h0M217 835h0M228 836h0M242 836h0M246 835h0M258 836h0M262 835h0M270 835h0M292 836h0M302 835h0M306 835h0M312 836h0M319 835h0M324 835h0M328 836h0M339 836h0M341 836h0M112 840h0M116 838h0M120 839h0M128 839h0M131 840h0M147 839h0M150 838h0M157 839h0M163 839h0M166 838h0M169 838h0M173 838h0M180 839h0M183 839h0M210 838h0M217 839h0M226 839h0M240 838h0M243 839h0M246 840h0M249 838h0M275 838h0M278 840h0M286 840h0M289 839h0M315 839h0M322 838h0M326 839h0M331 840h0M97 842h0M103 841h0M111 841h0M114 842h0M118 841h0M123 841h0M128 842h0M134 842h0M136 842h0M140 841h0M171 842h0M177 843h0M179 841h0M188 842h0M204 841h0M206 842h0M209 841h0M221 843h0M226 841h0M235 841h0M240 843h0M242 843h0M250 841h0M252 842h0M269 841h0M272 841h0M279 843h0M287 843h0M301 842h0M308 842h0M312 841h0M314 843h0M319 841h0M323 841h0M329 842h0M332 842h0M334 841h0M338 842h0M97 845h0M111 845h0M114 846h0M124 845h0M138 844h0M151 846h0M160 845h0M166 844h0M173 844h0M193 845h0M199 844h0M213 846h0M224 846h0M240 845h0M253 845h0M256 845h0M260 846h0M262 845h0M266 844h0M270 846h0M285 845h0M296 846h0M298 846h0M304 846h0M319 845h0M321 845h0M325 845h0M327 845h0M331 846h0M336 846h0M339 844h0M94 849h0M100 848h0M110 848h0M128 849h0M132 847h0M134 848h0M138 847h0M141 848h0M143 848h0M147 847h0M150 847h0M164 849h0M177 850h0M193 848h0M203 849h0M207 849h0M217 848h0M219 849h0M224 849h0M229 849h0M233 848h0M235 848h0M240 849h0M242 849h0M249 849h0M266 848h0M272 848h0M280 848h0M292 848h0M296 849h0M298 848h0M303 849h0M316 848h0M320 849h0M324 849h0M339 850h0M97 851h0M108 852h0M110 852h0M115 851h0M120 852h0M123 852h0M131 853h0M134 852h0M137 852h0M140 851h0M148 852h0M164 852h0M173 852h0M183 852h0M187 853h0M190 852h0M193 851h0M206 851h0M212 853h0M222 852h0M227 852h0M230 852h0M250 852h0M254 851h0M259 851h0M261 851h0M269 851h0M286 853h0M305 851h0M318 851h0M325 853h0M100 855h0M111 855h0M116 855h0M125 856h0M127 856h0M151 856h0M174 854h0M185 856h0M196 855h0M201 855h0M206 855h0M232 856h0M236 855h0M244 854h0M252 856h0M266 855h0M272 856h0M296 856h0M303 854h0M304 856h0M314 854h0M333 854h0M341 856h0M101 859h0M110 859h0M130 859h0M134 858h0M148 859h0M153 858h0M160 859h0M163 858h0M166 859h0M182 859h0M189 858h0M206 857h0M209 858h0M214 859h0M222 858h0M233 859h0M236 859h0M248 858h0M257 859h0M267 859h0M291 860h0M299 859h0M312 859h0M319 860h0M321 857h0M328 858h0M335 858h0" stroke="#fdf5f5" stroke-width="4.5" stroke-linecap="round" opacity="1" fill="none"/>
<path d="M99.1 612.4l1.4 3.2M111.2 615.5l3.3 -1.1M117.4 615.0l-1.0 -3.3M119.2 611.8l2.1 2.8M127.3 616.0l0.9 -3.4M130.8 612.7l-1.2 3.3M133.0 616.4l2.2 -2.8M154.5 613.2l3.2 1.5M160.7 616.1l-0.3 -3.5M162.6 614.5l3.4 0.7M171.3 614.1l3.4 0.9M198.5 616.4l2.8 -2.1M203.5 613.9l-3.1 1.7M207.3 615.2l-1.6 -3.1M221.6 612.3l-2.2 2.7M224.5 614.8l3.5 0.1M235.5 614.9l0.3 -3.5M242.2 613.7l-3.4 -0.9M243.6 615.0l3.0 -1.8M256.9 613.9l-3.5 -0.2M259.5 612.3l0.2 3.5M283.8 611.8l2.0 2.9M291.2 616.4l2.9 -2.0M296.7 612.5l3.0 1.8M310.2 612.0l-2.7 2.2M312.5 613.6l0.7 3.4M315.0 612.1l2.3 2.6M108.4 618.8l3.1 -1.5M123.2 615.1l-0.7 3.4M130.9 618.3l-1.5 -3.2M132.6 618.2l3.4 -0.9M135.9 617.1l3.1 -1.6M141.6 617.4l-3.4 0.9M142.8 618.3l0.1 -3.5M156.0 616.6l3.5 -0.1M165.5 617.5l-3.3 -1.2M165.2 617.5l3.5 -0.4M175.2 617.8l-3.3 1.1M183.2 618.2l2.2 -2.7M188.6 619.1l2.2 -2.7M195.8 617.5l3.0 1.8M205.3 619.3l-2.9 -1.9M207.3 619.2l-2.9 -1.9M225.6 616.2l-3.1 1.6M231.2 617.1l1.7 3.0M237.3 617.3l3.4 1.0M247.7 618.5l3.4 -1.0M252.9 615.4l0.2 3.5M273.5 618.6l-1.7 -3.1M294.6 618.0l2.6 -2.4M308.2 618.6l1.0 -3.3M309.5 619.3l2.6 -2.3M313.3 616.0l2.2 2.7M329.9 617.3l-2.4 2.6M333.8 618.3l-3.5 -0.5M337.4 616.6l3.1 1.6M96.0 620.7l-3.4 0.8M108.1 620.2l-3.4 0.8M116.4 621.2l3.5 0.5M126.2 622.9l-2.9 -2.0M135.1 620.0l3.5 0.0M172.8 619.5l-3.3 1.2M175.4 619.2l2.9 1.9M181.6 618.6l-2.0 2.9M186.8 618.4l1.8 3.0M193.3 623.0l-0.8 -3.4M207.7 621.2l-3.3 -1.1M213.0 618.3l1.5 3.2M218.2 620.9l-3.2 1.5M217.8 621.8l3.4 -0.9M220.9 620.5l2.8 2.0M228.5 623.3l1.0 -3.4M232.1 623.4l-0.5 -3.5M255.5 619.6l1.7 3.1M272.9 618.8l-2.1 2.8M284.2 621.2l3.0 -1.9M297.5 623.4l0.8 -3.4M313.5 620.0l-3.5 -0.5M323.1 621.8l3.0 -1.9M331.6 622.8l-0.6 -3.4M101.4 626.2l-1.4 -3.2M106.4 625.1l-3.2 -1.4M110.0 623.2l-3.2 1.4M112.7 625.0l0.5 -3.5M126.7 624.1l-3.5 -0.1M139.4 621.3l0.8 3.4M144.8 623.2l-2.4 2.5M147.9 624.8l-3.3 -1.1M155.0 623.7l3.1 1.7M180.8 625.1l-3.0 -1.8M183.8 623.0l-1.3 3.2M196.4 624.9l-0.0 -3.5M200.4 626.2l-1.3 -3.3M207.5 623.9l-3.4 0.6M214.4 625.2l-1.0 -3.4M214.6 624.2l2.9 2.0M237.9 624.1l-3.3 -1.2M236.6 624.2l3.4 1.0M241.8 623.3l3.3 1.1M245.0 625.3l3.5 -0.2M259.9 623.0l-1.9 3.0M269.8 623.2l0.3 3.5M278.3 623.4l-3.4 -0.8M282.3 625.6l1.3 -3.3M315.9 625.0l-2.8 -2.1M330.9 623.5l0.7 3.4M336.2 624.8l-3.3 -1.0M340.2 621.8l-2.5 2.5M99.7 628.4l3.3 -1.2M106.2 628.5l-3.5 -0.2M129.3 627.9l-3.0 -1.7M133.3 629.0l2.8 -2.1M137.6 629.8l1.2 -3.3M147.5 626.4l-0.6 3.5M147.7 627.2l3.4 -0.8M156.9 624.7l-1.3 3.2M159.5 626.3l3.3 1.2M167.8 626.3l2.9 2.0M175.7 628.6l-3.5 -0.3M188.1 626.3l1.7 3.0M199.6 629.5l0.1 -3.5M204.9 625.0l1.8 3.0M223.4 625.7l3.3 1.2M230.5 627.5l-3.3 -1.1M240.7 627.6l-2.6 -2.3M248.6 627.9l-3.4 -0.8M274.5 629.0l-2.5 -2.5M275.3 628.2l1.9 -3.0M291.0 624.7l0.5 3.5M297.2 629.0l-1.8 -3.0M305.3 626.5l2.0 2.9M309.0 625.3l-0.0 3.5M323.0 626.8l-0.6 3.4M327.2 627.6l-3.5 0.3M338.9 625.4l-0.6 3.4M93.1 628.8l0.8 3.4M99.8 628.4l2.4 2.6M106.9 632.8l-0.0 -3.5M114.8 630.8l-3.5 -0.5M118.2 629.3l2.7 2.2M159.4 628.9l-3.1 1.7M157.9 631.4l3.4 -1.0M174.2 629.9l-2.2 2.7M178.9 631.1l-2.8 -2.1M183.1 628.3l1.2 3.3M184.8 631.2l3.5 0.2M188.6 630.5l2.5 2.5M198.0 631.1l-2.4 -2.5M206.9 631.4l3.5 0.3M211.6 630.3l3.4 0.8M219.0 629.8l0.9 3.4M227.5 630.7l3.3 1.1M244.7 630.3l3.2 -1.3M253.6 633.3l-1.2 -3.3M255.2 629.2l0.7 3.4M261.1 629.6l2.4 2.6M265.7 632.1l-0.7 -3.4M271.6 631.1l-3.5 0.0M271.9 632.6l2.1 -2.8M286.7 630.1l2.4 2.5M291.9 630.8l2.5 -2.5M302.8 628.1l0.1 3.5M312.2 632.5l-0.7 -3.4M316.6 631.3l3.4 0.9M321.5 631.9l0.6 -3.5M328.0 628.6l2.4 2.6M336.4 630.4l2.9 1.9M104.7 631.4l-1.8 3.0M106.5 633.9l3.3 1.0M109.9 631.7l-0.1 3.5M113.9 631.5l1.1 3.3M117.9 634.4l-1.4 -3.2M145.2 636.7l1.6 -3.1M154.7 632.3l-2.0 2.9M166.9 635.3l0.9 -3.4M176.8 633.0l0.4 3.5M189.2 635.0l1.7 -3.1M194.1 633.2l-3.4 0.9M198.5 632.2l-2.2 2.8M202.6 634.7l2.9 -2.0M204.9 633.0l2.9 2.0M211.4 635.1l-3.4 -0.8M210.8 633.0l2.4 2.6M214.8 632.8l3.2 1.5M232.1 632.7l3.5 0.5M239.6 631.7l1.8 3.0M255.1 634.7l-2.9 -2.0M257.6 633.2l-3.0 1.8M277.6 634.2l2.6 -2.3M283.8 635.2l-1.4 -3.2M289.8 636.3l-0.2 -3.5M294.2 634.4l-3.4 0.7M323.8 633.1l-2.5 2.4M328.8 634.2l-2.7 -2.2M333.6 636.4l2.2 -2.7M338.3 631.9l1.9 2.9M101.3 639.3l-0.0 -3.5M106.0 638.4l-3.4 -0.7M133.4 637.2l2.6 2.4M149.1 638.6l0.8 -3.4M170.6 635.5l-0.3 3.5M176.3 639.4l1.9 -2.9M190.4 638.1l-0.2 -3.5M192.2 639.6l1.5 -3.2M221.0 637.0l3.2 1.4M227.7 636.9l-2.7 2.3M229.0 634.7l1.8 3.0M237.9 638.6l-3.2 -1.4M244.3 640.0l1.1 -3.3M256.4 636.5l1.0 3.3M256.9 635.2l2.6 2.4M270.5 636.8l-3.5 0.3M274.7 637.7l-3.5 -0.0M277.1 635.3l-2.3 2.6M283.5 637.4l-3.3 -1.2M300.7 635.5l-2.4 2.6M310.2 639.0l1.9 -2.9M323.1 638.9l1.9 -2.9M326.8 639.3l2.9 -1.9M333.4 636.1l-3.4 0.9M334.6 639.4l0.1 -3.5M336.1 638.6l2.7 -2.2M94.7 640.3l-2.6 2.3M105.7 643.2l-1.1 -3.3M108.6 642.5l3.2 -1.5M115.7 639.0l3.0 1.8M129.1 641.4l-3.5 -0.3M135.2 638.5l-2.7 2.2M137.5 638.4l-2.3 2.7M179.6 638.8l-1.1 3.3M182.7 639.1l-0.8 3.4M199.5 642.4l0.3 -3.5M207.0 638.6l-0.1 3.5M211.3 642.2l-1.9 -2.9M219.0 638.9l-3.3 1.3M220.1 639.7l-3.2 1.5M221.8 642.0l3.5 -0.4M242.7 641.0l-1.4 -3.2M257.8 640.7l-2.8 -2.1M258.3 639.6l1.3 3.2M261.1 638.2l0.6 3.5M269.5 640.3l-3.0 1.7M272.9 640.5l3.5 0.2M289.3 641.5l-2.1 -2.8M297.1 639.2l-2.5 2.4M304.5 639.7l-3.4 1.0M307.4 640.2l2.4 2.5M314.6 640.2l1.7 3.1M323.1 639.8l2.3 2.6M334.3 641.9l2.6 -2.4M339.2 640.5l2.6 2.4M93.8 643.4l-1.0 3.4M102.8 642.6l2.1 2.8M123.7 642.0l0.7 3.4M132.0 643.3l-3.0 1.9M132.1 643.3l2.3 2.7M136.6 645.4l1.7 -3.1M144.6 643.4l-1.9 2.9M155.2 645.1l-2.0 -2.9M156.8 646.0l-1.2 -3.3M177.3 642.9l-0.4 3.5M178.0 641.5l2.0 2.8M186.8 645.2l-1.5 -3.2M191.5 645.8l2.1 -2.8M198.0 646.1l-2.3 -2.6M197.1 644.1l3.4 -1.0M211.6 645.1l-3.4 -0.7M225.6 644.0l-3.5 0.2M228.0 644.7l3.5 -0.3M230.9 643.4l3.3 -1.1M243.1 646.3l-2.6 -2.4M246.1 646.8l-0.2 -3.5M264.6 643.6l3.2 -1.5M301.2 641.7l2.1 2.8M330.8 641.7l0.2 3.5M335.0 641.8l-1.3 3.2M338.8 645.0l1.5 -3.2M340.2 643.2l3.0 1.8M108.7 647.7l-2.8 -2.1M112.2 649.5l-1.4 -3.2M119.7 646.6l-0.3 3.5M127.1 645.6l1.1 3.3M131.1 646.7l-1.9 3.0M137.4 645.1l0.2 3.5M142.3 646.5l2.3 2.6M145.1 646.4l3.4 -0.7M174.5 646.8l3.5 -0.2M177.4 648.6l3.3 -1.1M184.3 646.7l3.5 -0.6M206.5 644.5l1.4 3.2M217.5 646.2l-2.3 2.6M225.1 646.1l3.3 1.2M237.8 647.3l-3.4 -0.7M245.9 645.4l0.5 3.5M275.9 644.5l-0.2 3.5M285.2 646.7l1.0 3.3M298.8 648.2l1.4 -3.2M301.7 648.5l1.3 -3.3M305.6 644.7l0.2 3.5M320.8 645.4l3.1 1.7M325.0 649.7l1.8 -3.0M328.4 647.7l2.0 -2.9M332.9 648.0l-3.4 -0.6M337.2 646.6l-2.9 2.0M94.5 649.3l-2.5 2.5M100.7 651.0l-0.7 -3.4M105.9 649.8l-2.4 2.6M118.6 650.3l-3.4 0.7M123.1 651.3l-0.5 -3.5M125.6 650.5l3.0 -1.8M132.0 650.0l-3.2 -1.4M133.3 649.2l-0.4 3.5M140.7 649.3l-1.7 3.1M151.3 650.4l-3.4 1.0M153.9 651.4l-3.0 -1.8M161.9 650.7l2.8 -2.1M188.4 651.2l1.0 -3.3M193.6 648.5l-0.4 3.5M195.8 651.4l0.5 -3.5M205.8 651.9l2.9 -2.0M213.7 650.7l-2.3 -2.6M215.7 651.1l3.3 -1.1M226.4 650.0l-2.2 2.7M233.8 649.4l0.2 3.5M257.2 649.0l-2.4 2.5M266.5 649.2l-3.4 0.6M281.7 651.1l2.2 -2.7M290.9 648.3l-2.7 2.2M290.1 650.2l3.2 -1.5M297.1 650.5l-2.9 -2.0M313.1 650.5l-3.5 -0.1M317.0 651.9l3.4 -0.8M320.1 649.4l3.2 1.4M330.6 649.5l0.9 3.4M336.5 647.7l-0.7 3.4M103.2 652.4l3.1 1.7M113.8 652.7l-1.9 2.9M119.0 651.6l-2.4 2.6M134.5 653.2l-3.4 -0.8M146.0 655.3l2.9 -1.9M172.1 653.5l-3.1 -1.5M171.4 653.6l3.1 -1.6M177.8 655.7l3.2 -1.4M184.5 654.6l3.0 -1.7M189.6 651.0l-1.2 3.3M192.9 652.0l3.0 1.8M197.1 652.6l-1.9 2.9M201.8 654.5l0.2 -3.5M207.7 653.9l-2.9 -2.0M211.3 651.8l-1.6 3.1M223.5 654.7l3.3 -1.3M245.4 655.3l-3.1 -1.6M250.7 652.5l-2.8 2.1M255.6 654.2l2.0 -2.9M258.5 652.8l1.5 3.2M262.6 654.2l2.1 -2.8M265.1 652.8l0.2 3.5M269.7 654.5l-3.3 1.0M281.6 652.9l3.5 -0.4M285.5 652.6l2.3 2.7M293.4 652.1l-2.4 2.6M301.7 654.6l-0.7 -3.4M304.7 654.8l3.5 -0.3M312.8 652.9l-0.3 3.5M317.7 652.3l-2.6 2.3M316.8 653.6l3.2 -1.4M326.3 653.2l-0.8 3.4M331.1 654.5l3.5 -0.1M341.1 655.4l3.4 -1.0M101.2 658.7l-2.0 -2.8M104.8 658.6l-3.0 -1.8M109.7 655.9l0.0 3.5M125.8 657.9l2.8 -2.1M132.5 658.2l3.3 -1.3M146.4 659.7l1.4 -3.2M164.6 656.0l-1.1 3.3M189.6 655.6l-1.4 3.2M204.1 654.5l-1.3 3.3M213.1 658.9l-0.7 -3.4M214.6 657.4l3.3 1.2M224.5 658.8l-3.2 -1.4M226.3 655.7l0.7 3.4M233.7 659.6l0.4 -3.5M241.9 656.4l0.5 3.5M243.3 657.3l3.4 -0.8M264.3 659.7l-1.5 -3.2M280.2 656.3l3.5 0.4M288.3 658.4l-3.4 -0.7M299.3 659.5l-1.4 -3.2M308.1 656.8l2.5 2.4M310.4 656.9l3.3 -1.3M318.7 657.5l1.5 -3.1M326.4 658.7l3.1 -1.7M93.6 658.5l2.2 2.7M100.4 659.6l2.5 2.4M104.7 658.9l-2.4 2.6M118.5 662.1l-3.3 -1.1M126.5 659.2l2.9 1.9M131.9 661.5l3.2 -1.4M143.5 659.2l-0.7 3.4M145.5 658.1l1.9 2.9M152.4 659.8l-2.3 2.7M152.1 661.1l3.4 -0.7M157.8 659.1l-0.6 3.4M158.2 661.3l2.8 -2.1M175.4 659.7l-3.2 1.4M176.1 662.3l2.9 -2.0M201.6 663.0l1.0 -3.3M228.8 659.3l-0.2 3.5M238.1 660.7l2.0 -2.9M250.6 661.2l-2.0 -2.8M253.0 661.1l-1.5 -3.2M257.0 659.4l3.3 1.1M264.5 660.0l-3.5 0.1M268.1 661.4l-2.2 -2.7M267.9 658.2l1.8 3.0M274.4 661.6l-2.1 -2.8M278.5 661.2l1.4 -3.2M283.3 660.2l3.5 0.6M306.6 661.0l-3.4 -0.6M310.6 661.1l1.0 -3.4M320.2 660.5l2.5 -2.5M331.9 662.4l1.5 -3.2M337.1 658.1l0.6 3.4M104.7 663.9l-3.3 1.2M108.3 662.8l-3.3 1.0M127.7 665.6l-3.1 -1.6M135.6 661.9l-2.8 2.1M142.0 663.3l-1.6 3.1M153.1 662.2l1.3 3.2M159.0 663.0l-3.4 0.7M161.6 662.2l2.7 2.3M165.0 665.4l3.0 -1.9M178.7 664.1l-2.1 -2.8M188.1 664.1l3.4 1.0M209.2 664.4l0.3 -3.5M219.2 666.0l-1.1 -3.3M225.0 665.4l1.4 -3.2M227.7 664.5l1.4 -3.2M237.5 664.3l3.2 -1.4M241.6 662.1l3.2 1.3M252.1 663.6l3.1 -1.5M261.2 662.4l-2.4 2.6M277.4 664.6l-2.1 -2.8M281.1 665.1l-1.9 -2.9M283.4 663.7l3.4 1.0M287.7 664.5l3.5 0.6M298.1 663.4l2.0 2.9M311.7 664.6l2.2 -2.7M315.3 662.2l1.5 3.1M326.8 663.0l2.4 2.5M336.3 662.9l-1.3 3.3M339.3 661.5l-1.5 3.2M343.3 664.7l-1.8 -3.0M93.6 667.3l3.3 -1.2M97.4 665.4l2.6 2.4M106.7 667.2l3.5 0.6M137.9 665.7l-1.1 3.3M141.5 666.7l3.4 -0.7M162.9 669.0l-1.2 -3.3M179.5 665.5l2.5 2.5M181.6 666.8l3.1 -1.7M185.7 668.8l0.3 -3.5M190.8 668.4l-3.4 -0.6M198.4 669.1l-2.4 -2.5M202.7 666.8l3.0 1.8M228.0 667.6l3.5 -0.1M234.2 667.0l2.9 -1.9M238.7 665.1l1.1 3.3M242.1 665.4l1.1 3.3M254.9 668.9l-2.5 -2.4M256.6 666.7l-2.1 2.8M264.3 666.2l2.0 2.9M268.4 668.5l0.6 -3.5M282.6 666.6l1.6 3.1M294.9 669.0l-0.6 -3.4M299.8 667.9l-2.8 -2.1M313.7 665.9l1.4 3.2M318.8 668.4l-0.5 -3.5M329.7 667.4l2.2 -2.8M341.5 668.8l0.7 -3.4M95.1 669.5l-1.9 2.9M100.6 671.9l-0.7 -3.4M106.5 671.4l3.4 -0.7M119.5 669.5l-2.1 2.8M135.8 672.2l2.7 -2.2M140.8 671.9l-1.9 -2.9M189.7 668.7l0.8 3.4M200.5 667.8l0.3 3.5M202.5 669.5l1.7 3.1M206.8 672.0l-2.2 -2.7M219.4 671.8l0.5 -3.5M238.4 670.0l-3.3 1.2M246.3 672.2l-1.1 -3.3M249.3 669.1l1.3 3.3M260.7 669.8l-3.5 -0.5M264.6 671.6l-2.7 -2.2M266.9 670.0l3.5 0.0M276.7 668.7l-2.3 2.6M294.8 670.4l-3.5 0.6M296.0 672.4l-1.2 -3.3M303.2 672.5l2.8 -2.2M311.0 670.8l1.7 -3.1M325.6 672.4l0.7 -3.4M331.0 667.5l0.5 3.5M93.6 671.6l0.5 3.5M106.7 672.5l-3.1 1.6M108.6 673.9l-3.5 -0.2M120.0 674.8l3.4 -0.6M125.8 673.7l-3.4 0.7M125.9 673.3l2.9 1.9M129.9 673.0l3.3 1.1M139.1 673.2l3.5 -0.5M159.0 674.1l3.4 1.0M165.4 671.3l1.3 3.2M178.3 675.3l-2.7 -2.2M187.1 675.3l0.8 -3.4M189.6 671.9l2.5 2.4M198.2 673.8l-3.5 -0.1M221.6 673.0l1.9 2.9M254.8 675.3l2.1 -2.8M269.7 672.6l-2.6 2.4M278.5 672.3l2.8 2.0M303.5 673.7l-3.5 0.2M304.2 671.4l1.9 2.9M311.1 671.6l2.8 2.1M319.8 673.8l-2.1 -2.8M326.4 673.5l3.3 -1.0M332.2 674.2l3.5 -0.4M337.7 671.8l0.6 3.4M340.1 673.5l3.4 -0.8M122.4 678.4l-1.5 -3.1M145.3 677.7l-2.4 -2.6M147.0 675.1l1.4 3.2M148.1 675.5l3.0 1.9M165.1 677.4l2.2 -2.7M175.5 678.3l-1.8 -3.0M175.3 679.2l1.9 -2.9M180.5 676.9l-3.2 1.4M187.8 679.4l-0.9 -3.4M193.2 675.7l-0.3 3.5M201.5 677.8l2.2 -2.7M237.0 678.9l0.6 -3.4M243.5 676.0l-3.5 0.5M247.5 676.0l-1.6 3.1M249.1 677.9l0.1 -3.5M251.1 674.7l2.4 2.6M255.4 675.1l0.9 3.4M280.0 677.8l3.4 -0.7M285.3 674.9l0.7 3.4M298.5 679.4l-1.3 -3.3M313.6 675.4l2.0 2.9M315.9 678.1l3.3 -1.0M326.4 676.6l3.1 -1.7M335.9 677.5l-3.5 -0.2M95.2 680.6l-2.3 -2.6M101.7 681.1l0.1 -3.5M123.8 679.6l-0.9 3.4M129.0 680.3l3.5 -0.1M134.3 678.3l-2.0 2.9M139.1 679.8l3.5 -0.2M159.8 680.8l2.2 -2.7M165.6 681.1l-3.2 -1.4M167.4 681.4l-0.7 -3.4M171.2 680.7l-1.8 -3.0M177.2 682.7l-1.4 -3.2M178.2 681.9l2.2 -2.7M224.5 679.0l1.5 3.2M234.7 681.8l3.4 -0.9M243.4 678.9l-2.9 2.0M248.1 678.0l-2.5 2.4M252.6 680.6l1.5 -3.2M256.3 681.3l-2.6 -2.4M266.2 680.5l3.5 -0.2M270.9 677.7l0.8 3.4M287.4 680.5l-1.9 -2.9M287.8 680.6l2.8 -2.1M300.9 677.8l0.2 3.5M318.1 682.0l2.8 -2.1M337.6 682.0l0.9 -3.4M96.8 682.8l-3.5 0.5M97.0 684.3l1.1 -3.3M100.3 681.9l3.2 1.4M106.1 684.5l-2.1 -2.8M116.6 683.6l-3.4 -0.7M121.9 681.2l-0.5 3.5M123.7 684.3l-1.4 -3.2M129.2 682.9l-3.5 0.2M132.1 682.9l2.8 2.1M139.9 682.6l0.3 3.5M156.0 682.3l-3.5 0.3M158.8 682.8l-1.4 3.2M165.4 684.4l2.2 -2.7M191.4 683.9l3.3 -1.1M201.9 685.9l0.5 -3.5M207.9 684.1l-2.0 -2.9M221.1 682.5l-1.6 3.1M227.8 684.4l3.5 0.3M237.2 685.4l-1.9 -3.0M242.2 681.3l0.7 3.4M247.2 682.6l-2.6 2.3M257.4 681.3l-2.8 2.0M256.9 683.1l3.3 1.2M278.1 686.2l0.8 -3.4M286.8 685.5l-1.8 -3.0M304.6 681.8l0.5 3.5M314.4 685.5l1.7 -3.1M321.5 682.7l-3.5 0.6M326.0 681.3l-2.3 2.6M334.6 681.6l3.2 1.4M342.6 686.4l-0.4 -3.5M106.6 689.0l0.9 -3.4M116.3 686.7l3.4 1.0M138.8 684.9l-1.5 3.2M141.5 686.4l-3.2 -1.5M143.5 689.3l1.1 -3.3M149.3 688.0l3.2 -1.4M160.5 687.8l-1.9 -3.0M167.8 684.4l-2.4 2.6M175.5 686.1l-3.1 1.5M176.2 689.4l-0.6 -3.4M179.5 686.5l3.1 1.5M188.3 686.3l-3.2 -1.4M188.8 687.9l3.0 -1.7M220.0 684.7l-1.9 2.9M230.1 685.0l-3.2 1.5M241.4 686.7l3.5 0.4M245.0 687.4l3.2 -1.4M254.3 685.2l2.9 1.9M262.6 689.0l-0.6 -3.4M268.0 688.7l-2.9 -1.9M275.5 684.2l0.8 3.4M299.7 684.6l-1.5 3.2M302.8 688.3l-3.3 -1.0M326.6 684.2l-2.2 2.7M334.0 685.4l1.4 3.2M339.7 687.6l-3.5 0.5M103.1 689.8l3.5 0.0M107.1 688.1l2.3 2.7M110.5 687.9l-0.1 3.5M118.8 688.7l-3.2 1.4M129.5 688.5l1.9 2.9M131.1 690.3l3.5 0.3M160.5 691.3l-2.5 -2.4M163.7 692.1l-2.0 -2.9M166.5 689.8l2.9 2.0M175.9 692.2l-0.5 -3.5M178.1 688.1l3.0 1.9M197.7 688.6l-1.2 3.3M220.7 691.2l3.3 -1.3M233.5 690.9l-3.2 -1.5M236.7 691.2l0.0 -3.5M243.9 689.7l-3.2 1.5M243.4 689.9l3.3 -1.2M254.1 688.8l-2.9 2.0M257.6 689.6l-3.4 -0.7M259.1 692.5l-2.1 -2.8M266.2 690.1l-2.9 1.9M274.9 690.4l-3.2 -1.4M284.2 689.6l-3.5 -0.5M302.1 689.2l0.8 3.4M304.8 689.1l1.8 3.0M314.7 690.2l-3.5 0.2M318.0 690.4l-3.5 0.4M330.0 688.9l3.1 1.7M111.5 694.9l-2.8 -2.1M114.0 695.2l0.4 -3.5M116.1 692.0l2.4 2.6M122.3 695.5l-2.0 -2.9M128.0 695.1l-1.6 -3.1M128.4 693.5l3.4 0.6M148.9 693.5l3.4 -0.9M167.3 696.2l-1.2 -3.3M174.9 694.2l3.4 -0.8M180.9 694.0l-3.4 -0.8M183.9 692.3l-3.5 0.5M198.1 693.1l-3.4 -1.0M207.3 692.7l-2.1 2.8M209.2 694.5l1.9 -2.9M211.6 693.2l3.2 -1.4M215.4 694.7l3.3 -1.3M246.0 695.3l-1.4 -3.2M257.4 693.2l2.8 -2.1M272.4 694.3l-1.1 -3.3M276.8 692.9l-1.3 3.3M286.5 692.8l2.6 2.3M290.0 693.1l2.9 1.9M298.8 694.7l0.4 -3.5M305.8 690.9l-1.7 3.1M308.9 691.5l1.3 3.2M312.8 694.9l3.4 -1.0M323.0 696.1l-1.6 -3.1M335.0 695.8l0.8 -3.4M343.7 693.7l-2.3 -2.7M93.4 696.3l1.5 3.2M100.1 694.9l2.5 2.5M118.8 695.6l3.4 1.0M125.1 695.0l2.5 2.4M134.4 695.9l3.2 1.5M140.3 697.9l1.9 -2.9M143.1 698.3l0.5 -3.5M151.6 695.4l-3.5 0.3M167.1 695.2l-2.5 2.4M184.2 696.4l3.5 -0.1M201.5 696.9l-3.2 -1.4M209.1 695.2l-3.4 1.0M208.1 696.5l3.1 -1.7M214.2 697.6l-3.5 0.4M236.9 698.2l-0.8 -3.4M246.8 696.1l3.5 0.0M267.7 695.0l-3.1 1.7M295.0 697.0l-3.2 -1.3M296.8 695.1l-2.8 2.1M300.6 695.2l-1.3 3.3M308.7 698.3l-1.8 -3.0M323.0 694.9l-3.2 1.4M336.2 694.8l-2.8 2.0M339.7 697.2l-3.1 -1.5M94.7 701.5l-2.9 -1.9M121.5 700.1l3.1 -1.6M130.0 700.7l2.6 -2.3M138.9 699.4l3.0 1.9M142.8 701.6l1.4 -3.2M147.7 697.9l-2.6 2.3M154.8 698.7l-2.0 2.9M157.8 701.6l-1.3 -3.3M157.6 699.7l3.4 0.7M186.3 701.8l2.2 -2.7M208.0 699.7l3.4 0.7M221.0 698.6l-2.9 1.9M229.4 699.4l-2.1 2.8M257.1 702.7l-1.1 -3.3M268.6 699.3l-3.4 0.7M289.7 699.2l3.4 0.8M305.7 700.6l-0.2 -3.5M316.1 699.2l3.5 -0.5M323.4 701.1l-3.2 -1.4M338.7 702.3l-2.6 -2.3M108.1 703.1l3.4 -0.8M123.4 702.4l-3.3 1.3M121.7 702.5l2.7 2.2M132.4 703.9l-2.3 -2.6M134.8 704.1l-2.1 -2.8M138.1 701.8l2.3 2.7M144.0 704.5l-1.2 -3.3M153.3 700.7l0.6 3.4M156.4 700.7l1.0 3.4M161.2 705.4l-1.2 -3.3M171.8 703.9l-2.9 -1.9M173.3 703.9l-0.7 -3.4M178.1 702.7l1.5 3.2M193.2 701.4l-2.1 2.8M201.6 702.3l1.8 3.0M225.4 701.3l1.9 3.0M236.6 702.0l-3.0 1.8M258.9 700.9l0.9 3.4M263.6 701.6l-1.1 3.3M264.1 703.7l3.5 -0.3M267.9 704.9l2.1 -2.8M282.6 703.7l-2.6 -2.3M293.9 704.3l3.0 -1.8M307.1 703.7l-2.5 -2.4M311.4 703.9l-3.3 -1.3M330.1 704.8l-3.2 -1.5M333.7 701.2l-1.8 3.0M335.8 701.3l-2.7 2.2M336.4 704.3l3.1 -1.6M98.9 705.1l-3.0 1.8M105.3 705.7l-3.2 1.4M109.0 705.8l-1.1 3.3M111.2 705.6l-1.7 3.1M113.0 706.0l-0.3 3.5M119.6 708.3l2.8 -2.0M125.3 708.2l3.1 -1.6M136.6 707.4l-0.1 -3.5M140.4 704.3l-1.2 3.3M144.8 705.2l-0.2 3.5M146.1 705.6l3.1 1.5M152.1 707.4l2.8 -2.1M158.8 708.6l-2.7 -2.3M162.4 706.0l-2.8 2.1M165.8 707.3l3.1 -1.5M185.6 708.2l-3.0 -1.9M187.0 709.1l0.1 -3.5M195.7 704.6l0.2 3.5M202.9 709.4l-1.0 -3.4M205.7 708.3l2.2 -2.7M211.1 704.1l-0.6 3.5M213.9 705.8l-3.3 1.1M222.5 705.9l0.5 3.5M227.5 708.7l2.6 -2.4M231.0 707.8l2.5 -2.4M239.0 705.3l-0.3 3.5M250.7 707.3l-3.5 -0.6M260.5 708.7l-1.6 -3.1M271.1 709.2l-1.9 -2.9M301.4 706.7l-3.2 -1.3M301.3 705.8l2.1 2.8M312.6 705.2l3.3 1.0M322.6 706.2l-1.7 3.1M325.6 705.4l-3.1 1.7M329.8 707.7l-2.8 -2.2M334.4 705.4l-3.5 0.5M340.3 707.5l3.2 -1.4M92.5 710.2l3.5 -0.3M102.6 710.3l-1.7 -3.1M106.2 710.0l-3.4 -0.7M113.7 712.7l0.5 -3.5M123.4 709.7l-3.5 -0.5M123.4 712.4l2.2 -2.7M139.6 709.0l-0.4 3.5M147.4 707.2l0.0 3.5M156.3 708.9l2.8 2.1M165.3 709.7l3.5 0.2M181.9 710.1l2.8 -2.2M207.2 709.9l-3.2 -1.5M215.4 708.1l2.4 2.5M221.1 710.8l-1.3 -3.3M223.9 708.8l2.6 2.3M238.1 709.6l-3.5 0.5M241.5 709.2l3.4 0.9M252.7 708.7l-1.6 3.1M257.0 710.5l2.8 -2.1M270.8 711.0l-3.5 -0.4M274.0 707.1l1.2 3.3M284.1 711.4l-2.4 -2.6M292.6 711.6l0.7 -3.4M296.8 708.4l-2.4 2.5M306.8 710.1l-3.4 0.6M316.4 711.0l-3.0 -1.8M317.9 710.4l2.2 -2.7M324.4 709.2l2.5 2.5M329.2 709.0l0.1 3.5M332.5 708.7l3.4 0.9M341.5 707.5l-0.6 3.4M101.3 711.4l-3.2 1.4M121.0 711.4l-1.2 3.3M121.4 713.0l3.2 -1.5M128.4 710.8l2.1 2.8M148.2 714.1l-2.7 -2.2M151.3 714.7l-3.2 -1.4M158.6 715.4l1.5 -3.1M169.7 711.5l2.2 2.7M177.9 713.9l-0.3 -3.5M197.7 711.4l-2.2 2.8M199.6 710.7l2.3 2.6M205.0 711.3l2.6 2.3M214.1 715.6l-0.4 -3.5M223.7 714.0l-3.4 0.8M237.4 713.5l2.2 -2.7M252.2 715.7l2.3 -2.6M268.0 713.6l-3.4 -0.6M273.5 713.2l-2.9 -2.0M275.8 710.6l1.3 3.3M297.8 713.2l-3.0 -1.7M304.2 713.5l-2.4 -2.5M307.5 715.8l1.9 -3.0M326.1 714.4l3.4 -0.8M336.5 714.0l-3.3 -1.2M95.8 715.7l-3.2 1.5M110.4 719.0l1.2 -3.3M112.6 718.0l3.1 -1.6M118.8 716.7l-2.7 -2.2M136.4 717.0l3.3 -1.2M140.8 714.5l-0.2 3.5M213.6 716.3l-2.2 2.7M239.5 715.3l-1.0 3.3M259.1 715.7l-0.2 3.5M263.9 715.0l-1.6 3.1M267.5 714.4l-2.7 2.3M270.5 716.4l3.0 1.8M275.1 714.0l0.6 3.4M281.2 715.8l-3.4 -0.9M289.8 714.2l-2.4 2.5M325.1 718.1l2.6 -2.3M334.5 715.9l-1.0 3.4M340.9 714.6l1.4 3.2M94.3 720.7l1.7 -3.1M106.3 717.3l1.9 2.9M118.4 721.6l-1.7 -3.1M129.6 719.1l2.3 2.6M138.3 720.3l2.2 -2.7M143.0 717.7l1.2 3.3M168.4 718.9l-3.4 0.9M188.7 719.1l1.4 3.2M193.8 718.4l-2.9 1.9M211.4 720.9l-1.9 -2.9M211.7 720.8l3.5 0.4M219.7 717.9l0.4 3.5M249.9 718.1l-3.3 1.1M257.1 720.8l-3.1 -1.7M263.1 720.3l-3.5 -0.1M269.2 720.8l-1.2 -3.3M272.2 722.5l1.1 -3.3M278.3 719.7l-2.8 2.1M277.2 720.5l1.5 -3.2M282.2 720.6l1.7 -3.1M286.6 718.4l3.4 0.7M294.6 720.4l0.9 -3.4M297.9 720.8l3.5 -0.3M304.0 720.5l-2.0 -2.8M319.5 721.5l-0.9 -3.4M333.4 721.0l2.8 -2.1M109.0 724.2l-3.2 -1.5M112.1 720.4l-0.7 3.4M121.0 724.3l0.1 -3.5M123.4 724.7l3.4 -0.9M126.8 722.7l2.0 2.9M133.0 724.5l1.2 -3.3M149.4 722.1l3.0 1.9M154.1 723.8l-1.8 -3.0M159.1 722.3l-3.5 0.3M177.8 725.3l2.7 -2.2M201.5 721.7l3.2 1.4M216.2 720.5l-0.3 3.5M227.7 723.4l3.5 -0.1M233.6 721.4l-1.1 3.3M234.6 723.4l1.9 -2.9M241.1 723.5l3.3 1.3M245.7 721.5l0.5 3.5M248.3 725.7l1.0 -3.4M261.5 725.6l1.8 -3.0M266.8 724.6l3.3 -1.1M275.3 722.1l1.8 3.0M294.5 725.3l1.4 -3.2M299.9 723.0l-2.7 -2.2M305.7 720.3l-0.7 3.4M334.0 722.7l-2.7 2.2M93.2 724.2l1.5 3.2M106.6 727.4l0.0 -3.5M136.4 728.2l-0.4 -3.5M141.2 727.4l0.1 -3.5M143.8 729.3l0.2 -3.5M146.9 725.9l1.1 3.3M148.7 725.4l2.3 2.6M151.4 727.3l3.5 -0.1M185.1 727.2l-2.5 -2.5M200.0 724.1l0.4 3.5M202.5 725.3l2.3 2.6M219.5 724.5l2.3 2.6M227.0 724.6l-2.8 2.0M241.6 727.3l3.5 -0.2M244.5 724.4l0.8 3.4M248.7 728.6l2.5 -2.4M268.9 725.7l0.4 3.5M273.2 724.4l0.7 3.4M289.0 724.6l-0.1 3.5M294.4 726.4l-3.4 0.7M294.5 725.1l3.2 1.4M303.2 728.4l-1.2 -3.3M311.7 728.6l-1.7 -3.1M329.8 725.2l-3.1 1.5M343.1 725.5l-3.4 0.9M93.4 729.2l3.2 -1.4M108.2 728.5l3.5 0.2M116.0 731.4l2.2 -2.8M128.4 727.3l2.2 2.7M134.4 729.7l-3.5 0.5M137.5 730.9l-2.7 -2.2M144.7 731.4l0.0 -3.5M152.2 728.9l-1.4 3.2M152.6 730.4l2.8 -2.1M162.8 728.2l3.3 1.2M171.2 727.7l-0.6 3.4M181.9 727.3l-2.4 2.5M195.7 730.1l3.3 1.2M197.7 729.6l3.3 -1.3M205.6 727.3l1.6 3.1M209.0 728.4l0.4 3.5M223.4 730.4l-3.0 -1.7M225.2 732.5l0.4 -3.5M229.4 730.6l1.4 -3.2M237.6 728.6l1.7 3.1M242.0 730.0l3.4 0.6M250.1 727.7l-0.5 3.5M253.7 729.6l3.0 -1.7M262.6 730.5l0.9 -3.4M277.4 729.4l3.4 1.0M290.6 730.0l-3.4 -0.9M297.7 729.5l-3.4 0.9M300.9 730.2l3.3 -1.2M304.9 731.9l1.1 -3.3M310.7 731.9l1.3 -3.3M315.3 730.3l1.0 -3.3M316.3 730.5l3.0 -1.7M324.6 729.6l3.5 0.4M333.2 729.3l-3.4 1.0M337.2 727.3l1.8 3.0M341.0 728.9l1.8 3.0M94.2 734.6l1.0 -3.3M105.1 730.1l-0.9 3.4M106.3 734.6l2.6 -2.4M108.2 733.5l3.3 1.3M136.8 735.3l1.4 -3.2M141.1 734.2l-0.6 -3.4M154.6 733.8l3.0 -1.8M166.1 732.0l-0.2 3.5M172.1 734.2l2.6 -2.3M184.2 732.8l-3.4 0.8M201.6 734.2l0.6 -3.5M205.0 732.6l2.8 2.1M208.0 734.1l3.0 -1.7M214.2 735.5l-2.2 -2.7M227.1 733.9l-1.3 -3.3M236.6 730.4l-1.5 3.2M246.6 730.5l-0.2 3.5M254.4 730.8l2.8 2.2M281.9 734.8l0.8 -3.4M287.9 734.2l-2.8 -2.1M290.8 734.0l2.3 -2.7M295.1 733.9l3.1 -1.6M306.0 733.0l3.3 1.1M313.6 731.0l-2.2 2.7M321.0 733.5l-3.4 -0.9M327.7 732.9l-3.4 -0.8M328.0 733.6l3.1 -1.7M335.2 730.8l2.0 2.9M102.0 737.6l-1.5 -3.1M109.1 738.2l-2.4 -2.5M115.8 734.9l-1.9 3.0M120.3 737.6l2.4 -2.5M131.6 735.7l3.2 1.4M135.2 734.4l2.0 2.9M148.8 738.1l-2.8 -2.0M158.9 737.6l1.1 -3.3M195.7 736.4l-3.0 -1.8M204.3 737.5l-1.3 -3.2M208.6 735.1l-2.6 2.3M210.4 737.8l0.2 -3.5M223.8 734.4l-0.7 3.4M235.5 735.3l-0.1 3.5M244.5 735.6l-3.5 -0.2M246.3 738.4l-0.2 -3.5M252.0 736.7l3.3 -1.1M297.3 735.8l-3.5 0.3M302.4 738.1l-2.4 -2.5M312.6 735.9l-3.3 1.1M325.8 739.0l0.4 -3.5M327.9 735.4l3.1 1.6M332.1 733.7l1.4 3.2M93.5 738.9l2.4 2.6M98.5 739.3l3.0 1.8M112.2 739.6l3.3 1.0M122.4 739.1l-3.4 -0.7M149.4 739.3l3.4 -0.7M151.1 740.3l3.4 0.9M159.8 741.8l-1.1 -3.3M172.3 739.0l3.5 -0.4M180.7 739.4l-3.3 -1.1M198.2 741.3l1.2 -3.3M203.9 741.6l-0.2 -3.5M208.4 738.0l3.3 1.1M217.1 741.0l3.0 -1.8M251.6 738.9l3.5 -0.5M257.3 739.1l3.1 1.6M265.0 740.2l2.1 -2.8M274.2 740.0l2.3 -2.7M281.1 740.5l-3.5 0.3M283.4 740.2l-1.2 -3.3M287.9 741.0l1.0 -3.3M291.3 740.3l3.2 -1.4M309.7 741.3l-2.9 -2.0M319.4 738.4l-2.1 2.8M327.2 739.9l-3.0 -1.8M340.4 740.3l-2.6 -2.4M93.6 741.9l-0.0 3.5M101.6 740.4l-2.1 2.8M105.2 744.4l-2.9 -2.0M106.5 745.5l-0.3 -3.5M108.2 743.6l2.8 -2.1M115.1 741.0l2.7 2.2M119.8 742.3l2.8 2.1M126.9 740.8l1.6 3.1M132.4 742.7l2.9 -2.0M135.9 744.4l3.3 -1.2M149.4 744.0l-0.0 -3.5M157.0 742.0l0.0 3.5M161.8 743.1l-3.3 -1.2M166.4 740.6l1.5 3.2M170.5 742.1l3.5 0.5M178.5 744.4l2.2 -2.7M185.7 741.6l2.1 2.8M187.5 741.3l2.7 2.3M191.2 741.0l1.6 3.1M201.1 745.6l-1.5 -3.2M202.8 744.3l-1.4 -3.2M205.6 741.9l-0.2 3.5M222.0 744.8l2.5 -2.4M231.2 742.8l-2.6 2.4M238.4 743.1l3.4 -0.9M247.0 744.7l2.9 -1.9M258.5 744.1l-0.2 -3.5M263.5 742.8l3.5 0.0M281.7 742.4l-3.4 -0.9M297.7 740.4l1.2 3.3M314.2 742.4l3.5 -0.5M335.2 741.1l-1.0 3.4M343.8 741.7l-3.3 1.2M99.4 747.6l2.9 -2.0M105.3 746.6l3.5 0.4M118.7 746.7l-3.5 -0.0M132.8 747.0l-3.5 -0.4M141.9 746.3l-3.5 -0.2M161.9 745.9l-3.1 -1.7M163.2 745.6l-1.7 3.1M176.0 743.7l-0.5 3.5M184.7 745.5l3.5 0.5M193.1 743.7l1.8 3.0M216.2 747.3l2.2 -2.7M221.4 747.9l-2.6 -2.3M231.5 744.8l-2.5 2.4M241.9 746.5l-3.5 -0.2M256.1 745.8l-2.0 2.8M263.8 747.6l-2.7 -2.3M265.4 747.7l2.5 -2.5M279.4 743.6l1.3 3.2M296.9 748.2l-1.5 -3.2M323.4 745.7l-3.5 0.1M327.2 746.7l-2.5 -2.5M333.6 747.5l2.9 -2.0M342.4 744.0l-2.8 2.1M97.7 750.1l-2.3 -2.6M103.1 747.8l0.9 3.4M105.4 750.2l3.3 -1.1M124.9 751.2l-2.9 -2.0M127.9 748.8l-1.4 3.2M147.2 748.9l0.4 3.5M158.6 747.5l1.4 3.2M166.2 750.5l3.1 -1.7M179.3 748.2l-3.5 0.6M179.3 751.8l1.0 -3.4M185.7 749.2l1.9 3.0M201.9 747.6l-2.2 2.7M201.9 749.0l2.0 2.9M206.8 749.0l-3.0 1.7M211.1 751.3l2.6 -2.3M240.1 749.0l-2.0 2.8M242.2 749.5l3.0 1.8M247.6 750.7l1.3 -3.3M262.5 748.0l2.3 2.6M282.6 749.9l-2.0 -2.9M286.1 749.1l-3.1 -1.5M314.1 749.4l3.1 -1.5M318.2 747.5l2.0 2.8M321.5 746.7l-0.8 3.4M323.5 748.2l3.2 1.5M325.9 750.1l3.1 -1.6M96.2 754.4l3.4 -1.0M113.2 753.8l0.4 -3.5M116.6 750.6l0.7 3.4M131.9 750.2l2.0 2.9M144.6 752.3l-1.4 3.2M154.3 754.6l0.2 -3.5M165.2 753.9l-1.1 -3.3M175.7 752.8l-2.9 2.0M180.5 753.3l-3.2 1.4M185.4 751.5l-3.4 0.8M189.9 755.1l-0.7 -3.4M196.4 751.8l2.0 2.9M201.1 752.9l-2.9 1.9M205.3 754.2l1.6 -3.1M209.5 753.4l-0.6 -3.4M220.0 755.4l-1.8 -3.0M227.4 752.8l3.4 -1.0M230.0 751.2l3.4 0.9M249.7 750.6l-2.5 2.4M286.3 750.4l-1.8 3.0M292.2 750.9l-0.2 3.5M304.1 752.5l-3.5 -0.3M312.8 754.0l-2.1 -2.8M323.9 753.0l-3.3 -1.1M330.9 750.7l2.9 2.0M340.7 750.7l1.0 3.4M91.6 755.0l2.7 2.2M97.6 756.3l-2.0 -2.9M114.0 758.6l0.2 -3.5M116.5 755.9l3.4 0.9M124.5 753.6l-0.5 3.5M129.0 756.4l-3.4 -0.8M135.1 757.3l2.1 -2.8M157.1 758.6l-1.0 -3.4M169.8 754.1l1.9 2.9M172.2 757.4l1.5 -3.2M175.5 754.9l3.0 1.8M182.9 757.6l2.1 -2.8M202.2 754.5l2.9 2.0M204.8 758.6l1.7 -3.1M209.2 756.8l0.7 -3.4M221.8 754.4l-2.4 2.5M223.1 755.6l-1.0 3.4M239.6 758.3l-1.8 -3.0M241.1 757.0l2.6 -2.3M250.7 758.1l-0.8 -3.4M276.8 757.0l-3.4 -0.8M284.4 757.1l2.4 -2.6M308.0 755.9l-3.4 -0.9M314.3 755.4l-3.4 -0.8M314.6 756.4l3.5 -0.2M321.9 753.3l-1.0 3.3M328.9 754.9l3.5 0.2M335.7 757.9l0.3 -3.5M337.5 755.6l2.7 2.2M94.8 757.7l-1.6 3.1M102.1 759.3l-3.3 -1.2M109.8 758.9l3.3 1.3M113.5 758.3l-1.3 3.3M116.9 756.9l-1.2 3.3M122.1 757.6l2.3 2.6M135.5 761.4l1.8 -3.0M139.3 758.9l3.5 0.0M146.5 760.0l1.0 -3.4M150.0 758.1l1.5 3.1M154.7 760.7l3.1 -1.5M178.2 759.2l3.0 -1.8M196.0 760.4l-3.5 0.0M197.8 761.4l-2.3 -2.7M211.9 760.0l-3.5 0.4M212.1 761.1l1.7 -3.0M226.9 759.0l-3.5 -0.5M236.6 761.4l0.6 -3.5M259.9 760.2l3.4 -0.9M273.7 759.6l-2.3 -2.7M275.0 758.2l-0.7 3.4M280.7 761.2l2.4 -2.5M310.9 761.4l-0.0 -3.5M315.1 761.8l0.5 -3.5M323.6 759.4l2.6 2.4M340.1 757.6l-3.2 1.4M105.9 761.1l2.4 2.5M136.4 760.1l-1.0 3.4M142.1 760.0l1.5 3.2M154.6 763.6l-2.7 -2.2M161.5 764.6l-0.8 -3.4M168.1 761.9l-3.2 1.4M177.9 762.3l2.1 2.8M195.1 762.7l3.1 1.6M206.9 760.4l1.4 3.2M224.5 761.5l-1.2 3.3M226.8 763.0l3.2 1.4M233.3 761.7l-0.7 3.4M244.1 764.6l-2.7 -2.3M250.9 762.9l-3.4 -0.7M254.5 764.0l1.0 -3.4M267.3 762.6l2.7 2.3M278.1 764.8l-0.4 -3.5M284.4 762.8l3.2 -1.3M294.8 764.2l3.0 -1.7M326.3 764.6l-3.2 -1.5M334.5 764.7l2.3 -2.7M105.9 768.1l2.3 -2.6M116.1 764.7l3.0 1.9M121.8 767.8l2.3 -2.7M129.5 765.5l-3.3 1.2M135.7 768.3l1.6 -3.1M141.5 764.3l-2.9 1.9M146.1 766.0l-2.7 -2.2M158.8 765.4l3.5 -0.5M163.3 763.3l-0.6 3.4M176.6 767.9l-1.3 -3.3M204.7 764.4l2.9 2.0M239.2 764.6l1.9 3.0M246.6 768.5l-1.1 -3.3M247.0 763.9l2.7 2.2M254.0 767.2l-3.3 -1.1M288.3 765.9l3.3 1.2M290.1 767.3l2.5 -2.5M295.9 765.0l-3.1 1.6M313.0 766.5l3.5 0.5M319.5 767.2l-1.3 -3.2M337.8 763.9l1.7 3.0M340.8 766.4l3.5 0.0M94.8 770.0l3.5 0.1M123.4 770.8l3.2 -1.4M128.0 771.2l-0.0 -3.5M142.6 769.0l-3.4 -0.9M170.4 768.7l1.2 3.3M175.1 768.2l-2.8 2.1M177.7 769.4l2.4 -2.5M180.7 769.8l3.5 0.1M186.9 770.4l-2.4 -2.6M189.6 768.1l-1.6 3.1M195.0 768.0l1.5 3.2M209.4 768.4l0.1 3.5M213.7 770.4l-3.4 -0.6M224.8 767.0l0.3 3.5M233.4 770.9l-0.9 -3.4M241.8 769.3l3.2 -1.4M253.5 770.5l-3.3 -1.1M277.8 767.9l1.8 3.0M287.8 767.7l-3.0 1.7M288.3 771.7l1.3 -3.3M290.4 768.4l1.7 3.1M308.7 771.9l0.6 -3.4M327.7 770.7l0.4 -3.5M334.4 769.3l3.2 1.3M340.1 768.6l-3.3 1.1M344.5 769.4l-3.4 -0.7M100.2 772.9l-3.2 1.4M106.2 774.8l1.5 -3.1M110.5 773.5l0.1 -3.5M123.1 773.0l3.2 -1.4M129.9 775.0l2.2 -2.7M133.8 771.5l1.5 3.1M137.8 772.3l-3.3 -1.2M138.2 774.4l2.7 -2.2M143.2 774.3l2.6 -2.4M178.3 771.8l-3.5 -0.0M179.4 773.6l2.7 -2.2M188.1 773.0l-1.6 -3.1M201.7 773.5l2.6 -2.4M222.3 769.8l1.0 3.4M235.5 773.4l1.4 -3.2M257.8 771.0l-2.9 1.9M260.0 774.9l-0.1 -3.5M273.1 773.7l-3.5 -0.1M276.7 772.8l-2.3 -2.6M277.1 774.1l2.6 -2.3M281.4 772.8l3.4 -0.8M298.0 773.0l3.0 -1.8M302.4 775.3l0.0 -3.5M304.7 774.1l0.4 -3.5M321.9 771.2l1.5 3.1M329.0 771.7l-3.4 1.0M334.4 771.3l0.0 3.5M339.5 772.0l-3.3 -1.1M341.1 773.3l3.4 -0.8M95.8 774.3l2.7 2.2M109.1 776.2l3.5 -0.6M126.3 774.1l1.3 3.3M131.2 777.6l-1.8 -3.0M137.8 778.2l0.9 -3.4M143.2 774.1l1.1 3.3M146.6 775.2l0.5 3.5M158.0 777.4l-2.7 -2.2M158.6 775.2l2.8 2.0M168.7 776.9l-3.4 -0.9M171.4 775.4l-3.5 -0.2M180.8 775.9l3.4 -0.6M186.8 775.5l-2.0 2.8M188.8 773.8l1.4 3.2M192.6 777.6l-0.3 -3.5M201.2 777.6l-0.5 -3.5M204.0 775.1l3.2 1.4M210.2 774.5l-3.5 0.5M214.3 778.8l-0.9 -3.4M215.1 777.4l0.3 -3.5M221.6 776.6l3.3 -1.3M230.7 776.2l3.5 0.4M241.6 775.5l3.3 -1.0M251.7 775.0l-3.5 0.4M257.2 774.1l-2.6 2.3M264.0 777.5l-2.0 -2.8M283.0 774.6l-3.1 1.6M296.5 777.5l-2.4 -2.5M302.9 774.3l-2.4 2.5M306.9 776.0l-3.0 -1.7M317.5 776.2l3.5 0.1M324.6 777.8l2.8 -2.1M330.3 775.7l-3.4 -0.8M341.4 773.8l2.8 2.1M98.9 781.0l-2.0 -2.9M120.3 777.8l-0.4 3.5M132.6 781.9l0.4 -3.5M137.6 781.1l-2.5 -2.4M145.7 778.8l-3.4 0.7M151.5 779.5l-3.3 1.2M161.6 777.8l-3.0 1.9M165.1 778.0l-3.4 0.9M171.7 779.6l-3.5 -0.1M174.7 778.1l2.7 2.2M189.0 779.8l3.4 -0.7M204.2 777.5l-3.1 1.7M214.9 781.3l2.1 -2.8M221.3 779.4l-2.2 -2.7M223.9 780.2l-3.4 -0.9M229.6 777.7l-1.1 3.3M236.1 780.1l-1.9 -3.0M245.7 778.6l1.5 3.1M278.8 781.4l-1.6 -3.1M280.1 780.2l3.5 -0.2M284.7 781.7l1.5 -3.1M304.4 776.6l2.0 2.8M314.1 778.1l-2.7 2.2M330.3 778.6l-2.4 2.6M334.0 780.1l3.4 -1.0M114.6 782.1l-2.8 2.1M134.4 781.0l-2.6 2.3M139.3 780.8l1.7 3.1M143.1 783.5l2.4 -2.6M168.0 782.7l-3.1 -1.6M171.7 782.4l2.9 2.0M183.1 781.3l-1.6 3.1M198.2 781.5l1.0 3.4M204.8 783.4l-2.6 -2.3M212.3 784.0l-2.9 -1.9M210.9 784.5l2.7 -2.2M229.6 779.9l1.8 3.0M252.5 781.3l-1.6 3.1M266.5 782.5l-2.8 -2.1M276.1 785.2l-1.7 -3.1M280.3 783.9l-2.4 -2.5M281.2 781.5l3.5 0.2M289.4 782.9l-3.3 1.2M298.5 780.4l-1.0 3.3M315.2 780.8l2.3 2.6M316.9 784.6l2.3 -2.7M323.1 782.3l3.5 0.5M331.1 780.1l-0.4 3.5M95.9 785.3l-3.5 0.5M98.5 786.8l0.3 -3.5M101.6 783.7l-3.0 1.8M105.2 787.0l-3.0 -1.9M108.6 785.2l3.5 -0.1M112.5 784.8l3.2 1.3M128.3 786.2l-3.2 1.3M131.3 788.0l-2.6 -2.4M136.5 785.6l-3.5 0.3M145.6 787.6l-3.2 -1.3M152.6 787.1l-3.3 -1.1M154.4 787.5l-2.9 -2.0M159.8 785.3l-1.2 3.3M168.6 786.5l-1.5 -3.2M179.6 783.2l-0.1 3.5M184.2 783.4l-2.1 2.8M188.9 786.6l-2.6 -2.4M193.8 786.5l-3.2 -1.5M201.9 784.2l-2.9 2.0M209.0 786.1l3.1 1.6M225.8 784.9l-3.5 -0.2M245.6 786.5l1.1 -3.3M248.4 787.9l1.1 -3.3M251.4 787.0l2.0 -2.9M254.2 785.4l2.7 2.3M261.1 785.4l-3.4 0.8M263.7 784.4l-0.8 3.4M267.9 784.2l-3.4 0.9M274.9 785.8l3.3 -1.2M279.6 785.5l-1.9 2.9M289.6 785.4l-2.8 2.1M299.9 786.9l-3.1 -1.7M302.3 786.8l1.3 -3.3M303.1 785.2l2.7 2.2M316.2 785.3l-2.6 2.4M318.9 788.6l0.6 -3.5M327.4 786.3l-3.4 -0.7M328.8 783.8l-0.3 3.5M331.8 783.2l-1.4 3.2M94.5 791.7l0.9 -3.4M99.8 786.5l1.8 3.0M132.1 791.6l-2.2 -2.7M132.6 790.4l1.2 -3.3M136.9 789.9l2.5 -2.5M145.7 786.9l-1.6 3.1M149.5 787.5l1.7 3.1M156.5 791.0l1.8 -3.0M178.4 790.3l3.5 -0.3M182.9 787.6l1.8 3.0M186.5 788.9l2.2 2.7M194.5 788.8l-3.4 0.9M199.0 787.2l-2.8 2.1M212.8 787.6l-0.9 3.4M216.9 789.4l-2.8 -2.1M224.3 788.2l3.2 1.3M227.7 790.2l1.9 -3.0M235.3 786.8l1.5 3.2M250.0 789.2l-3.4 -0.8M259.4 788.2l-0.1 3.5M263.5 789.6l-3.5 -0.4M269.9 791.1l0.4 -3.5M273.2 788.3l3.5 0.0M276.6 789.2l2.5 -2.4M286.7 789.4l-3.1 -1.6M291.5 787.7l1.3 3.3M297.4 791.7l-1.8 -3.0M297.2 788.4l3.4 0.9M309.7 788.7l-3.5 0.4M317.2 791.1l-1.7 -3.0M319.3 789.6l-3.4 -0.9M321.3 787.4l0.3 3.5M96.3 793.9l-2.9 -2.0M116.6 792.7l-3.5 0.6M120.7 793.0l1.8 -3.0M124.9 794.7l-0.1 -3.5M140.2 792.5l2.8 2.2M144.4 791.8l-2.0 2.9M149.5 792.4l3.5 -0.3M166.6 790.9l0.3 3.5M181.7 791.4l2.1 2.8M184.7 792.9l3.4 -0.9M196.2 794.1l0.8 -3.4M215.4 792.5l3.0 -1.8M220.8 793.0l3.3 1.0M225.4 790.0l0.8 3.4M239.1 793.4l-1.5 -3.2M245.3 794.6l-0.7 -3.4M261.5 793.5l0.2 -3.5M294.6 791.1l-2.9 2.0M323.7 793.6l-2.9 -1.9M324.1 794.3l2.4 -2.6M98.7 797.1l-2.9 -2.0M110.9 798.1l-2.1 -2.8M116.5 795.9l3.5 0.4M117.9 794.9l3.4 -0.7M123.9 795.2l-2.2 2.7M137.5 794.5l-0.9 3.4M144.5 796.1l-3.3 -1.2M154.4 798.6l0.4 -3.5M155.4 793.9l1.3 3.3M160.9 794.8l-3.2 1.3M169.3 797.2l-3.4 -0.9M173.5 797.3l2.0 -2.9M176.1 796.7l3.5 -0.2M188.6 796.1l-3.2 1.5M217.8 795.4l-3.2 -1.5M237.6 795.4l-3.5 -0.1M241.7 795.6l-3.5 0.4M245.3 797.8l-0.6 -3.4M251.6 794.5l3.5 0.4M258.6 795.4l2.6 2.4M267.8 794.6l-3.4 0.6M274.6 793.9l-3.0 1.8M279.1 796.1l-2.2 -2.7M279.4 796.0l3.4 0.8M296.4 793.8l2.7 2.3M309.2 796.4l0.0 -3.5M340.5 793.8l-3.1 1.5M339.4 797.0l2.7 -2.3M92.6 798.2l2.5 2.4M96.2 796.7l0.4 3.5M99.2 800.4l3.1 -1.7M119.0 797.3l-1.1 3.3M118.8 798.5l3.4 -0.7M122.5 796.6l2.4 2.6M135.6 799.2l-2.9 -2.0M145.4 797.9l3.4 0.9M154.5 799.9l-3.5 0.4M180.6 801.6l-1.8 -3.0M187.8 800.5l3.4 -1.0M195.5 799.8l-3.3 -1.3M200.9 800.0l3.2 -1.5M220.0 800.0l1.5 -3.2M240.9 797.8l-2.5 2.5M243.6 798.4l-1.1 3.3M246.9 799.3l3.4 0.8M253.6 797.1l2.2 2.7M261.2 800.6l0.6 -3.4M263.7 798.1l2.6 2.3M274.1 799.1l3.0 -1.9M283.8 799.8l-2.7 -2.3M299.3 798.8l-3.2 1.4M324.4 798.6l-3.5 0.5M98.7 800.8l-1.4 3.2M116.1 801.0l-3.1 1.6M137.2 800.0l1.5 3.2M143.0 803.7l3.2 -1.3M160.0 800.6l1.5 3.2M172.5 802.4l-2.7 -2.2M183.2 800.5l-1.7 3.0M200.4 799.7l0.8 3.4M208.6 802.8l-2.3 -2.6M214.4 803.2l-1.9 -3.0M220.5 801.4l-3.3 1.3M228.2 803.1l3.4 0.6M235.1 802.8l-3.5 0.0M240.4 802.5l-3.5 0.4M245.2 800.1l-2.7 2.3M251.7 803.3l-3.4 -0.9M252.8 802.9l-1.4 -3.2M270.5 799.9l-1.6 3.1M274.8 803.7l-2.9 -2.0M287.9 803.0l-2.8 -2.1M290.9 799.9l-1.6 3.1M294.2 802.4l2.9 2.0M298.8 803.6l1.6 -3.1M302.8 801.7l0.4 3.5M312.2 801.3l0.5 3.5M319.5 801.9l3.5 0.1M330.2 802.6l1.7 -3.1M333.4 801.7l3.4 -0.7M125.2 803.6l-0.8 3.4M144.9 807.2l-0.5 -3.5M146.0 805.0l0.7 3.4M152.0 803.9l1.8 3.0M160.4 807.0l1.7 -3.1M185.9 807.6l2.8 -2.1M187.2 804.2l3.3 1.2M198.9 806.5l-0.2 -3.5M205.6 804.7l-2.8 2.2M228.1 806.2l-1.9 -2.9M243.2 805.1l3.3 -1.2M246.8 806.7l3.2 -1.5M256.9 804.8l3.2 1.5M271.7 807.3l-0.7 -3.4M277.6 804.7l-3.4 0.6M278.3 806.1l3.1 -1.6M295.7 807.2l-2.2 -2.7M300.9 807.3l-2.3 -2.6M303.0 805.4l-3.4 0.8M310.2 804.5l1.9 2.9M319.4 806.9l0.5 -3.5M326.9 805.7l-3.4 -0.8M330.6 806.6l-3.4 -1.0M332.0 804.2l0.1 3.5M105.1 807.2l-2.0 2.9M112.4 806.5l-1.5 3.2M114.3 810.9l-1.6 -3.1M122.4 808.7l-3.3 -1.2M124.0 807.7l1.7 3.1M146.4 808.6l-3.0 -1.8M166.3 808.1l-1.2 3.3M175.2 810.9l-1.5 -3.2M198.3 806.7l-2.0 2.9M204.7 810.0l-0.8 -3.4M236.8 806.9l-1.3 3.2M250.1 807.5l-2.9 1.9M260.7 809.9l3.5 -0.5M286.1 808.0l-1.6 3.1M292.3 806.6l-2.4 2.6M293.9 807.5l3.0 1.8M296.7 809.2l3.2 1.4M312.1 807.5l-1.8 3.0M314.6 807.7l3.3 1.1M316.8 810.8l2.1 -2.8M327.4 807.6l3.3 1.0M331.8 806.1l-1.3 3.3M334.3 808.0l2.9 1.9M112.8 811.4l-3.3 1.1M119.0 810.2l-1.2 3.3M125.7 811.7l-3.4 0.6M147.4 814.3l0.3 -3.5M165.6 814.6l-2.3 -2.7M183.6 812.0l-2.2 2.7M211.6 811.2l2.2 2.7M236.5 810.5l-3.2 1.3M240.6 812.5l-3.4 -0.6M246.1 812.9l-0.1 -3.5M253.6 815.0l-0.4 -3.5M257.5 811.5l2.7 2.3M268.1 814.7l0.9 -3.4M286.6 812.9l-3.4 0.8M336.9 811.2l-2.2 2.7M337.7 809.8l-1.1 3.3M94.4 816.8l1.2 -3.3M106.0 817.0l-3.2 -1.5M109.2 814.1l1.1 3.3M131.7 813.5l-0.9 3.4M138.5 816.1l2.8 -2.0M193.8 813.6l1.0 3.3M200.1 814.2l-1.8 3.0M205.8 815.9l-3.5 0.3M212.1 815.6l-3.4 -0.7M219.9 813.8l0.6 3.4M229.0 814.2l2.5 2.5M232.6 813.9l0.7 3.4M233.5 814.2l3.0 1.7M245.9 816.6l0.8 -3.4M263.0 816.9l-1.3 -3.2M275.9 813.3l0.2 3.5M303.6 816.7l-2.2 -2.8M303.2 815.6l3.1 -1.7M314.5 816.6l3.5 -0.4M324.5 815.8l-3.1 1.5M327.5 815.0l3.4 0.8M344.4 815.5l-3.5 0.6M96.5 820.4l-3.4 -0.8M99.3 818.4l1.6 3.1M102.2 819.3l3.0 -1.8M114.7 819.3l3.2 1.5M134.4 820.8l1.0 -3.4M141.1 819.4l-3.5 0.4M151.6 818.8l-3.5 0.5M157.4 818.2l3.5 0.2M161.8 819.8l1.6 -3.1M182.5 819.1l-3.2 1.4M189.8 816.5l-1.4 3.2M190.9 817.6l3.2 1.3M195.9 817.3l1.5 3.2M202.2 818.3l-3.3 1.2M209.2 818.2l-1.2 3.3M229.3 816.5l-1.6 3.1M239.5 821.4l-1.9 -3.0M241.2 820.8l3.1 -1.6M250.2 819.8l-0.5 -3.5M256.9 818.7l-3.5 0.4M261.4 819.8l1.2 -3.3M266.6 818.7l-3.5 -0.3M284.6 816.9l2.8 2.1M303.3 819.3l-3.2 -1.4M304.5 817.6l2.7 2.2M316.8 819.1l-3.1 1.6M327.0 817.9l-3.5 0.5M334.5 817.0l-0.9 3.4M341.3 821.2l2.4 -2.6M112.5 821.6l-3.5 0.1M124.2 824.9l-0.3 -3.5M129.1 822.6l-3.3 1.2M135.2 821.1l-2.5 2.4M143.0 820.9l1.8 3.0M147.5 823.9l1.3 -3.3M154.7 823.9l-3.0 -1.9M160.9 822.4l3.2 1.4M175.2 820.3l-1.3 3.3M187.1 819.4l0.9 3.4M191.6 820.1l-2.8 2.1M197.4 823.0l-3.0 -1.8M205.7 822.9l-3.1 -1.6M205.8 824.2l2.7 -2.3M218.1 823.5l-2.4 -2.5M227.1 820.3l-3.2 1.5M237.4 823.0l3.4 -0.6M244.5 820.5l-1.9 2.9M248.2 822.4l-2.7 -2.2M267.4 823.9l-3.1 -1.6M285.9 824.6l0.9 -3.4M295.3 822.7l-1.3 -3.3M297.5 821.8l2.7 2.3M307.9 821.4l-3.4 -0.7M340.0 823.1l-3.3 -1.2M343.0 820.8l-3.5 0.4M108.0 826.9l-3.1 -1.6M116.0 826.3l-3.4 -0.7M116.7 824.1l0.4 3.5M119.0 825.6l3.2 -1.5M164.6 826.8l-0.9 -3.4M172.6 824.2l1.8 3.0M176.0 827.4l-1.0 -3.4M190.7 826.0l-3.4 -0.9M201.3 825.5l-3.0 1.9M228.0 825.0l-3.5 -0.5M232.1 825.9l2.9 -2.0M235.0 823.5l1.7 3.1M240.5 824.6l-1.0 3.4M245.9 824.1l-0.6 3.4M261.5 826.6l3.2 -1.3M272.0 827.9l0.6 -3.5M278.5 824.6l-1.0 3.3M285.2 827.9l0.0 -3.5M315.0 827.4l2.8 -2.0M330.3 825.8l-1.7 -3.1M341.4 826.8l-0.6 -3.5M102.1 828.4l-3.0 -1.7M108.1 827.0l-3.2 1.3M125.3 828.6l-3.2 -1.3M127.0 830.2l2.5 -2.4M136.8 831.1l1.6 -3.1M143.1 830.1l2.7 -2.2M147.4 827.1l-1.7 3.1M166.2 831.3l-0.9 -3.4M187.4 827.4l-2.0 2.9M191.9 830.1l-3.5 -0.4M191.0 830.4l3.3 -1.2M201.1 831.1l-0.2 -3.5M206.0 830.2l1.9 -2.9M218.0 829.3l3.3 1.1M234.8 827.6l2.2 2.7M241.9 828.4l-3.3 1.3M244.6 830.2l-3.0 -1.8M246.6 831.1l-0.4 -3.5M249.7 829.9l-2.7 -2.2M261.3 830.5l2.8 -2.1M265.9 831.1l2.0 -2.9M298.2 831.1l1.8 -3.0M312.4 831.2l1.5 -3.2M319.8 826.8l-1.1 3.3M323.7 828.3l-3.4 -0.9M325.3 830.2l-2.2 -2.7M329.7 829.8l2.9 -1.9M335.8 829.0l-3.3 1.0M337.5 828.6l3.0 1.7M99.9 831.3l3.5 0.3M105.8 831.3l-1.7 3.1M112.3 833.1l-3.1 -1.7M114.3 831.5l-1.1 3.3M144.6 831.8l3.4 -0.8M159.0 833.0l3.1 -1.6M166.7 834.4l1.3 -3.2M170.7 834.9l0.9 -3.4M175.1 834.7l1.0 -3.4M179.0 831.4l1.0 3.4M190.9 833.0l-3.5 0.1M199.0 832.2l2.5 -2.5M214.4 831.5l-3.5 -0.5M227.1 829.8l-2.7 2.2M231.1 831.7l-3.5 -0.5M234.3 831.2l3.0 1.7M240.6 834.3l-0.5 -3.5M251.4 833.5l-2.3 -2.7M251.2 829.6l0.9 3.4M264.5 831.4l-3.5 -0.1M277.8 834.4l0.0 -3.5M285.8 833.3l2.0 -2.8M287.3 831.9l2.6 2.3M299.8 831.4l3.0 1.7M309.0 829.1l0.1 3.5M313.3 831.3l3.5 -0.3M96.3 835.3l-3.5 0.2M99.4 836.2l-3.4 -0.8M104.0 834.1l-0.5 3.5M115.6 835.8l3.0 -1.8M127.6 836.4l-3.1 -1.6M145.2 836.6l2.7 -2.3M162.7 835.7l3.5 0.5M177.1 836.4l1.0 -3.4M191.3 837.3l-1.9 -2.9M192.7 837.4l2.3 -2.6M199.0 835.8l1.9 -2.9M207.2 836.7l-3.1 -1.5M209.7 836.0l2.0 -2.9M211.9 837.9l1.8 -3.0M220.9 835.0l-3.3 1.2M223.5 837.0l-3.1 -1.6M226.5 834.5l-2.4 2.5M272.1 833.8l2.1 2.8M274.6 836.0l2.3 -2.7M280.2 836.9l3.1 -1.6M287.4 835.3l-3.0 -1.8M289.3 832.5l0.6 3.4M294.2 837.2l0.9 -3.4M306.9 833.6l3.0 1.9M314.3 835.8l1.7 -3.1M322.5 833.5l-1.4 3.2M333.6 835.0l-3.5 -0.1M95.3 841.1l0.0 -3.5M101.7 839.3l0.1 -3.5M105.5 837.6l-3.4 0.8M114.7 841.2l-0.0 -3.5M136.2 840.2l0.4 -3.5M154.5 840.9l-1.7 -3.1M158.9 835.9l1.2 3.3M177.4 839.0l-1.6 -3.1M184.8 838.0l3.5 0.4M189.6 840.7l-0.1 -3.5M194.8 837.7l2.5 2.4M206.0 837.0l0.2 3.5M221.5 840.6l-3.0 -1.8M222.2 838.1l3.5 0.2M231.7 839.8l3.4 -0.9M238.0 839.3l-3.4 -0.7M255.8 839.3l2.1 -2.8M257.0 839.8l3.5 -0.3M267.1 837.2l-1.2 3.3M269.4 839.9l-2.1 -2.8M274.0 836.8l-1.4 3.2M290.3 836.6l2.5 2.4M296.4 839.4l-0.6 -3.5M296.9 838.8l3.4 0.9M300.6 837.2l3.3 1.3M306.6 839.1l-3.4 -0.7M317.5 840.2l1.6 -3.1M328.6 839.6l1.0 -3.3M339.8 839.3l2.2 -2.8M95.5 844.5l-0.7 -3.4M99.7 841.6l3.4 0.9M120.6 839.3l-1.6 3.1M142.3 843.6l2.5 -2.4M148.6 840.9l-1.1 3.3M150.0 843.9l-0.8 -3.4M152.0 840.4l0.9 3.4M158.5 842.1l3.2 1.5M165.1 839.5l-1.9 2.9M166.8 842.6l-1.1 -3.3M183.1 844.1l0.8 -3.4M190.6 842.4l-3.5 0.1M195.2 840.0l-2.5 2.4M198.2 840.0l-2.9 2.0M198.3 841.6l3.0 -1.8M210.8 839.9l3.1 1.7M217.9 844.2l-1.3 -3.3M234.4 842.9l-3.5 -0.2M247.9 843.3l-2.8 -2.0M257.3 842.6l-3.2 -1.5M259.1 839.9l0.9 3.4M262.0 839.1l0.2 3.5M276.4 842.9l-2.6 -2.4M282.8 842.5l-1.0 -3.4M292.4 842.3l-2.4 -2.5M300.9 842.3l-3.4 -1.0M304.2 842.1l3.5 -0.5M322.3 842.3l3.5 -0.5M340.0 843.1l1.9 -2.9M96.8 844.3l-3.2 1.5M101.0 844.1l-2.3 2.6M114.5 845.9l3.4 -1.0M121.4 844.1l-3.3 1.1M131.1 844.3l0.1 3.5M140.3 846.9l-2.0 -2.8M146.7 847.6l2.2 -2.7M177.1 847.2l1.5 -3.2M183.1 842.3l0.2 3.5M189.3 844.3l-3.5 0.3M195.9 842.8l1.4 3.2M203.0 844.5l-2.0 2.9M209.5 847.1l2.5 -2.4M218.1 843.3l2.8 2.1M226.7 843.8l-0.9 3.4M231.9 844.1l-2.7 2.2M234.4 847.9l-1.5 -3.2M235.4 844.3l3.4 0.9M241.2 843.9l2.3 2.6M247.9 845.1l-3.5 -0.2M278.6 844.5l0.2 3.5M284.9 845.4l-3.5 0.3M290.0 845.4l-3.4 0.9M290.9 846.2l2.1 -2.8M303.9 845.3l-3.4 -1.0M317.9 844.9l-3.1 1.7M104.5 850.1l0.3 -3.5M115.5 847.9l-2.5 2.4M115.2 849.1l3.5 0.1M122.9 848.5l3.0 -1.8M157.4 847.8l-1.0 3.4M162.6 847.8l-3.5 -0.5M172.2 847.2l-2.5 2.4M180.9 847.0l-0.1 3.5M182.0 848.8l3.2 1.5M189.8 851.3l-1.0 -3.4M197.7 847.1l-3.0 1.8M197.1 847.7l3.4 0.8M207.3 847.9l2.8 2.1M225.2 847.8l3.5 -0.0M254.9 848.2l-3.4 0.8M257.0 847.9l3.3 -1.1M263.2 849.6l-2.3 -2.6M268.8 847.5l1.0 3.4M278.1 847.8l-3.4 -0.8M282.5 850.8l1.5 -3.2M283.3 849.2l3.1 -1.7M289.3 847.3l-3.0 1.9M322.2 846.8l-0.3 3.5M325.6 848.7l3.5 -0.5M332.5 849.8l3.4 -0.8M92.4 852.6l3.4 0.8M100.6 853.9l-1.7 -3.1M104.7 852.4l-3.3 -1.0M126.1 851.4l2.3 2.6M141.0 853.1l3.5 -0.4M148.8 852.3l3.5 0.2M152.9 850.7l2.2 2.7M157.4 850.8l-3.1 1.7M162.4 850.4l-3.1 1.6M174.0 853.3l3.2 -1.4M199.2 850.7l-3.5 -0.2M199.3 851.4l2.8 2.1M204.3 853.6l-2.3 -2.6M211.3 853.0l-1.6 -3.1M217.4 851.1l-3.4 1.0M220.6 852.2l-3.4 -0.6M234.7 852.0l-3.1 -1.7M244.9 852.9l-2.9 -1.9M265.6 854.1l1.0 -3.4M271.6 852.9l3.1 -1.6M284.2 852.6l-3.1 -1.6M296.3 851.7l-3.1 -1.6M296.0 850.7l3.4 1.0M302.7 852.2l-3.5 0.1M308.8 850.4l-0.2 3.5M312.1 854.3l0.1 -3.5M319.9 853.7l3.0 -1.7M340.8 853.9l2.2 -2.7M94.3 855.6l-2.4 -2.5M97.0 857.5l-1.2 -3.3M103.4 856.1l3.5 0.1M113.6 853.4l1.6 3.1M121.9 854.2l-3.5 -0.1M133.9 857.5l0.3 -3.5M141.3 853.2l-0.6 3.4M163.8 855.1l-2.6 -2.3M168.3 854.3l-3.4 1.0M170.5 854.3l-0.4 3.5M176.6 854.4l-1.5 3.2M178.0 856.4l3.4 -0.9M191.5 853.1l2.7 2.3M209.2 857.2l-0.9 -3.4M212.3 856.1l1.7 -3.1M222.3 857.1l0.4 -3.5M230.6 856.1l-3.4 -0.8M237.6 856.9l2.7 -2.2M244.5 854.6l2.3 2.6M249.9 855.6l-3.5 0.2M257.4 855.7l-3.4 1.0M261.1 855.5l2.7 -2.3M268.1 853.7l3.5 0.5M273.2 855.9l3.4 -0.7M277.8 855.9l1.2 -3.3M284.6 855.2l3.4 -0.9M306.3 856.0l3.5 -0.3M310.5 857.0l0.8 -3.4M321.2 857.3l0.2 -3.5M323.3 856.6l1.9 -3.0M327.9 856.3l1.5 -3.2M93.7 860.7l0.6 -3.5M98.0 860.2l0.3 -3.5M101.4 859.0l3.4 0.8M107.0 856.2l-1.2 3.3M120.7 856.6l0.9 3.4M128.1 858.5l-3.5 -0.1M143.2 858.7l-3.5 -0.5M170.9 857.7l3.2 1.4M179.0 858.7l-3.5 0.1M187.3 860.1l-3.3 -1.0M195.3 856.7l-3.3 1.2M195.7 859.0l-0.1 -3.5M197.8 858.2l3.4 -0.8M203.8 857.2l0.6 3.4M215.1 855.8l0.4 3.5M226.9 858.3l-2.9 2.0M229.8 860.6l0.2 -3.5M244.3 858.0l-3.3 1.1M245.7 860.2l1.7 -3.1M250.1 856.2l2.9 2.0M260.2 858.9l-0.7 -3.4M264.1 858.3l-2.8 -2.1M272.6 859.7l-2.5 -2.4M277.3 857.5l2.7 2.3M281.7 858.6l3.3 -1.0M284.4 856.5l1.2 3.3M300.2 860.1l1.6 -3.1M304.1 858.6l2.4 -2.5M306.4 858.7l3.4 -0.7M315.0 857.0l1.4 3.2M336.4 856.2l2.4 2.5" stroke="#84523a" stroke-width="2.0" stroke-linecap="round" fill="none"/>
<path d="M127 679l2 3M104 679l-2 -3M137 828l3 -2M246 792l-2 3M209 616l0 -3M111 628l-1 -3M265 820l-0 3M234 654l-2 3M288 821l-2 -3M109 733l-3 -2M119 770l2 3M280 748l-3 1M240 795l-3 1M279 856l2 -3M237 665l2 3M114 736l-1 3M130 686l-0 3M315 773l1 3M198 641l2 -3M107 662l-3 2M201 783l1 3M212 651l-3 2M266 656l3 -1M132 623l-3 -2M287 673l3 -2M197 648l-3 -2M143 850l-3 -2M97 729l-3 -2M102 638l0 3M177 810l3 -1M101 728l-3 -2M117 799l3 1M206 654l3 2M228 708l3 1M221 832l-2 -3M217 660l3 1M298 692l3 -2M286 797l1 -3M342 642l2 3M294 851l-3 1M96 678l0 3M108 855l2 -3M282 686l1 -3M318 660l2 3M255 618l-2 3M148 759l0 -3M130 794l3 -1M275 758l-1 3M298 810l-3 1M139 766l1 3M140 772l-2 3M118 841l-3 1M114 729l1 -3M273 620l3 -1M128 847l2 -3M183 747l3 2M104 640l-3 -2M122 849l-3 -1M323 637l1 -3M228 714l0 -3M165 763l-3 -1M197 732l-3 2M312 855l-2 -3M126 728l3 -0M319 737l-0 3M207 620l-0 -3M203 776l3 -1M336 641l3 1M167 822l2 3M203 625l-3 2M277 802l3 -1M285 846l1 3M245 794l2 3M143 695l0 3M228 740l-0 3M328 624l2 3M150 852l-3 2M162 661l-1 -3M97 631l2 3M279 735l3 -1M131 618l3 -2M95 666l1 3M110 619l-3 -0M156 686l-1 -3M194 673l3 2M96 741l-3 -2M287 860l3 2M124 810l3 1M331 823l-3 2M281 769l1 -3M129 736l3 -1M278 757l-3 -1M286 793l-0 -3M247 710l-3 -1M276 688l3 -0M330 846l2 -3M230 732l-0 3M155 627l3 -2M296 853l-3 -0M264 676l3 2M118 820l3 -1M115 638l3 -2M173 777l-3 -1M186 678l-3 -0M282 851l-1 3M335 661l-0 3M304 617l-2 3M175 673l-3 2M102 693l3 -1M245 676l-3 -2M269 826l-3 1M131 628l3 1M129 831l-1 -3M295 788l-3 -1M117 739l3 -2M256 741l-3 -2M284 852l2 3M315 649l-3 -1M218 632l-0 3M175 648l0 3M320 771l1 3M172 848l1 3M341 619l-1 3M134 638l0 -3M330 750l-2 3M230 783l3 -1M250 808l3 -1M180 619l-2 -3M315 643l3 1M210 657l3 1M200 620l3 2M233 743l-3 1M102 792l-0 -3M138 856l2 3M276 842l-3 2M181 645l-2 -3M160 745l-2 2M218 720l0 -3M150 815l3 -2M321 800l-1 3M274 853l-1 3M138 650l-3 1M339 824l-1 3M299 621l-3 -2M177 616l-3 0M279 768l1 3M276 735l2 3M153 752l-3 2M216 715l2 3M327 800l-0 -3M126 727l3 -1M192 857l-3 -0M304 787l-3 2M181 786l-3 2M132 646l3 -0M331 767l-3 1M341 824l-3 1M306 681l-2 -2M212 818l-2 -3M238 771l-2 3M104 854l3 2M221 737l-3 0M169 650l0 3M308 814l-1 3M171 717l-0 -3M188 652l3 2M116 809l-3 1M157 796l-2 3M183 756l2 3M335 777l-1 3M165 815l0 -3M120 789l-3 0M143 750l-3 -1M209 615l-2 -3M152 670l-2 -3M290 737l2 -3M294 792l-3 -1M163 811l-3 -1M340 714l2 -3M99 822l1 -3M340 659l2 3M312 691l-2 -3M164 811l1 3M308 644l-3 2M171 797l-3 -1M96 847l-3 0M119 794l2 -3M190 857l1 3M110 786l3 2M205 818l-3 -2M320 627l3 2M163 845l1 3M322 731l3 2M121 784l-0 -3M240 729l-2 -3M197 806l3 2M251 710l3 -2M283 845l-1 -3M247 799l3 1M220 639l-2 -3M304 771l2 -3M176 704l3 0M124 665l-3 1M150 745l-1 -3M100 841l-3 -1M262 820l-3 -0M95 648l-3 1M283 790l-3 1M329 640l3 1M265 642l-3 -2M336 652l3 -2M262 830l-3 -2M339 676l-3 0M124 663l-2 3M151 724l-3 2M308 835l3 0M292 749l-2 -3M272 704l-2 3M309 737l3 0M256 779l-1 3M292 648l2 -2M333 654l2 -3M191 624l3 -0M244 802l-3 -1M304 678l-2 -3M99 811l-1 -3M183 722l-1 -3M155 823l3 -2M185 798l3 -2M130 694l-0 -3M302 834l2 -3M191 616l3 -2M148 704l3 -0M331 774l0 -3M315 653l2 -3M268 785l-3 -2M309 756l-1 3M306 738l1 3M97 839l-0 -3M243 813l1 -3M173 671l2 3M186 632l-3 1M185 813l-3 -1M191 686l-1 -3M155 778l3 -1M308 672l-3 -1M118 694l1 -3M312 682l-3 0M159 858l-3 0M298 758l-3 2M332 693l0 3M178 797l3 -2M122 749l3 2M206 735l1 -3M128 760l0 -3M218 639l-2 3M133 824l-2 -3M283 814l-3 1M151 709l2 3M289 721l-0 -3M340 804l-3 2M209 649l-2 3M204 621l1 3M299 728l-2 3M294 800l-3 0M341 799l-3 0M273 668l-3 0M170 671l3 0M140 723l2 -3M303 738l-2 3M208 659l3 1M234 696l0 -3M192 744l3 -0M316 660l-3 -0M169 626l-3 2M157 617l-2 -3M188 665l-3 0M111 819l1 3M178 793l3 -1M194 717l2 3M244 668l-3 -1M273 820l-3 -2M195 779l3 1M160 840l-3 -1M192 781l2 3M266 806l1 -3M159 700l3 1M224 819l0 -3M212 756l-0 -3M331 695l2 -3M201 678l3 0M142 776l-2 3M206 795l-3 -0M313 737l-2 3M158 722l3 2M269 621l2 -3M225 651l1 3M146 713l2 -3M207 665l3 1M138 846l2 3M120 801l2 -3M300 774l-3 0M245 852l3 2M135 806l2 3M313 706l-1 3M302 714l-3 -1M103 658l3 2M200 757l1 3M306 658l3 1M139 716l3 -1M235 749l3 2M337 680l-2 -3M161 818l3 1M230 828l-3 1M313 801l3 -2M294 634l3 -2M205 806l3 -2M264 846l-1 3M144 660l2 -3M140 840l-3 2M150 642l1 -3M134 683l-3 1M337 839l3 0M150 753l-0 -3M282 694l3 1M313 766l-3 -2M339 694l-1 -3M149 763l2 3M268 858l-3 0M228 636l3 -2M124 710l-2 3M106 854l-3 -1M201 645l-3 1M198 712l-2 3M137 826l-3 -1M170 854l-3 -2M160 798l-3 -2M100 792l-3 -0M230 688l3 0M280 858l0 -3M304 620l3 1M97 790l3 2M332 822l-3 -2M136 804l3 -2M287 846l3 -2M153 622l-0 3M236 623l1 3M317 700l1 3M146 616l2 3M183 625l1 -3M319 812l-2 3M335 642l3 -2M150 697l-2 3M272 835l1 3M195 738l-3 -1M233 785l1 3M142 805l1 3M135 823l-3 2M135 719l3 0M228 700l-0 -3M228 773l3 2M300 808l0 -3M117 830l3 1M288 799l-3 2M319 765l-3 -2M330 643l0 3M217 663l-3 0M171 706l2 3M319 709l-3 -2M309 772l-3 -1M318 698l3 -0M119 647l-3 2M113 671l-3 0M152 713l3 -1M306 682l-1 3M260 739l3 -2M157 640l3 -2M268 833l-3 2M206 803l3 1M236 653l-0 -3M226 680l2 -2M161 661l-1 -3M110 784l2 -3M182 693l-0 3M273 649l-3 -2M121 673l2 -3M223 723l3 -2M209 649l-3 1M336 706l-0 -3M307 652l3 2M229 788l-0 3M292 693l3 -1M290 760l-0 -3M334 689l-3 -1M216 720l-2 -3M300 663l1 3M153 656l-3 -2M233 701l-2 3M247 629l-2 3M272 778l3 -1M163 831l-2 3M219 807l-0 -3M226 818l-3 -1M335 693l-3 1M291 648l1 -3M99 739l-3 2M126 758l2 3M170 668l1 -3M311 795l3 2M239 656l2 3M140 701l0 -3M226 701l1 -3M326 714l0 -3M339 724l-3 -1M141 801l3 -2M254 637l3 -1M291 675l-1 3M166 755l-3 -2M290 763l-2 -3M192 819l-3 1M128 712l-0 3M300 699l2 -3M333 703l1 3M111 820l-2 -3M99 671l3 2M277 635l1 3M186 664l-3 -2M128 688l-3 1M116 760l-3 2M96 626l3 -1M325 650l-3 0M104 713l-3 2M323 798l2 -3M108 854l2 -3M191 668l-3 -1M327 617l-3 -2M151 657l-0 3M117 817l-2 -3M307 780l1 3M309 663l-3 2M98 844l-3 -2M165 637l-3 1M128 664l3 2M181 835l-1 3M321 663l2 3M211 834l-3 -1M212 718l3 -2M102 825l1 3M157 686l-2 -2M106 683l-3 2M112 695l-2 3M221 723l3 -0M301 736l-3 -2M141 688l1 3M313 685l1 3M171 804l3 2M217 668l-2 3M288 810l-3 -0M191 677l-3 -1M341 655l2 -2M286 705l1 3M303 648l-3 -1M105 783l2 3M222 795l-0 3M256 855l3 0M178 737l-2 3M314 733l3 -1M138 710l-1 3M174 759l3 0M292 757l1 3M227 679l-3 2M170 822l-2 -3M277 687l-3 1M331 743l-1 3M208 712l-2 2M229 725l-2 -3M306 830l-0 3M197 729l-2 -3M190 672l-3 -1M295 851l3 1M258 831l3 2M187 742l-3 -2M103 629l-3 1M323 655l2 -3M97 741l-2 3M267 774l2 -3M190 686l0 3M196 831l3 1M317 670l0 3M161 719l-3 -0M147 712l-2 -3M259 620l-3 2M268 832l3 2M325 659l1 3M196 825l3 -2M253 805l-3 -2M285 725l-2 -3M201 668l0 -3M262 813l3 1M211 665l-3 2M170 814l-1 -3M266 828l-3 -0M214 713l-0 -3M172 859l-2 3M100 779l-1 3M129 818l-1 -3M109 774l-3 -1M284 802l-3 -1M194 792l3 1M191 660l3 1M112 802l-3 -2M333 835l3 0M142 813l-3 -2M284 739l-3 -2M261 754l-3 -1M134 644l2 3M268 852l0 -3M286 672l3 2M277 841l-3 -1M298 690l-0 3M195 686l3 1M272 760l-1 -3M259 853l3 2M285 850l-1 3M339 762l3 0M164 805l-3 -2M198 621l-3 2M139 766l1 -3M203 615l-0 3M245 654l3 -0M152 839l-0 -3M163 808l1 -3M267 807l-1 -3M298 633l-1 -3M122 730l2 -3M96 770l3 -1M162 669l3 2M313 744l2 -3M282 841l3 2M255 677l0 -3M322 776l3 -2M256 637l3 0M327 805l3 2M108 762l2 3M251 625l3 -2M145 740l-3 -1M223 835l3 -1M111 654l2 3M135 847l-3 -1M256 804l2 -3M303 695l3 -1M258 619l2 3M220 757l-2 3M234 772l-3 1M163 633l-3 -1M199 760l3 2M243 834l2 -3M137 730l-3 2M98 623l2 3M99 768l-3 1M252 812l3 -0M199 780l3 -2M164 668l1 -3M189 774l-2 -3M177 743l2 -3M214 616l2 3M277 687l-2 -3M257 688l-2 -3M187 715l3 0M117 842l3 -1M208 676l1 3M320 754l-3 2M297 787l0 3M188 801l3 0M322 687l-2 2M127 802l-1 -3M105 702l-1 -3M200 738l3 2M226 722l-2 3M328 781l3 -1M311 818l-0 3M312 740l2 3M182 790l-3 1M218 742l-1 3M271 715l3 -0M332 671l3 1M194 728l1 -3M335 715l-3 -2M127 757l-3 -1M214 838l3 -2M319 648l3 1M158 763l-3 2M136 715l-3 -2M97 717l3 2M207 843l-3 -2M138 834l-3 2M338 838l3 -1M257 652l3 -2M244 848l-3 -1M148 799l-0 -3M309 713l-3 -0M270 725l1 3M321 721l-1 3M156 743l3 1M329 813l3 -2M296 638l1 3M225 661l0 -3M115 858l-3 2M102 835l-1 3M107 855l-1 -3M325 651l-3 -2M279 631l1 -3M278 777l2 -3M310 794l-3 -1M148 644l1 3M295 736l2 3M252 748l2 3M241 747l-2 -3M301 709l2 3M289 845l2 3M319 695l3 -1M255 628l1 3M178 671l-3 -1M214 719l-3 -2M293 767l-0 3M319 713l3 -2M235 854l1 -3M323 855l3 1M339 705l-3 -1M312 635l-2 -3M155 844l-3 1M196 639l-3 -1M236 855l2 3M284 839l-2 -3M285 823l3 0M156 845l-3 0M124 655l1 3M112 662l-2 -3M173 714l3 0M217 736l-2 -3M113 858l-2 3M150 636l-3 -2M259 852l2 3M177 767l2 -3M242 632l1 3M214 666l3 1M168 660l-1 3M341 682l-3 1M231 615l-0 3M201 723l3 -1M197 646l1 3M339 841l3 -2M266 730l-2 3M287 764l1 -3M250 854l-1 -3M306 854l3 2M267 850l2 3M228 700l-0 3M189 853l3 1M296 752l-2 3M95 700l-0 -3M275 813l-2 3M301 678l-1 -3M248 779l0 3M259 841l3 1M216 731l3 1M97 675l2 -3M98 691l3 -2M124 682l3 0M283 763l1 -3M230 658l1 -3M100 666l-3 2M285 803l-0 -3M104 741l3 -2M229 713l3 -1M250 785l3 0M205 747l2 3M174 764l-2 3M335 708l-1 -3M270 665l1 3M153 791l2 3M108 661l3 -0M169 823l-3 -0M220 628l0 -3M201 625l-1 -3M244 733l3 -1M242 625l-2 -3M124 786l3 2M302 816l-2 -3M337 827l3 2M144 825l2 3M191 639l-2 3M163 698l3 1M135 713l1 3M124 760l-3 2M168 726l-1 -3M339 651l-1 3M243 730l3 0M213 681l-1 -3M168 793l3 -1M109 745l3 -2M286 840l3 -2M114 799l-1 3M279 817l-3 -2M275 756l-3 2M291 812l3 -0M127 715l0 3M269 756l3 -2M184 854l2 3M190 796l-1 3M127 734l-3 -1M205 668l-3 2M194 696l1 -3M192 625l-3 2M202 617l3 1M275 832l3 2M251 680l3 0M229 644l2 -3M240 760l3 -0M109 796l-2 -3M130 648l-3 -2M178 784l0 -3M208 706l-3 1M242 671l3 2M255 660l-3 2M107 790l-3 1M127 852l-2 3M296 736l-1 3M174 814l3 -0M241 648l-1 3M279 851l-1 3M165 695l-3 -0M125 618l-3 -1M272 761l-2 3M181 666l3 -2M304 802l-3 2M195 827l-3 -2M264 651l-3 0M217 692l-3 2M97 853l-3 2M295 821l-1 3M199 724l-1 3M308 652l-3 2M323 618l1 3M292 630l-3 -0M101 706l1 3M96 723l-2 -3M252 637l-3 0M118 718l-2 3M203 630l2 3M158 633l0 3M175 723l-0 3M270 852l-0 -3M185 638l1 -3M266 857l-3 1M108 792l3 2M326 634l-2 -3M224 756l-3 2M333 844l2 -3M195 667l-2 3M314 750l1 3M174 764l-0 3M260 727l-3 -1M96 783l3 1M140 674l-0 -3M213 731l-0 -3M229 674l3 0M253 753l2 3M244 721l0 3M141 815l-1 -3M244 732l1 -3M127 753l2 -3M166 624l2 -3M323 694l0 -3M296 844l3 -2M208 766l-3 -2M141 655l-3 1M153 844l2 3M273 827l-2 -3M106 673l1 3M237 676l3 -0M111 766l0 3M292 741l-1 3M147 687l-2 -3M244 743l3 -2M97 780l-2 3M174 635l2 -3M265 646l-3 2M321 723l-3 1M265 767l1 3M332 645l3 0M301 808l3 -0M147 652l1 -3M202 768l1 -3M321 735l-3 1M149 845l-3 2M274 786l3 1M193 842l-0 -3M101 812l3 0M233 627l-3 2M103 765l2 3M219 689l-2 -3M115 817l-2 -3M290 688l3 1M317 681l-2 -3M309 731l0 -3M220 720l-3 2M186 842l2 -3M201 654l2 -3M155 714l1 -3M258 702l2 -3M295 714l3 -1M159 716l3 2M236 680l-3 -2M254 666l-3 -0M148 759l0 -3M263 798l2 -3M270 821l-3 -2M114 761l-1 -3M200 759l-3 -2M172 691l2 -3M242 811l1 3M298 805l-3 1M148 647l1 3M241 834l3 2M119 791l-3 -2M326 746l-2 -3M258 838l-2 3M166 843l0 3M99 786l1 3M206 796l3 -0M311 648l1 3M241 745l3 -2M327 688l2 -3M324 654l-3 2M209 738l-3 0M304 805l-3 -1M319 646l-3 1M254 774l3 1M257 853l-1 3M191 627l-1 -3M339 664l-1 -3M237 705l-1 3M280 756l-3 -1M310 681l3 1M263 741l-1 -3M249 754l1 -3M142 781l0 3M95 767l3 -2M133 711l3 2M302 629l3 -2M198 709l2 3M119 694l3 -2M276 783l-3 2M163 737l3 -2M329 694l0 -3M183 736l3 2M334 677l-3 1M96 627l-3 -1M178 808l-3 2M226 647l-1 -3M183 716l-2 3M175 652l3 -2M308 678l0 -3M240 730l-1 3M130 823l1 3M225 838l3 -0M99 805l2 -3M298 827l-0 -3M207 850l-3 2M106 767l1 -3M161 839l-3 -0M196 657l1 -3M177 626l-3 -2M227 622l-3 -2M310 798l1 3M260 617l0 -3M252 817l-3 1M214 822l2 -3M237 734l2 -3M178 652l-0 3M146 710l-0 3M98 693l3 1M145 799l-3 2M266 688l-3 -0M338 755l-3 0M253 669l-0 3M99 697l2 -3M283 626l-2 -3M201 656l-3 -2M161 774l1 -3M105 672l3 2M320 762l0 -3M177 683l2 -3M99 661l-1 3M105 638l-0 -3M259 730l-3 -1M208 764l3 -1M123 690l-3 -0M200 680l3 -2" stroke="#8a5840" stroke-width="1.3" stroke-linecap="round" fill="none"/>
<path d="M93 614h0M110 614h0M138 613h0M147 614h0M154 613h0M189 613h0M195 614h0M209 614h0M214 615h0M223 613h0M228 614h0M242 615h0M249 615h0M252 614h0M262 614h0M282 615h0M289 614h0M302 614h0M318 614h0M330 615h0M332 613h0M339 613h0M342 615h0M108 618h0M151 617h0M153 617h0M160 616h0M176 617h0M226 619h0M231 617h0M242 618h0M270 618h0M275 617h0M279 618h0M282 617h0M287 618h0M292 618h0M303 616h0M306 617h0M326 618h0M336 618h0M110 620h0M115 621h0M128 621h0M130 620h0M133 620h0M140 621h0M149 621h0M165 620h0M167 621h0M184 620h0M202 622h0M226 621h0M260 620h0M266 621h0M270 620h0M280 620h0M303 621h0M305 620h0M314 620h0M318 622h0M328 622h0M336 622h0M111 625h0M126 623h0M130 624h0M138 625h0M150 623h0M163 624h0M171 624h0M173 623h0M192 625h0M203 625h0M220 624h0M225 624h0M232 623h0M248 624h0M253 625h0M256 624h0M289 625h0M300 623h0M308 624h0M321 625h0M342 625h0M107 627h0M111 626h0M122 628h0M144 628h0M177 627h0M179 627h0M194 627h0M203 626h0M209 628h0M237 627h0M244 626h0M250 626h0M252 628h0M257 626h0M269 626h0M278 627h0M282 626h0M286 627h0M299 627h0M311 628h0M111 630h0M123 630h0M138 631h0M147 631h0M149 630h0M163 630h0M169 631h0M194 631h0M216 631h0M222 631h0M232 630h0M236 631h0M276 631h0M305 631h0M334 632h0M95 633h0M97 633h0M124 634h0M133 635h0M136 634h0M143 634h0M157 635h0M223 634h0M236 635h0M243 633h0M295 633h0M302 635h0M306 633h0M313 635h0M319 634h0M342 633h0M111 638h0M114 637h0M117 638h0M121 638h0M127 637h0M130 638h0M153 638h0M157 637h0M165 637h0M174 637h0M187 637h0M206 638h0M209 638h0M220 637h0M234 638h0M239 638h0M244 636h0M265 637h0M305 637h0M315 638h0M319 636h0M322 636h0M342 638h0M114 642h0M151 640h0M158 641h0M170 641h0M173 641h0M189 640h0M192 640h0M196 641h0M202 641h0M226 642h0M236 640h0M249 641h0M300 642h0M305 640h0M318 640h0M333 640h0M339 640h0M97 644h0M110 645h0M115 645h0M147 643h0M164 644h0M167 643h0M169 644h0M202 643h0M219 643h0M270 644h0M276 643h0M308 644h0M312 643h0M318 643h0M326 643h0M101 648h0M105 647h0M124 647h0M134 646h0M139 648h0M154 647h0M160 646h0M173 647h0M184 646h0M196 646h0M199 647h0M220 647h0M229 646h0M243 648h0M259 648h0M263 647h0M315 648h0M339 647h0M342 648h0M108 650h0M113 650h0M121 650h0M179 651h0M184 651h0M203 651h0M224 652h0M229 651h0M243 651h0M246 649h0M250 650h0M260 651h0M269 651h0M298 650h0M302 650h0M326 650h0M338 651h0M97 654h0M101 653h0M120 654h0M131 653h0M140 655h0M200 653h0M217 654h0M232 653h0M240 655h0M288 655h0M295 653h0M328 655h0M115 657h0M130 657h0M152 658h0M196 657h0M210 658h0M219 658h0M241 657h0M253 658h0M256 657h0M258 657h0M265 657h0M269 657h0M279 656h0M332 656h0M113 660h0M120 660h0M137 659h0M166 661h0M201 661h0M207 660h0M217 660h0M223 660h0M225 660h0M233 659h0M236 660h0M291 661h0M295 661h0M298 661h0M302 661h0M324 661h0M93 663h0M111 665h0M125 663h0M146 663h0M161 663h0M171 663h0M173 665h0M179 665h0M192 664h0M196 663h0M199 663h0M203 663h0M206 664h0M216 664h0M247 665h0M250 664h0M256 663h0M264 663h0M266 663h0M272 665h0M291 664h0M303 663h0M309 664h0M100 666h0M105 668h0M111 667h0M115 668h0M141 667h0M150 666h0M161 668h0M168 667h0M171 667h0M192 666h0M199 667h0M207 668h0M216 666h0M222 667h0M227 667h0M250 666h0M259 666h0M272 666h0M286 666h0M292 666h0M302 667h0M305 667h0M308 666h0M326 668h0M338 667h0M104 670h0M110 670h0M113 671h0M120 670h0M123 670h0M148 670h0M157 670h0M163 670h0M173 670h0M182 670h0M213 670h0M225 671h0M229 670h0M239 669h0M242 671h0M283 670h0M322 671h0M328 671h0M335 670h0M98 674h0M134 672h0M163 674h0M179 674h0M183 675h0M200 674h0M207 672h0M212 674h0M229 673h0M244 674h0M247 674h0M259 673h0M264 673h0M272 674h0M289 674h0M298 673h0M95 677h0M101 677h0M104 677h0M108 677h0M131 677h0M154 676h0M156 676h0M170 676h0M201 677h0M205 678h0M209 677h0M229 676h0M268 676h0M289 677h0M292 677h0M306 677h0M309 676h0M325 677h0M338 677h0M97 680h0M118 680h0M120 681h0M127 681h0M144 681h0M182 681h0M189 680h0M199 680h0M205 680h0M217 679h0M220 680h0M229 680h0M232 680h0M239 679h0M266 679h0M305 680h0M311 681h0M316 681h0M332 680h0M108 683h0M117 685h0M130 683h0M137 684h0M143 683h0M160 683h0M171 684h0M174 684h0M177 684h0M187 682h0M195 684h0M210 683h0M214 683h0M216 684h0M252 683h0M262 682h0M265 684h0M269 684h0M290 683h0M292 685h0M302 683h0M309 684h0M321 684h0M329 684h0M331 684h0M94 687h0M96 686h0M104 686h0M110 686h0M121 688h0M124 687h0M128 688h0M133 687h0M147 687h0M156 687h0M170 686h0M197 686h0M199 688h0M213 686h0M225 687h0M232 687h0M237 687h0M239 688h0M252 687h0M268 687h0M285 687h0M289 688h0M296 687h0M305 687h0M309 688h0M343 686h0M137 691h0M140 689h0M144 690h0M151 689h0M153 690h0M169 691h0M187 691h0M191 691h0M206 689h0M211 690h0M219 690h0M227 691h0M240 689h0M263 691h0M270 690h0M289 691h0M295 690h0M323 690h0M326 691h0M338 691h0M341 690h0M98 694h0M123 694h0M143 692h0M160 692h0M163 693h0M187 694h0M201 692h0M204 693h0M219 692h0M226 694h0M233 692h0M235 693h0M243 694h0M249 694h0M251 693h0M257 694h0M268 694h0M278 694h0M285 694h0M295 694h0M318 693h0M331 693h0M339 693h0M98 696h0M107 697h0M115 696h0M117 697h0M123 697h0M130 697h0M148 696h0M153 698h0M158 697h0M170 696h0M172 697h0M184 696h0M196 697h0M204 698h0M220 697h0M222 698h0M225 696h0M230 696h0M243 698h0M246 696h0M254 697h0M275 696h0M288 696h0M306 697h0M314 696h0M319 696h0M325 697h0M99 701h0M105 699h0M106 699h0M112 701h0M121 701h0M134 699h0M164 699h0M174 700h0M181 699h0M199 701h0M214 699h0M215 701h0M227 700h0M248 699h0M275 699h0M283 699h0M312 701h0M315 699h0M334 701h0M114 702h0M151 703h0M163 704h0M167 703h0M201 703h0M208 703h0M217 703h0M219 703h0M224 704h0M249 703h0M252 704h0M272 703h0M286 704h0M299 702h0M316 704h0M93 706h0M101 706h0M118 707h0M163 707h0M174 706h0M216 706h0M227 706h0M242 706h0M251 706h0M273 706h0M282 706h0M287 708h0M96 711h0M108 711h0M116 711h0M127 709h0M130 709h0M150 711h0M161 710h0M163 711h0M169 710h0M173 710h0M179 710h0M189 709h0M196 710h0M199 709h0M233 711h0M241 710h0M256 710h0M262 709h0M272 710h0M280 711h0M285 710h0M289 710h0M302 710h0M331 710h0M337 710h0M104 712h0M118 714h0M128 714h0M135 714h0M141 712h0M143 712h0M163 714h0M167 713h0M188 712h0M190 714h0M193 713h0M210 714h0M230 712h0M257 714h0M259 713h0M282 713h0M286 713h0M293 713h0M312 712h0M314 712h0M323 712h0M324 714h0M331 713h0M339 714h0M342 713h0M97 717h0M108 717h0M120 717h0M123 717h0M147 717h0M177 717h0M183 716h0M199 718h0M206 717h0M209 716h0M220 716h0M225 717h0M229 716h0M245 718h0M283 716h0M292 717h0M309 717h0M312 717h0M323 716h0M328 717h0M333 717h0M340 716h0M103 720h0M113 720h0M134 719h0M146 720h0M150 720h0M157 719h0M163 721h0M177 719h0M181 720h0M200 719h0M204 721h0M206 719h0M216 720h0M291 720h0M312 720h0M315 719h0M324 719h0M94 723h0M104 722h0M137 723h0M141 722h0M147 724h0M160 723h0M163 724h0M187 724h0M197 722h0M253 724h0M283 722h0M288 723h0M291 724h0M308 724h0M336 724h0M110 726h0M113 726h0M118 725h0M126 727h0M130 725h0M157 727h0M160 727h0M172 726h0M191 727h0M232 727h0M252 727h0M276 727h0M285 727h0M316 726h0M320 726h0M333 727h0M101 729h0M121 729h0M168 729h0M174 730h0M176 731h0M194 731h0M214 729h0M215 730h0M246 729h0M253 731h0M268 729h0M273 731h0M285 731h0M291 730h0M115 734h0M125 733h0M131 734h0M134 733h0M143 732h0M149 733h0M153 734h0M160 733h0M177 734h0M242 734h0M252 732h0M258 732h0M265 733h0M290 732h0M300 733h0M316 732h0M343 734h0M94 737h0M98 737h0M105 737h0M118 737h0M128 736h0M143 736h0M153 737h0M166 735h0M169 737h0M176 737h0M255 735h0M266 736h0M272 735h0M298 736h0M308 737h0M336 736h0M117 739h0M144 739h0M147 739h0M158 740h0M167 740h0M187 740h0M215 741h0M226 739h0M245 740h0M269 740h0M306 739h0M311 739h0M315 740h0M322 740h0M333 741h0M141 744h0M144 743h0M153 742h0M164 742h0M176 743h0M182 742h0M214 742h0M254 744h0M293 743h0M304 743h0M310 743h0M322 743h0M329 742h0M337 744h0M93 745h0M114 745h0M123 747h0M127 747h0M154 745h0M168 747h0M170 746h0M179 746h0M183 747h0M191 747h0M197 746h0M200 747h0M250 747h0M252 747h0M259 745h0M276 745h0M286 746h0M292 747h0M302 745h0M306 745h0M312 747h0M331 747h0M338 747h0M114 749h0M131 750h0M134 749h0M137 750h0M144 749h0M189 749h0M219 750h0M224 751h0M235 749h0M253 749h0M265 750h0M269 751h0M280 750h0M296 750h0M303 749h0M309 749h0M339 749h0M94 753h0M121 752h0M124 753h0M137 752h0M147 752h0M166 752h0M176 753h0M186 753h0M203 753h0M213 753h0M216 754h0M223 753h0M255 752h0M259 754h0M262 754h0M282 753h0M288 754h0M295 752h0M300 753h0M309 752h0M318 752h0M338 753h0M100 755h0M106 755h0M121 755h0M134 756h0M139 756h0M143 756h0M148 756h0M154 756h0M160 757h0M180 756h0M200 757h0M212 757h0M225 756h0M229 755h0M245 755h0M253 756h0M256 756h0M258 755h0M262 755h0M293 756h0M303 757h0M318 756h0M328 757h0M341 757h0M103 759h0M107 760h0M127 758h0M134 759h0M144 759h0M167 758h0M169 759h0M204 760h0M216 759h0M229 759h0M232 760h0M246 761h0M250 759h0M255 758h0M285 758h0M289 759h0M296 760h0M307 760h0M319 759h0M335 760h0M342 759h0M112 763h0M114 763h0M118 762h0M121 762h0M123 762h0M132 763h0M134 764h0M147 764h0M157 762h0M165 762h0M183 763h0M191 762h0M199 762h0M210 763h0M266 763h0M273 763h0M309 763h0M331 762h0M339 763h0M341 762h0M95 767h0M119 767h0M131 766h0M169 767h0M173 767h0M193 767h0M196 765h0M200 766h0M202 765h0M219 765h0M223 767h0M226 767h0M260 765h0M262 767h0M266 766h0M276 766h0M278 766h0M285 766h0M305 765h0M308 766h0M311 766h0M322 765h0M326 765h0M336 766h0M93 770h0M107 770h0M114 769h0M117 769h0M122 770h0M131 770h0M134 769h0M145 770h0M159 769h0M162 770h0M178 770h0M207 769h0M217 768h0M219 769h0M222 770h0M276 768h0M314 770h0M325 769h0M127 773h0M147 772h0M151 773h0M161 774h0M163 772h0M170 772h0M193 774h0M206 773h0M213 773h0M219 773h0M243 772h0M252 772h0M262 772h0M270 772h0M296 772h0M325 772h0M94 775h0M103 776h0M109 775h0M118 775h0M163 776h0M173 775h0M180 777h0M236 776h0M266 775h0M279 776h0M308 777h0M338 776h0M94 779h0M117 779h0M131 779h0M140 778h0M173 780h0M197 780h0M210 779h0M214 779h0M244 778h0M249 779h0M273 779h0M275 778h0M301 779h0M308 779h0M316 780h0M320 780h0M323 780h0M331 779h0M342 780h0M93 783h0M108 783h0M110 783h0M121 783h0M125 782h0M147 782h0M160 783h0M181 782h0M206 782h0M244 783h0M245 783h0M249 782h0M260 783h0M286 783h0M302 782h0M306 783h0M308 783h0M311 782h0M322 783h0M334 783h0M343 781h0M121 786h0M157 785h0M171 786h0M197 786h0M206 787h0M213 787h0M230 786h0M237 786h0M240 786h0M243 787h0M268 787h0M287 785h0M292 786h0M308 786h0M336 786h0M105 789h0M108 790h0M121 789h0M125 789h0M128 790h0M146 790h0M161 789h0M162 789h0M167 790h0M200 789h0M210 790h0M220 788h0M242 790h0M245 789h0M273 790h0M283 790h0M301 789h0M325 789h0M328 789h0M331 790h0M335 788h0M341 790h0M96 793h0M104 793h0M106 792h0M117 792h0M129 793h0M154 793h0M163 793h0M170 793h0M174 792h0M176 793h0M179 792h0M229 792h0M243 792h0M266 791h0M270 793h0M272 793h0M276 793h0M279 794h0M283 792h0M285 792h0M288 794h0M299 792h0M309 792h0M337 792h0M341 792h0M93 796h0M147 795h0M150 797h0M169 797h0M207 795h0M212 796h0M219 797h0M223 795h0M242 797h0M270 796h0M319 795h0M323 796h0M326 797h0M336 795h0M104 800h0M110 799h0M114 800h0M130 798h0M136 798h0M151 799h0M166 799h0M172 798h0M196 798h0M209 799h0M224 800h0M245 800h0M269 800h0M289 799h0M315 799h0M318 798h0M103 803h0M107 803h0M117 801h0M131 802h0M141 803h0M151 802h0M153 802h0M167 803h0M188 803h0M204 803h0M225 801h0M247 802h0M262 803h0M282 802h0M305 802h0M315 803h0M328 803h0M93 806h0M114 806h0M116 806h0M126 806h0M130 807h0M133 804h0M138 806h0M139 806h0M163 806h0M174 805h0M206 806h0M212 806h0M234 805h0M251 807h0M262 805h0M266 806h0M286 806h0M321 805h0M335 805h0M338 806h0M341 805h0M100 808h0M137 808h0M140 810h0M151 809h0M160 809h0M187 808h0M191 808h0M193 808h0M201 808h0M205 810h0M219 808h0M227 809h0M229 809h0M240 810h0M242 809h0M246 809h0M270 810h0M283 810h0M309 810h0M97 812h0M105 811h0M114 812h0M121 813h0M127 813h0M143 813h0M157 813h0M160 811h0M173 812h0M178 813h0M180 811h0M197 812h0M203 813h0M209 813h0M217 812h0M229 813h0M250 812h0M263 813h0M266 813h0M272 813h0M288 811h0M292 813h0M295 811h0M306 811h0M308 813h0M316 812h0M321 811h0M332 811h0M96 816h0M114 816h0M133 816h0M157 815h0M164 817h0M186 816h0M190 814h0M198 815h0M207 816h0M216 815h0M224 817h0M226 815h0M244 817h0M267 816h0M272 817h0M278 817h0M288 816h0M297 814h0M312 814h0M111 818h0M125 819h0M126 818h0M129 818h0M138 820h0M144 818h0M169 819h0M184 818h0M204 818h0M206 820h0M213 818h0M219 819h0M223 819h0M233 820h0M235 818h0M252 818h0M269 820h0M293 820h0M318 819h0M103 822h0M160 822h0M171 821h0M212 823h0M223 821h0M235 823h0M259 823h0M270 822h0M276 821h0M278 823h0M282 822h0M291 822h0M302 822h0M314 822h0M335 821h0M103 825h0M110 826h0M136 825h0M143 825h0M181 826h0M192 826h0M203 826h0M205 825h0M213 825h0M217 826h0M223 825h0M255 825h0M260 825h0M299 826h0M302 825h0M306 825h0M319 826h0M325 826h0M95 828h0M103 828h0M115 828h0M117 828h0M121 829h0M129 829h0M163 828h0M212 828h0M222 828h0M227 829h0M229 829h0M256 828h0M259 829h0M276 830h0M281 829h0M285 830h0M288 828h0M293 828h0M295 829h0M302 829h0M315 828h0M328 829h0M125 833h0M133 833h0M140 832h0M143 831h0M156 832h0M174 831h0M196 833h0M207 833h0M217 832h0M243 833h0M257 831h0M260 832h0M267 833h0M270 833h0M283 832h0M100 834h0M108 836h0M115 836h0M137 835h0M144 834h0M151 836h0M154 834h0M157 836h0M169 836h0M186 835h0M234 836h0M235 835h0M240 836h0M250 834h0M253 834h0M256 835h0M265 835h0M280 834h0M298 836h0M336 836h0M97 838h0M107 840h0M123 838h0M134 839h0M140 840h0M143 837h0M193 839h0M200 839h0M204 839h0M212 839h0M230 840h0M253 839h0M262 838h0M282 839h0M310 840h0M312 839h0M336 839h0M337 838h0M108 842h0M130 842h0M157 842h0M173 842h0M223 841h0M228 842h0M266 843h0M288 842h0M296 842h0M105 846h0M106 846h0M128 844h0M133 844h0M144 845h0M154 844h0M157 846h0M163 844h0M170 845h0M180 846h0M191 846h0M205 846h0M217 846h0M249 844h0M273 845h0M277 844h0M310 846h0M311 846h0M342 846h0M98 849h0M107 849h0M121 850h0M153 847h0M167 850h0M172 847h0M187 849h0M213 849h0M245 848h0M256 847h0M306 849h0M308 849h0M312 848h0M332 849h0M342 847h0M118 852h0M166 853h0M170 851h0M180 851h0M235 852h0M240 853h0M246 852h0M255 852h0M275 851h0M278 853h0M290 852h0M291 852h0M315 851h0M329 851h0M331 852h0M336 853h0M338 851h0M107 854h0M130 855h0M137 854h0M143 854h0M147 855h0M154 855h0M157 854h0M161 855h0M183 856h0M189 856h0M204 856h0M217 856h0M219 854h0M227 856h0M259 854h0M282 856h0M288 855h0M293 856h0M300 856h0M318 854h0M335 855h0M339 855h0M113 858h0M117 860h0M125 858h0M138 860h0M145 858h0M151 858h0M157 858h0M170 858h0M181 857h0M220 859h0M240 859h0M269 859h0M277 859h0M288 858h0M296 859h0M325 859h0M333 857h0M341 857h0" stroke="#e81818" stroke-width="3.5" stroke-linecap="round" opacity="1" fill="none"/>
<path d="M224 654h0M96 743h0M273 820h0M174 772h0M310 785h0M293 683h0M236 654h0M254 669h0M334 720h0M276 703h0M230 790h0M281 656h0M199 733h0M323 667h0M304 723h0M267 709h0M140 759h0M257 772h0M263 706h0M337 744h0M315 802h0M211 737h0M168 651h0M189 704h0M179 692h0M248 760h0M101 718h0M133 648h0M273 669h0M212 725h0M219 757h0M336 831h0M151 781h0M236 624h0M295 801h0M201 816h0M310 789h0M250 725h0M260 750h0M294 855h0M238 787h0M113 808h0M199 692h0M145 743h0M338 829h0M229 768h0M105 726h0M147 741h0M182 631h0M217 630h0M238 705h0M338 801h0M249 656h0M298 667h0M160 740h0M196 743h0M307 849h0M264 713h0M133 760h0M263 659h0M325 807h0M243 769h0M177 637h0M311 749h0M133 754h0M289 743h0M191 775h0M283 740h0M128 812h0M255 734h0M320 710h0M282 851h0M104 644h0M207 648h0M214 651h0M232 710h0M244 672h0M163 788h0M258 822h0M258 763h0M207 627h0M271 626h0M216 728h0M246 825h0M288 826h0M340 662h0M182 724h0M292 723h0M277 802h0M302 776h0M312 640h0M176 769h0M263 802h0M204 836h0M183 772h0M224 766h0M261 795h0M222 789h0M164 626h0M186 739h0M147 852h0M172 691h0M214 628h0M321 640h0M133 671h0M255 694h0M108 713h0M339 643h0M250 711h0M325 745h0M114 625h0M252 829h0M206 724h0M109 830h0M152 853h0M293 768h0M183 740h0M160 853h0M237 687h0M320 856h0M297 719h0M306 848h0M295 632h0M149 648h0M174 669h0M218 777h0M309 702h0M327 705h0M269 655h0M319 778h0M258 672h0M220 850h0M286 666h0M105 753h0M117 752h0M322 777h0M253 858h0M151 658h0M118 824h0M276 632h0M181 795h0M227 757h0M291 621h0M210 666h0M167 709h0M211 677h0M139 645h0M278 755h0M229 774h0M322 734h0" stroke="#ffffff" stroke-width="5.0" stroke-linecap="round" opacity="1" fill="none"/>
<path d="M278 841h0M245 719h0M204 697h0M329 835h0M114 778h0M195 750h0M254 846h0M315 639h0M289 688h0M162 732h0M268 629h0M241 815h0M145 734h0M206 621h0M341 760h0M272 645h0M195 778h0M341 853h0M285 622h0M132 851h0M252 852h0M280 756h0M254 709h0M297 643h0M315 717h0M206 645h0M279 858h0M197 848h0M95 859h0M279 839h0M163 814h0M323 648h0M305 646h0M263 855h0M161 759h0M104 835h0M146 722h0M199 669h0M199 702h0M278 638h0M308 765h0M176 771h0M163 714h0M162 621h0M135 675h0M307 630h0M170 712h0M184 831h0M129 813h0M296 642h0M189 735h0M126 668h0M235 807h0M183 837h0M189 765h0M177 758h0M134 659h0M264 707h0M312 814h0M168 626h0M148 825h0M291 814h0M175 853h0M278 697h0M110 792h0M146 844h0M334 806h0M324 677h0M230 733h0M139 838h0M151 615h0M211 674h0M152 677h0M184 707h0M277 635h0M264 686h0M300 651h0M117 679h0M288 727h0M222 759h0M173 630h0M311 616h0M98 694h0M155 736h0M202 638h0M143 786h0M294 738h0M109 792h0M227 851h0M116 665h0M115 637h0M111 671h0M214 716h0M251 847h0M98 811h0M114 726h0M106 779h0M251 693h0M169 696h0M207 627h0M253 774h0M95 827h0M298 776h0M155 813h0M112 846h0M139 797h0M98 623h0M140 628h0M332 720h0M177 773h0M328 838h0M99 695h0M300 656h0M278 638h0M290 621h0M196 624h0M172 677h0M277 754h0M99 856h0M194 834h0M145 796h0M129 648h0M128 624h0M340 671h0M336 647h0M259 626h0M188 775h0M118 777h0M246 626h0M113 801h0M158 690h0M150 639h0M151 657h0M139 708h0M335 810h0M134 794h0M157 819h0M196 684h0M126 689h0M218 688h0M294 764h0M200 616h0M160 740h0M201 680h0M279 794h0M239 702h0M203 726h0M260 768h0M309 674h0M258 750h0" stroke="#a8b8e8" stroke-width="2.8" stroke-linecap="round" opacity="1" fill="none"/>
</g>
<g filter="url(#eblur2)">
<path d="M249 658h0M211 671h0M195 805h0M177 658h0M189 850h0M186 696h0M304 680h0M284 710h0M134 808h0M310 740h0M248 717h0M169 680h0M288 705h0M156 823h0M267 654h0M312 805h0M329 841h0M192 791h0M260 697h0M233 786h0M268 715h0M283 831h0M237 833h0M280 652h0M145 838h0M281 710h0M323 652h0M120 731h0M133 727h0M254 844h0M330 797h0M230 670h0M162 845h0M165 749h0M218 720h0M260 621h0M289 711h0M228 687h0M211 771h0M247 799h0M282 808h0M114 638h0M307 780h0M218 639h0M316 741h0M143 728h0M102 620h0M294 731h0M188 730h0M136 818h0M96 638h0M227 718h0M214 750h0M271 751h0M129 794h0M237 643h0M337 855h0M193 663h0M285 807h0M204 660h0M254 820h0M280 858h0M251 710h0M268 699h0M195 840h0" stroke="#e8d820" stroke-width="3.6" stroke-linecap="round" opacity="1" fill="none"/>
<circle cx="142" cy="642" r="2.8" fill="url(#gsph)"/>
<circle cx="130" cy="842" r="2.8" fill="url(#gsph)"/>
<circle cx="307" cy="759" r="2.8" fill="url(#gsph)"/>
<circle cx="316" cy="618" r="2.8" fill="url(#gsph)"/>
<circle cx="193" cy="755" r="2.8" fill="url(#gsph)"/>
<circle cx="220" cy="777" r="2.8" fill="url(#gsph)"/>
<circle cx="339" cy="642" r="2.8" fill="url(#gsph)"/>
<circle cx="253" cy="787" r="2.8" fill="url(#gsph)"/>
<circle cx="190" cy="687" r="2.8" fill="url(#gsph)"/>
<circle cx="208" cy="767" r="2.8" fill="url(#gsph)"/>
<circle cx="206" cy="779" r="2.8" fill="url(#gsph)"/>
<circle cx="197" cy="832" r="2.8" fill="url(#gsph)"/>
<circle cx="151" cy="696" r="2.8" fill="url(#gsph)"/>
<circle cx="243" cy="624" r="2.8" fill="url(#gsph)"/>
<circle cx="330" cy="642" r="2.8" fill="url(#gsph)"/>
<circle cx="181" cy="804" r="2.8" fill="url(#gsph)"/>
<circle cx="102" cy="713" r="2.8" fill="url(#gsph)"/>
<circle cx="272" cy="754" r="2.8" fill="url(#gsph)"/>
<circle cx="162" cy="758" r="2.8" fill="url(#gsph)"/>
<circle cx="282" cy="635" r="2.8" fill="url(#gsph)"/>
<circle cx="151" cy="682" r="2.8" fill="url(#gsph)"/>
<circle cx="162" cy="731" r="2.8" fill="url(#gsph)"/>
<circle cx="259" cy="818" r="2.8" fill="url(#gsph)"/>
<circle cx="257" cy="665" r="2.8" fill="url(#gsph)"/>
<circle cx="264" cy="745" r="2.8" fill="url(#gsph)"/>
<circle cx="120" cy="627" r="2.8" fill="url(#gsph)"/>
<circle cx="234" cy="810" r="2.8" fill="url(#gsph)"/>
<circle cx="161" cy="793" r="2.8" fill="url(#gsph)"/>
<circle cx="330" cy="826" r="2.8" fill="url(#gsph)"/>
<circle cx="217" cy="668" r="2.8" fill="url(#gsph)"/>
<circle cx="114" cy="677" r="2.8" fill="url(#gsph)"/>
<circle cx="229" cy="641" r="2.8" fill="url(#gsph)"/>
<circle cx="98" cy="684" r="2.8" fill="url(#gsph)"/>
<circle cx="256" cy="759" r="2.8" fill="url(#gsph)"/>
<circle cx="257" cy="803" r="2.8" fill="url(#gsph)"/>
<circle cx="107" cy="691" r="2.8" fill="url(#gsph)"/>
<circle cx="316" cy="655" r="2.8" fill="url(#gsph)"/>
<circle cx="319" cy="652" r="2.8" fill="url(#gsph)"/>
<circle cx="233" cy="830" r="2.8" fill="url(#gsph)"/>
<circle cx="305" cy="841" r="2.8" fill="url(#gsph)"/>
<circle cx="195" cy="748" r="2.8" fill="url(#gsph)"/>
<circle cx="104" cy="850" r="2.8" fill="url(#gsph)"/>
<circle cx="311" cy="762" r="2.8" fill="url(#gsph)"/>
<circle cx="156" cy="651" r="2.8" fill="url(#gsph)"/>
<circle cx="330" cy="803" r="2.8" fill="url(#gsph)"/>
<circle cx="159" cy="834" r="2.8" fill="url(#gsph)"/>
<circle cx="325" cy="689" r="2.8" fill="url(#gsph)"/>
<circle cx="160" cy="653" r="2.8" fill="url(#gsph)"/>
<circle cx="110" cy="693" r="2.8" fill="url(#gsph)"/>
<circle cx="114" cy="630" r="2.8" fill="url(#gsph)"/>
<circle cx="213" cy="855" r="2.8" fill="url(#gsph)"/>
<circle cx="119" cy="819" r="2.8" fill="url(#gsph)"/>
<circle cx="323" cy="640" r="2.8" fill="url(#gsph)"/>
<circle cx="322" cy="709" r="2.8" fill="url(#gsph)"/>
<circle cx="115" cy="807" r="2.8" fill="url(#gsph)"/>
<circle cx="120" cy="786" r="2.8" fill="url(#gsph)"/>
<circle cx="117" cy="736" r="2.8" fill="url(#gsph)"/>
<circle cx="145" cy="648" r="2.8" fill="url(#gsph)"/>
</g>
<circle cx="47.4" cy="887.4" r="4.3" fill="none" stroke="#f2b4b4" stroke-width="2.6"/>
<circle cx="47.4" cy="887.4" r="2" fill="#f2b4b4" opacity="0.35"/>
<text x="66" y="895" font-size="21.5" text-anchor="start" fill="#000" >H</text>
<circle cx="98.9" cy="887.4" r="4.3" fill="none" stroke="#5cb85c" stroke-width="2.6"/>
<circle cx="98.9" cy="887.4" r="2" fill="#5cb85c" opacity="0.35"/>
<text x="116" y="895" font-size="21.5" text-anchor="start" fill="#000" >Li</text>
<circle cx="153.4" cy="887.4" r="4.3" fill="none" stroke="#9a6448" stroke-width="2.6"/>
<circle cx="153.4" cy="887.4" r="2" fill="#9a6448" opacity="0.35"/>
<text x="171" y="895" font-size="21.5" text-anchor="start" fill="#000" >C</text>
<circle cx="202" cy="887.4" r="4.3" fill="none" stroke="#e01010" stroke-width="2.6"/>
<circle cx="202" cy="887.4" r="2" fill="#e01010" opacity="0.35"/>
<text x="219.5" y="895" font-size="21.5" text-anchor="start" fill="#000" >O</text>
<circle cx="255.5" cy="887.4" r="4.3" fill="none" stroke="#c4ccf4" stroke-width="2.6"/>
<circle cx="255.5" cy="887.4" r="2" fill="#c4ccf4" opacity="0.35"/>
<text x="271" y="895" font-size="21.5" text-anchor="start" fill="#000" >F</text>
<circle cx="301" cy="887.4" r="4.3" fill="none" stroke="#a88cbc" stroke-width="2.6"/>
<circle cx="301" cy="887.4" r="2" fill="#a88cbc" opacity="0.35"/>
<text x="318" y="895" font-size="21.5" text-anchor="start" fill="#000" >P</text>
<circle cx="349" cy="887.4" r="4.3" fill="none" stroke="#e2d414" stroke-width="2.6"/>
<circle cx="349" cy="887.4" r="2" fill="#e2d414" opacity="0.35"/>
<text x="365" y="895" font-size="21.5" text-anchor="start" fill="#000" >S</text>
<line x1="462.2" y1="847" x2="462.2" y2="851.9" stroke="#000" stroke-width="2" />
<line x1="501.4" y1="847" x2="501.4" y2="849.7" stroke="#000" stroke-width="2" />
<line x1="540.7" y1="847" x2="540.7" y2="851.9" stroke="#000" stroke-width="2" />
<line x1="580" y1="847" x2="580" y2="849.7" stroke="#000" stroke-width="2" />
<line x1="619.2" y1="847" x2="619.2" y2="851.9" stroke="#000" stroke-width="2" />
<line x1="658.5" y1="847" x2="658.5" y2="849.7" stroke="#000" stroke-width="2" />
<line x1="697.7" y1="847" x2="697.7" y2="851.9" stroke="#000" stroke-width="2" />
<line x1="737" y1="847" x2="737" y2="849.7" stroke="#000" stroke-width="2" />
<line x1="776.2" y1="847" x2="776.2" y2="851.9" stroke="#000" stroke-width="2" />
<text x="462.4" y="871" font-size="18.5" text-anchor="middle" fill="#000"  letter-spacing="0.4">0</text>
<text x="540.9" y="871" font-size="18.5" text-anchor="middle" fill="#000"  letter-spacing="0.4">2</text>
<text x="619.4" y="871" font-size="18.5" text-anchor="middle" fill="#000"  letter-spacing="0.4">4</text>
<text x="697.9" y="871" font-size="18.5" text-anchor="middle" fill="#000"  letter-spacing="0.4">6</text>
<text x="776.4" y="871" font-size="18.5" text-anchor="middle" fill="#000"  letter-spacing="0.4">8</text>
<line x1="457.3" y1="847" x2="462.2" y2="847" stroke="#000" stroke-width="2" />
<line x1="459.5" y1="830.3" x2="462.2" y2="830.3" stroke="#000" stroke-width="2" />
<line x1="457.3" y1="813.6" x2="462.2" y2="813.6" stroke="#000" stroke-width="2" />
<line x1="459.5" y1="796.9" x2="462.2" y2="796.9" stroke="#000" stroke-width="2" />
<line x1="457.3" y1="780.3" x2="462.2" y2="780.3" stroke="#000" stroke-width="2" />
<line x1="459.5" y1="763.6" x2="462.2" y2="763.6" stroke="#000" stroke-width="2" />
<line x1="457.3" y1="746.9" x2="462.2" y2="746.9" stroke="#000" stroke-width="2" />
<line x1="459.5" y1="730.2" x2="462.2" y2="730.2" stroke="#000" stroke-width="2" />
<line x1="457.3" y1="713.5" x2="462.2" y2="713.5" stroke="#000" stroke-width="2" />
<line x1="459.5" y1="696.8" x2="462.2" y2="696.8" stroke="#000" stroke-width="2" />
<line x1="457.3" y1="680.1" x2="462.2" y2="680.1" stroke="#000" stroke-width="2" />
<line x1="459.5" y1="663.5" x2="462.2" y2="663.5" stroke="#000" stroke-width="2" />
<line x1="457.3" y1="646.8" x2="462.2" y2="646.8" stroke="#000" stroke-width="2" />
<line x1="459.5" y1="630.1" x2="462.2" y2="630.1" stroke="#000" stroke-width="2" />
<line x1="457.3" y1="613.4" x2="462.2" y2="613.4" stroke="#000" stroke-width="2" />
<text x="454.4" y="853.3" font-size="18.5" text-anchor="end" fill="#000"  letter-spacing="0.4">0</text>
<text x="454.4" y="819.9" font-size="18.5" text-anchor="end" fill="#000"  letter-spacing="0.4">10</text>
<text x="454.4" y="786.6" font-size="18.5" text-anchor="end" fill="#000"  letter-spacing="0.4">20</text>
<text x="454.4" y="753.2" font-size="18.5" text-anchor="end" fill="#000"  letter-spacing="0.4">30</text>
<text x="454.4" y="719.8" font-size="18.5" text-anchor="end" fill="#000"  letter-spacing="0.4">40</text>
<text x="454.4" y="686.4" font-size="18.5" text-anchor="end" fill="#000"  letter-spacing="0.4">50</text>
<text x="454.4" y="653.1" font-size="18.5" text-anchor="end" fill="#000"  letter-spacing="0.4">60</text>
<text x="454.4" y="619.7" font-size="18.5" text-anchor="end" fill="#000"  letter-spacing="0.4">70</text>
<line x1="776.2" y1="847" x2="781.1" y2="847" stroke="#000" stroke-width="2" />
<line x1="776.2" y1="823.6" x2="778.9" y2="823.6" stroke="#000" stroke-width="2" />
<line x1="776.2" y1="800.3" x2="781.1" y2="800.3" stroke="#000" stroke-width="2" />
<line x1="776.2" y1="776.9" x2="778.9" y2="776.9" stroke="#000" stroke-width="2" />
<line x1="776.2" y1="753.6" x2="781.1" y2="753.6" stroke="#000" stroke-width="2" />
<line x1="776.2" y1="730.2" x2="778.9" y2="730.2" stroke="#000" stroke-width="2" />
<line x1="776.2" y1="706.8" x2="781.1" y2="706.8" stroke="#000" stroke-width="2" />
<line x1="776.2" y1="683.5" x2="778.9" y2="683.5" stroke="#000" stroke-width="2" />
<line x1="776.2" y1="660.1" x2="781.1" y2="660.1" stroke="#000" stroke-width="2" />
<line x1="776.2" y1="636.8" x2="778.9" y2="636.8" stroke="#000" stroke-width="2" />
<line x1="776.2" y1="613.4" x2="781.1" y2="613.4" stroke="#000" stroke-width="2" />
<text x="785" y="853.3" font-size="18.5" text-anchor="start" fill="#000"  letter-spacing="0.4">0</text>
<text x="785" y="806.6" font-size="18.5" text-anchor="start" fill="#000"  letter-spacing="0.4">2</text>
<text x="785" y="759.9" font-size="18.5" text-anchor="start" fill="#000"  letter-spacing="0.4">4</text>
<text x="785" y="713.1" font-size="18.5" text-anchor="start" fill="#000"  letter-spacing="0.4">6</text>
<text x="785" y="666.4" font-size="18.5" text-anchor="start" fill="#000"  letter-spacing="0.4">8</text>
<text x="785" y="619.7" font-size="18.5" text-anchor="start" fill="#000"  letter-spacing="0.4">10</text>
<text transform="translate(425,730.4) rotate(-90)" font-size="19.5" text-anchor="middle" fill="#000">g(r)</text>
<text transform="translate(820.2,728) rotate(-90)" font-size="19.5" text-anchor="middle" fill="#000">n(r)</text>
<text x="620.5" y="895.5" font-size="19.5" text-anchor="middle" fill="#000" >Distance (r, Å)</text>
<text x="471.5" y="641.4" font-size="26" text-anchor="start" fill="#000" >f</text>
<path d="M525 847 L528.9 845 L532.9 843.3 L536.8 845 L540.7 846.3 L560.3 846 L580 845.3 L619.2 846.3 L658.5 845 L697.7 843 L737 842.7 L776.2 842.7" fill="none" stroke="#138c8c" stroke-width="2.5" stroke-linejoin="round" stroke-linecap="round" />
<path d="M658.5 846.7 L678.1 845.7 L693.8 844.3 L701.6 842.3 L709.5 838.3 L717.3 835.7 L725.2 836 L733 837.7 L740.9 839.3 L750.7 841 L760.5 841.3 L768.4 841 L776.2 841.7" fill="none" stroke="#000" stroke-width="2.5" stroke-linejoin="round" stroke-linecap="round" />
<path d="M521.1 847 L525 845.3 L527 840.3 L529.7 807 L531.7 773.6 L533.6 772.2 L535.6 772.2 L537.6 790.3 L539.9 820.3 L542.3 833.7 L544.6 839.3 L548.5 843 L556.4 845.3 L568.2 846 L576 845.3 L587.8 842.7 L599.6 840 L615.3 837 L623.1 836.7 L631 839.3 L636.9 845 L642.8 846.3 L658.5 845.7 L682 843 L697.7 842 L717.3 842.7 L737 843 L776.2 843.3" fill="none" stroke="#ff8c10" stroke-width="2.5" stroke-linejoin="round" stroke-linecap="round" />
<path d="M517.1 847 L520.3 846 L521.5 843.7 L523.4 820.3 L527 750.2 L529.3 700.2 L531 644.8 L534.2 678.5 L537.8 739.2 L541.5 787.9 L543.8 822 L546.3 836.7 L551.3 842.7 L560.7 845 L572.1 846.3 L587.8 847 L776.2 847" fill="none" stroke="#ff0a0a" stroke-width="2.5" stroke-linejoin="round" stroke-linecap="round" />
<path d="M560 847 L580.3 846.3 L616.4 842 L630 838.9 L640.5 836.2 L651.2 831.5 L659.8 828 L672.5 815 L691 784.5 L707 747.4 L720.2 715.5 L736.1 673.1 L746.7 641.2 L753.4 620 L755.6 613.4" fill="none" stroke="#138c8c" stroke-width="2.8" stroke-linejoin="round" stroke-linecap="round" stroke-dasharray="11 7" stroke-linecap="butt"/>
<path d="M537 835.5 L539.4 834.8 L546.6 834.8 L573.1 832.4 L594.8 825.2 L614 815.5 L628.5 806.5 L638 805.7 L652.5 802.3 L661.8 797.8 L688.4 781.8 L717.6 758 L749.4 731.4 L774.5 705.5" fill="none" stroke="#ff8c10" stroke-width="2.8" stroke-linejoin="round" stroke-linecap="round" stroke-dasharray="11 7" stroke-linecap="butt"/>
<path d="M528 829.3 L533 805 L539 778.3 L550 769.8 L563.3 765 L575 761.3 L604.4 759 L640.6 751.3 L664.5 743.4 L691 726.1 L709.6 707.6 L728.2 686.3 L744.1 662.5 L757.4 638.6 L766.6 620 L769.5 613.4" fill="none" stroke="#ff0a0a" stroke-width="2.8" stroke-linejoin="round" stroke-linecap="round" stroke-dasharray="11 7" stroke-linecap="butt"/>
<rect x="462.2" y="613.4" width="314" height="233.6" fill="none" stroke="#000" stroke-width="2.6"/>
<line x1="544.2" y1="627.8" x2="584.9" y2="627.8" stroke="#000" stroke-width="2.8" />
<line x1="544.2" y1="653" x2="584.9" y2="653" stroke="#ff8c10" stroke-width="2.8" />
<line x1="544.2" y1="674.7" x2="584.9" y2="674.7" stroke="#ff0a0a" stroke-width="2.8" />
<line x1="544.2" y1="696" x2="584.9" y2="696" stroke="#138c8c" stroke-width="2.8" />
<text x="589" y="634" font-size="17.3">Li-P(PF<tspan font-size="11.5" dy="4">6</tspan><tspan dy="-4">)</tspan></text>
<text x="589" y="659.2" font-size="17.3" text-anchor="start" fill="#000" >Li-O(OTF)</text>
<text x="589" y="680.9" font-size="17.3" text-anchor="start" fill="#000" >Li-O(DEGDME)</text>
<text x="589" y="702.2" font-size="17.3" text-anchor="start" fill="#000" >Li-O(DOL)</text>
<text transform="translate(652,878) scale(1.25,1)" style="font-family:&quot;Liberation Mono&quot;,monospace;font-weight:normal;font-size:12px" fill="#000" stroke="#fff" stroke-width="2" paint-order="stroke">ybx8.cn</text>
<text transform="translate(652,878) scale(1.25,1)" style="font-family:&quot;Liberation Mono&quot;,monospace;font-weight:normal;font-size:12px" fill="#000" stroke="#000" stroke-width="0.45">ybx8.cn</text>
<rect x="0" y="901.5" width="831" height="2.5" fill="#000"/>
</svg>
</body></html>
